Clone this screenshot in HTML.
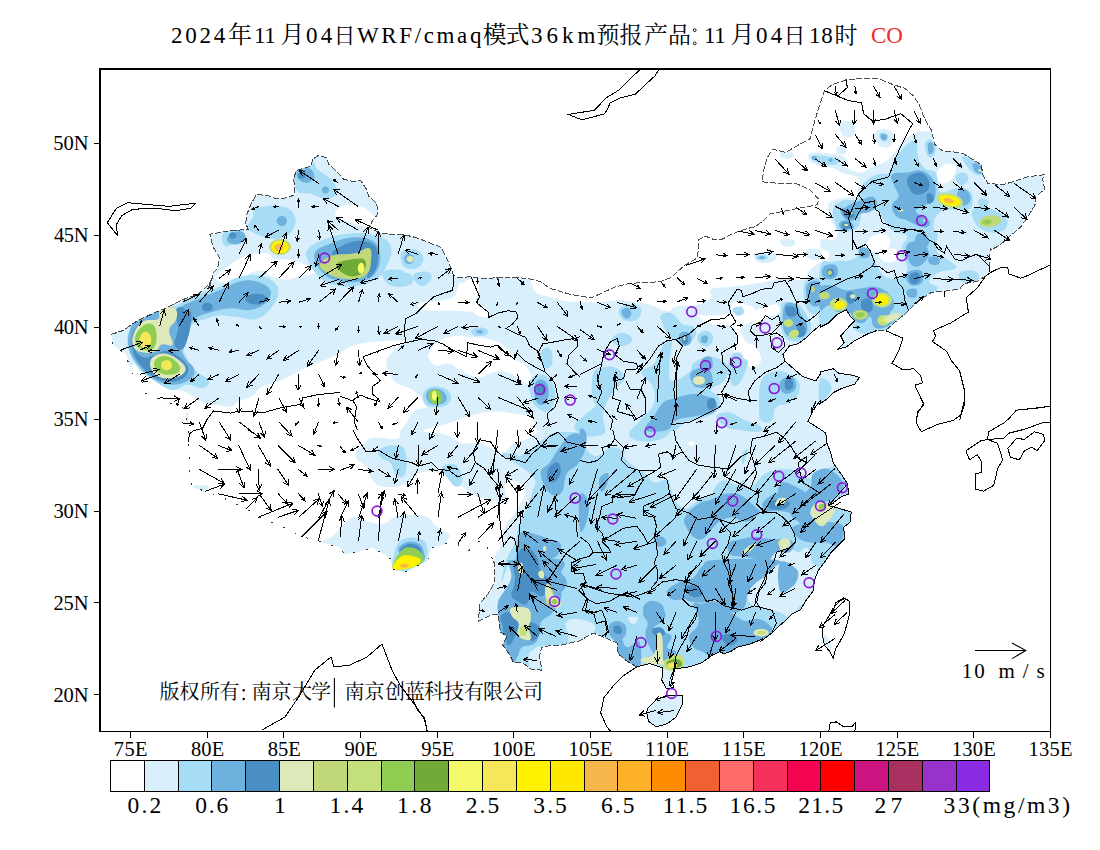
<!DOCTYPE html><html><head><meta charset="utf-8"><title>CO</title><style>html,body{margin:0;padding:0;background:#fff}svg{display:block}text{font-family:"Liberation Serif",serif;font-kerning:none;white-space:pre}text.cj{font-family:"Liberation Serif","Noto Serif CJK SC",serif}</style></head><body>
<svg width="1100" height="850" viewBox="0 0 1100 850">
<rect width="1100" height="850" fill="#fff"/>
<defs><clipPath id="c"><rect x="100" y="69" width="950.5" height="662"/></clipPath></defs>
<g clip-path="url(#c)">
<defs><clipPath id="cn"><path d="M312.4,159.6L317.8,155.7L326.6,157.5L328.7,164.0L337.5,172.7L344.0,179.3L352.7,181.5L360.4,180.4L365.8,188.0L369.1,196.7L376.7,203.3L377.8,214.2L372.4,220.7L369.1,227.3L376.7,231.6L385.5,233.8L405.1,234.9L418.2,238.2L431.3,243.6L440.0,246.9L442.6,250.0L446.9,258.7L451.3,268.5L453.5,275.1L458.9,277.9L470.9,276.6L479.6,278.4L497.1,277.9L514.6,277.5L527.7,278.4L540.7,281.6L549.5,288.2L560.4,291.5L571.3,294.7L580.0,295.8L590.9,298.0L614.9,287.1L630.2,283.2L645.5,282.7L660.7,281.6L671.6,277.3L677.1,271.8L684.7,265.3L697.8,257.6L698.5,240.0L705.0,236.0L714.0,239.6L721.5,239.6L731.3,234.2L746.6,228.7L755.3,226.6L762.9,221.1L770.0,214.0L790.0,210.0L805.0,207.0L812.0,205.8L817.5,204.7L818.6,199.3L809.8,189.5L795.0,183.0L775.0,183.0L761.8,181.8L764.0,169.4L767.0,158.0L772.7,149.1L785.8,152.4L798.9,144.7L809.8,139.3L815.0,120.0L820.0,104.0L824.4,90.7L833.1,84.2L846.2,79.8L863.6,78.3L878.9,78.7L892.0,84.2L905.1,88.5L913.8,96.2L919.3,104.9L924.7,119.1L931.3,130.0L934.6,144.2L942.2,150.7L953.1,151.8L964.0,154.0L972.7,159.5L981.5,164.9L982.6,174.7L988.0,183.5L1003.3,184.6L1014.2,181.3L1027.3,176.9L1044.7,174.7L1042.6,179.1L1044.7,188.9L1036.0,196.6L1034.9,205.3L1029.5,214.0L1020.7,227.1L1014.2,232.6L1000.0,245.0L991.0,250.0L990.2,248.7L989.1,266.2L990.2,272.7L985.8,276.0L977.1,281.5L970.6,282.5L964.0,283.6L959.6,289.1L944.4,291.3L931.3,292.4L924.7,296.7L916.0,303.3L907.3,312.0L894.2,322.9L885.5,330.6L876.7,330.6L868.0,333.8L854.9,340.4L846.2,346.9L838.5,349.1L844.0,342.6L840.7,336.0L848.4,327.3L854.9,320.7L850.5,316.4L846.2,309.8L837.5,314.2L828.7,322.9L820.0,327.3L820.0,325.3L813.5,330.7L806.9,337.3L798.2,343.8L789.5,346.0L782.9,354.7L785.1,361.3L802.6,376.6L815.7,380.9L820.0,374.4L820.0,372.0L833.1,368.7L838.5,373.1L852.7,375.3L859.3,377.5L854.9,384.0L841.8,388.4L833.1,392.7L826.5,399.3L820.0,403.6L820.7,400.0L813.1,410.2L808.0,421.6L818.2,428.0L825.8,433.1L827.1,443.3L830.9,453.5L833.5,463.6L841.1,473.8L847.5,484.0L848.7,494.2L841.1,496.7L834.7,501.8L828.4,505.6L838.5,508.2L851.3,512.0L850.0,522.2L843.6,527.3L844.9,538.7L838.5,545.1L830.9,552.7L825.8,560.4L818.2,570.5L814.4,580.7L813.1,590.9L805.5,601.1L800.4,610.0L792.7,613.5L786.2,620.0L779.6,625.5L773.1,632.0L764.4,638.6L760.0,641.8L763.3,638.6L750.2,644.0L737.1,647.3L730.6,651.6L724.0,653.8L719.6,651.6L710.9,656.0L702.2,662.6L689.1,666.9L673.8,669.1L673.8,670.2L670.6,677.8L673.8,687.6L666.2,688.7L661.8,680.0L662.9,668.0L649.8,663.6L636.7,666.9L625.8,660.4L618.2,653.8L617.1,642.9L601.8,636.4L593.1,633.1L580.0,640.7L570.2,642.9L561.5,645.1L552.7,645.1L541.8,647.3L539.6,656.0L541.8,670.2L530.9,669.1L522.2,662.6L513.5,662.6L509.1,653.8L502.6,645.1L506.9,636.4L500.4,632.0L498.2,614.5L491.6,614.5L478.6,621.1L479.6,603.6L487.3,594.9L493.8,584.0L494.9,573.1L493.8,560.0L492.7,558.7L486.2,552.2L488.4,545.6L479.6,541.3L474.2,543.5L468.7,551.1L457.8,544.6L446.9,543.5L431.6,547.8L427.3,560.9L405.5,571.8L392.4,569.6L390.2,558.7L372.7,547.8L357.5,552.2L344.4,554.4L340.0,547.8L318.2,541.3L302.9,536.9L281.1,526.0L259.3,517.3L246.2,508.6L217.8,495.5L191.6,486.7L189.5,469.3L188.4,430.0L185.1,408.7L145.8,393.5L141.5,380.4L130.5,371.6L126.2,354.2L113.1,345.5L110.9,334.5L124.0,330.2L132.7,323.6L140.4,319.3L154.5,312.7L165.5,308.4L182.9,299.6L198.2,294.2L209.1,284.4L211.3,280.0L207.6,289.5L210.9,284.0L213.1,273.1L217.5,268.7L219.6,257.8L213.1,246.9L209.8,234.3L230.5,230.6L248.0,229.5L245.8,222.9L246.9,214.2L251.3,203.3L256.7,194.5L267.6,195.6L276.4,198.9L287.3,197.8L294.9,194.5L293.8,179.3L296.0,170.5L311.3,166.2ZM647.6,708.4L656.4,699.6L667.3,695.3L682.6,695.3L682.6,704.0L676.0,717.1L667.3,723.6L656.4,726.9L648.7,721.5L646.6,712.7ZM845.1,598.2L849.5,601.5L849.9,612.4L847.3,623.3L844.0,634.2L838.6,644.0L835.3,649.5L833.1,658.2L829.8,651.6L824.4,645.1L822.2,634.2L823.3,625.5L829.8,614.5L835.3,605.8L840.7,600.4Z"/></clipPath></defs><g clip-path="url(#cn)">
<path d="M312.4,159.6L317.8,155.7L326.6,157.5L328.7,164.0L337.5,172.7L344.0,179.3L352.7,181.5L360.4,180.4L365.8,188.0L369.1,196.7L376.7,203.3L377.8,214.2L372.4,220.7L369.1,227.3L376.7,231.6L385.5,233.8L405.1,234.9L418.2,238.2L431.3,243.6L440.0,246.9L442.6,250.0L446.9,258.7L451.3,268.5L453.5,275.1L458.9,277.9L470.9,276.6L479.6,278.4L497.1,277.9L514.6,277.5L527.7,278.4L540.7,281.6L549.5,288.2L560.4,291.5L571.3,294.7L580.0,295.8L590.9,298.0L614.9,287.1L630.2,283.2L645.5,282.7L660.7,281.6L671.6,277.3L677.1,271.8L684.7,265.3L697.8,257.6L698.5,240.0L705.0,236.0L714.0,239.6L721.5,239.6L731.3,234.2L746.6,228.7L755.3,226.6L762.9,221.1L770.0,214.0L790.0,210.0L805.0,207.0L812.0,205.8L817.5,204.7L818.6,199.3L809.8,189.5L795.0,183.0L775.0,183.0L761.8,181.8L764.0,169.4L767.0,158.0L772.7,149.1L785.8,152.4L798.9,144.7L809.8,139.3L815.0,120.0L820.0,104.0L824.4,90.7L833.1,84.2L846.2,79.8L863.6,78.3L878.9,78.7L892.0,84.2L905.1,88.5L913.8,96.2L919.3,104.9L924.7,119.1L931.3,130.0L934.6,144.2L942.2,150.7L953.1,151.8L964.0,154.0L972.7,159.5L981.5,164.9L982.6,174.7L988.0,183.5L1003.3,184.6L1014.2,181.3L1027.3,176.9L1044.7,174.7L1042.6,179.1L1044.7,188.9L1036.0,196.6L1034.9,205.3L1029.5,214.0L1020.7,227.1L1014.2,232.6L1000.0,245.0L991.0,250.0L990.2,248.7L989.1,266.2L990.2,272.7L985.8,276.0L977.1,281.5L970.6,282.5L964.0,283.6L959.6,289.1L944.4,291.3L931.3,292.4L924.7,296.7L916.0,303.3L907.3,312.0L894.2,322.9L885.5,330.6L876.7,330.6L868.0,333.8L854.9,340.4L846.2,346.9L838.5,349.1L844.0,342.6L840.7,336.0L848.4,327.3L854.9,320.7L850.5,316.4L846.2,309.8L837.5,314.2L828.7,322.9L820.0,327.3L820.0,325.3L813.5,330.7L806.9,337.3L798.2,343.8L789.5,346.0L782.9,354.7L785.1,361.3L802.6,376.6L815.7,380.9L820.0,374.4L820.0,372.0L833.1,368.7L838.5,373.1L852.7,375.3L859.3,377.5L854.9,384.0L841.8,388.4L833.1,392.7L826.5,399.3L820.0,403.6L820.7,400.0L813.1,410.2L808.0,421.6L818.2,428.0L825.8,433.1L827.1,443.3L830.9,453.5L833.5,463.6L841.1,473.8L847.5,484.0L848.7,494.2L841.1,496.7L834.7,501.8L828.4,505.6L838.5,508.2L851.3,512.0L850.0,522.2L843.6,527.3L844.9,538.7L838.5,545.1L830.9,552.7L825.8,560.4L818.2,570.5L814.4,580.7L813.1,590.9L805.5,601.1L800.4,610.0L792.7,613.5L786.2,620.0L779.6,625.5L773.1,632.0L764.4,638.6L760.0,641.8L763.3,638.6L750.2,644.0L737.1,647.3L730.6,651.6L724.0,653.8L719.6,651.6L710.9,656.0L702.2,662.6L689.1,666.9L673.8,669.1L673.8,670.2L670.6,677.8L673.8,687.6L666.2,688.7L661.8,680.0L662.9,668.0L649.8,663.6L636.7,666.9L625.8,660.4L618.2,653.8L617.1,642.9L601.8,636.4L593.1,633.1L580.0,640.7L570.2,642.9L561.5,645.1L552.7,645.1L541.8,647.3L539.6,656.0L541.8,670.2L530.9,669.1L522.2,662.6L513.5,662.6L509.1,653.8L502.6,645.1L506.9,636.4L500.4,632.0L498.2,614.5L491.6,614.5L478.6,621.1L479.6,603.6L487.3,594.9L493.8,584.0L494.9,573.1L493.8,560.0L492.7,558.7L486.2,552.2L488.4,545.6L479.6,541.3L474.2,543.5L468.7,551.1L457.8,544.6L446.9,543.5L431.6,547.8L427.3,560.9L405.5,571.8L392.4,569.6L390.2,558.7L372.7,547.8L357.5,552.2L344.4,554.4L340.0,547.8L318.2,541.3L302.9,536.9L281.1,526.0L259.3,517.3L246.2,508.6L217.8,495.5L191.6,486.7L189.5,469.3L188.4,430.0L185.1,408.7L145.8,393.5L141.5,380.4L130.5,371.6L126.2,354.2L113.1,345.5L110.9,334.5L124.0,330.2L132.7,323.6L140.4,319.3L154.5,312.7L165.5,308.4L182.9,299.6L198.2,294.2L209.1,284.4L211.3,280.0L207.6,289.5L210.9,284.0L213.1,273.1L217.5,268.7L219.6,257.8L213.1,246.9L209.8,234.3L230.5,230.6L248.0,229.5L245.8,222.9L246.9,214.2L251.3,203.3L256.7,194.5L267.6,195.6L276.4,198.9L287.3,197.8L294.9,194.5L293.8,179.3L296.0,170.5L311.3,166.2Z" fill="#d9effb"/>
<path d="M647.6,708.4L656.4,699.6L667.3,695.3L682.6,695.3L682.6,704.0L676.0,717.1L667.3,723.6L656.4,726.9L648.7,721.5L646.6,712.7Z" fill="#d9effb"/>
<path d="M823.3,634.2L827.6,636.4L832.0,647.3L829.8,651.6L824.4,645.1Z" fill="#d9effb"/>
<path d="M136.0,362.9C138.6,362.9 139.5,367.7 143.6,371.6C147.8,375.6 151.1,379.3 156.7,382.6C162.4,385.8 166.8,386.3 172.0,388.0C177.2,389.8 179.0,389.8 182.9,391.3C186.8,392.8 187.7,393.5 191.6,395.6C195.6,397.8 196.9,400.2 202.6,402.2C208.2,404.2 214.3,404.6 220.0,405.5C225.7,406.3 227.0,407.4 230.9,406.6C234.8,405.7 235.3,403.3 239.6,401.1C244.0,398.9 248.4,398.5 252.7,395.6C257.1,392.8 257.1,389.5 261.5,386.9C265.8,384.3 268.9,384.7 274.6,382.6C280.2,380.4 283.3,379.1 289.8,376.0C296.4,373.0 301.2,370.1 307.3,367.3C313.4,364.4 315.1,364.0 320.4,361.8C325.6,359.6 329.5,358.1 333.5,356.4C337.4,354.6 335.8,355.3 340.0,353.1C344.2,350.9 347.3,347.6 354.5,345.3C361.8,343.0 366.2,342.7 376.4,341.6C386.5,340.6 399.6,340.2 405.5,340.2C411.3,340.2 407.2,340.0 405.5,341.6C403.7,343.2 400.4,344.7 396.7,348.2C393.0,351.7 388.4,354.3 386.9,359.1C385.4,363.9 387.1,367.4 389.1,372.2C391.1,377.0 392.1,379.6 396.7,383.1C401.3,386.6 406.3,386.2 412.0,389.6C417.7,393.1 422.0,397.1 425.1,400.6C428.2,404.0 429.5,404.9 427.3,407.1C425.1,409.3 418.6,408.0 414.2,411.5C409.8,415.0 408.1,420.8 405.5,424.6C402.8,428.3 402.8,427.2 401.1,430.0C399.3,432.8 402.0,437.2 396.7,438.7C391.5,440.3 381.5,436.8 374.9,437.6C368.4,438.5 367.9,439.4 364.0,443.1C360.1,446.8 354.8,451.4 355.3,456.2C355.7,461.0 362.7,462.3 366.2,467.1C369.7,471.9 369.2,476.3 372.7,480.2C376.2,484.1 377.1,485.9 383.6,486.7C390.2,487.6 398.5,487.2 405.5,484.5C412.4,481.9 412.4,476.3 418.6,473.6C424.7,471.0 429.9,471.0 436.0,471.5C442.1,471.9 443.9,472.8 449.1,475.8C454.3,478.9 457.0,482.8 462.2,486.7C467.4,490.7 469.2,492.8 475.3,495.5C481.4,498.1 486.6,498.1 492.7,499.8C498.8,501.6 501.5,503.8 505.8,504.2C510.2,504.6 510.6,504.2 514.6,502.0C518.5,499.8 525.5,491.1 525.5,493.3C525.5,495.5 518.5,506.4 514.6,512.9C510.6,519.5 508.4,519.9 505.8,526.0C503.2,532.1 503.2,538.2 501.5,543.5C499.7,548.7 498.8,549.1 497.1,552.2C495.4,555.2 494.9,558.7 492.7,558.7C490.6,558.7 487.1,554.8 486.2,552.2C485.3,549.6 489.7,547.8 488.4,545.6C487.1,543.5 482.5,541.7 479.6,541.3C476.8,540.8 476.4,541.5 474.2,543.5C472.0,545.4 472.0,550.9 468.7,551.1C465.5,551.3 462.2,546.1 457.8,544.6C453.5,543.0 448.7,545.4 446.9,543.5C445.2,541.5 451.3,538.2 449.1,534.7C446.9,531.2 440.4,529.5 436.0,526.0C431.6,522.5 432.5,519.5 427.3,517.3C422.0,515.1 416.4,515.1 409.8,515.1C403.3,515.1 399.8,515.5 394.5,517.3C389.3,519.0 388.9,523.0 383.6,523.8C378.4,524.7 374.5,523.0 368.4,521.6C362.3,520.3 358.3,516.4 353.1,517.3C347.9,518.2 346.5,522.1 342.2,526.0C337.8,529.9 336.7,533.6 331.3,536.9C325.8,540.2 317.5,541.4 314.9,542.4C312.3,543.3 320.6,542.6 318.2,541.7C315.8,540.8 310.3,540.9 302.9,538.0C295.5,535.1 289.8,531.0 281.1,527.1C272.4,523.2 266.3,521.9 259.3,518.4C252.3,514.9 254.5,514.0 246.2,509.6C237.9,505.3 228.7,500.9 217.8,496.6C206.9,492.2 197.5,493.3 191.6,487.8C185.8,482.4 189.2,480.8 188.4,469.3C187.5,457.7 188.2,442.1 187.3,430.0C186.4,417.9 192.5,415.8 184.0,408.7C175.5,401.6 153.5,400.2 144.7,394.6C136.0,388.9 143.2,385.0 140.4,380.4C137.5,375.8 131.4,375.1 130.5,371.6C129.7,368.2 133.4,362.9 136.0,362.9Z" fill="#ffffff"/>
<path d="M429.5,352.6C431.2,349.1 433.4,344.9 438.2,341.6C443.0,338.4 446.0,337.1 453.5,336.2C460.9,335.3 467.9,336.6 475.3,337.3C482.7,337.9 485.3,338.2 490.6,339.5C495.8,340.8 497.5,341.2 501.5,343.8C505.4,346.4 507.6,349.5 510.2,352.6C512.8,355.6 511.9,356.9 514.6,359.1C517.2,361.3 520.2,360.8 523.3,363.5C526.3,366.1 528.3,368.7 529.8,372.2C531.4,375.7 531.8,378.7 530.9,380.9C530.1,383.1 528.7,384.2 525.5,383.1C522.2,382.0 519.4,377.9 514.6,375.5C509.8,373.1 506.3,371.5 501.5,371.1C496.7,370.7 494.9,372.0 490.6,373.3C486.2,374.6 484.0,377.4 479.6,377.6C475.3,377.9 473.1,376.1 468.7,374.4C464.4,372.6 461.8,371.1 457.8,368.9C453.9,366.7 453.5,364.1 449.1,363.5C444.7,362.8 439.9,366.5 436.0,365.6C432.1,364.8 430.8,361.7 429.5,359.1C428.2,356.5 427.7,356.0 429.5,352.6Z" fill="#ffffff"/>
<path d="M444.7,424.6C454.3,421.5 461.3,418.4 470.9,415.8C480.5,413.2 484.0,411.9 492.7,411.5C501.5,411.0 506.7,412.3 514.6,413.6C522.4,415.0 527.7,414.7 532.0,418.0C536.4,421.3 534.6,427.6 536.4,430.0C538.1,432.4 542.5,428.3 540.7,430.0C539.0,431.7 532.9,436.1 527.7,438.7C522.4,441.3 519.8,440.0 514.6,443.1C509.3,446.1 505.8,452.7 501.5,454.0C497.1,455.3 497.1,451.8 492.7,449.6C488.4,447.5 485.8,444.4 479.6,443.1C473.5,441.8 469.2,444.8 462.2,443.1C455.2,441.3 452.6,436.8 444.7,434.4C436.9,432.0 422.9,433.1 422.9,431.1C422.9,429.1 435.1,427.6 444.7,424.6Z" fill="#ffffff"/>
<path d="M427.3,307.8C427.3,306.1 430.8,304.5 436.0,302.4C441.2,300.2 449.1,300.0 453.5,296.9C457.8,293.9 456.1,289.9 457.8,287.1C459.6,284.3 459.6,281.9 462.2,282.7C464.8,283.6 467.4,287.1 470.9,291.5C474.4,295.8 476.2,299.7 479.6,304.5C483.1,309.3 488.4,313.1 488.4,315.5C488.4,317.9 483.1,317.4 479.6,316.6C476.2,315.7 475.3,313.1 470.9,311.1C466.6,309.1 462.2,306.9 457.8,306.7C453.5,306.5 453.5,309.1 449.1,310.0C444.7,310.9 440.4,311.5 436.0,311.1C431.6,310.7 427.3,309.6 427.3,307.8Z" fill="#ffffff"/>
<path d="M505.8,482.4C508.4,479.7 515.0,480.2 518.9,482.4C522.8,484.5 525.5,488.9 525.5,493.3C525.5,497.6 522.0,501.6 518.9,504.2C515.9,506.8 512.8,508.1 510.2,506.4C507.6,504.6 506.7,500.3 505.8,495.5C505.0,490.7 503.2,485.0 505.8,482.4Z" fill="#ffffff"/>
<path d="M215.3,276.4C216.6,273.5 221.8,270.9 226.2,267.6C230.5,264.4 232.3,262.6 237.1,260.0C241.9,257.4 244.1,255.9 250.2,254.6C256.3,253.2 262.8,252.6 267.6,253.5C272.4,254.3 269.4,257.6 274.2,258.9C279.0,260.2 285.5,258.9 291.6,260.0C297.8,261.1 300.2,263.1 304.7,264.4C309.3,265.7 311.7,265.2 314.6,266.6C317.4,267.9 319.6,269.4 318.9,270.9C318.3,272.4 315.4,273.1 311.3,274.2C307.1,275.3 303.0,275.3 298.2,276.4C293.4,277.5 292.5,279.6 287.3,279.6C282.0,279.6 276.8,278.1 272.0,276.4C267.2,274.6 267.2,271.8 263.3,270.9C259.3,270.0 256.3,270.7 252.4,272.0C248.4,273.3 248.0,275.5 243.6,277.5C239.3,279.4 235.3,281.0 230.5,281.8C225.7,282.7 222.7,282.9 219.6,281.8C216.6,280.7 214.0,279.2 215.3,276.4Z" fill="#ffffff"/>
<path d="M420.0,303.8C424.4,302.0 434.5,300.9 445.5,300.9C456.4,300.9 466.5,302.4 474.5,303.8C482.5,305.3 485.5,306.6 485.5,308.2C485.5,309.8 482.5,311.5 474.5,311.8C466.5,312.2 455.6,310.4 445.5,310.0C435.3,309.6 428.7,311.2 423.6,310.0C418.5,308.8 415.6,305.6 420.0,303.8Z" fill="#ffffff"/>
<path d="M463.6,282.7C467.3,278.7 476.0,277.3 478.2,280.9C480.4,284.5 478.2,296.9 474.5,300.9C470.9,304.9 462.2,304.5 460.0,300.9C457.8,297.3 460.0,286.7 463.6,282.7Z" fill="#ffffff"/>
<path d="M335.3,212.0C336.2,209.4 339.6,206.8 344.0,205.5C348.4,204.2 351.9,204.2 357.1,205.5C362.3,206.8 366.7,209.0 370.2,212.0C373.7,215.1 375.0,217.7 374.6,220.7C374.1,223.8 372.4,226.8 368.0,227.3C363.6,227.7 358.4,224.7 352.7,222.9C347.1,221.2 343.1,220.7 339.6,218.6C336.2,216.4 334.4,214.6 335.3,212.0Z" fill="#ffffff"/>
<path d="M532.0,271.8C526.4,316.2 531.1,278.6 532.0,282.7C532.9,286.9 532.9,289.7 536.4,292.5C539.9,295.4 543.4,295.2 549.5,296.9C555.6,298.7 560.8,300.3 566.9,301.3C573.0,302.2 573.9,301.5 580.0,301.7C586.1,301.9 589.6,302.7 597.5,302.4C605.3,302.1 611.4,300.2 619.3,300.2C627.1,300.2 630.6,301.5 636.7,302.4C642.8,303.2 643.7,302.8 649.8,304.5C655.9,306.3 662.0,310.7 667.3,311.1C672.5,311.5 669.9,308.0 676.0,306.7C682.1,305.4 690.8,306.3 697.8,304.5C704.8,302.8 708.3,301.1 710.9,298.0C713.5,294.9 707.4,291.5 710.9,289.3C714.4,287.1 721.4,288.0 728.4,287.1C735.4,286.2 739.3,285.8 745.8,284.9C752.4,284.0 755.9,283.6 761.1,282.7C766.3,281.9 767.2,281.4 772.0,280.5C776.8,279.7 778.9,278.5 785.1,278.4C791.4,278.3 798.3,281.6 803.3,280.0C808.2,278.4 806.3,273.9 809.8,270.2C813.3,266.5 816.8,265.0 820.7,261.5C824.7,258.0 829.5,255.4 829.5,252.7C829.5,250.1 822.1,250.6 820.7,248.4C819.4,246.2 820.3,243.6 822.9,241.8C825.5,240.1 830.8,241.8 833.8,239.6C836.9,237.5 838.6,234.4 838.2,230.9C837.8,227.4 833.4,225.7 831.7,222.2C829.9,218.7 829.9,217.4 829.5,213.5C829.0,209.5 826.9,205.6 829.5,202.6C832.1,199.5 836.5,199.5 842.6,198.2C848.7,196.9 857.1,197.2 860.0,196.0C862.9,194.8 857.2,195.6 857.1,192.2C856.9,188.8 862.3,183.0 859.3,179.1C856.2,175.2 847.1,175.0 841.8,172.6C836.6,170.2 833.1,168.4 833.1,167.1C833.1,165.8 836.6,164.9 841.8,166.0C847.1,167.1 853.6,172.1 859.3,172.6C864.9,173.0 864.9,170.4 870.2,168.2C875.4,166.0 880.7,164.7 885.5,161.6C890.3,158.6 890.7,156.8 894.2,152.9C897.7,149.0 899.0,145.9 902.9,142.0C906.8,138.1 909.5,135.5 913.8,133.3C918.2,131.1 921.2,131.7 924.7,131.1C928.2,130.4 927.8,133.5 931.3,130.0C934.8,126.5 943.5,123.0 942.2,113.6C940.9,104.3 936.1,93.6 924.7,83.1C913.4,72.6 958.4,65.7 885.5,61.3C812.5,56.9 630.7,18.9 560.0,61.0C489.3,103.1 537.6,227.5 532.0,271.8Z" fill="#ffffff"/>
<path d="M697.8,315.5C697.8,313.7 704.8,315.9 710.9,315.5C717.0,315.0 724.0,315.9 728.4,313.3C732.7,310.7 729.2,304.1 732.7,302.4C736.2,300.6 741.5,303.2 745.8,304.5C750.2,305.9 753.2,305.9 754.6,308.9C755.9,312.0 755.0,315.9 752.4,319.8C749.8,323.8 742.8,324.2 741.5,328.6C740.2,332.9 743.2,338.2 745.8,341.6C748.4,345.1 751.5,342.5 754.6,346.0C757.6,349.5 761.1,354.7 761.1,359.1C761.1,363.5 757.6,367.0 754.6,367.8C751.5,368.7 748.4,366.5 745.8,363.5C743.2,360.4 744.1,355.2 741.5,352.6C738.8,349.9 733.6,353.4 732.7,350.4C731.9,347.3 737.5,342.1 737.1,337.3C736.7,332.5 735.8,329.0 730.6,326.4C725.3,323.8 717.5,326.4 710.9,324.2C704.4,322.0 697.8,317.2 697.8,315.5Z" fill="#ffffff"/>
<path d="M758.9,308.9C763.3,307.2 772.5,303.7 776.4,304.5C780.3,305.4 780.7,310.7 778.6,313.3C776.4,315.9 769.4,315.9 765.5,317.6C761.5,319.4 761.5,320.7 758.9,322.0C756.3,323.3 753.2,325.9 752.4,324.2C751.5,322.4 753.2,316.3 754.6,313.3C755.9,310.2 754.6,310.7 758.9,308.9Z" fill="#ffffff"/>
<path d="M937.8,170.4C939.6,167.3 943.1,164.7 946.6,163.8C950.0,163.0 954.0,163.4 955.3,166.0C956.6,168.6 955.3,173.4 953.1,176.9C950.9,180.4 947.4,183.0 944.4,183.5C941.3,183.9 939.1,181.7 937.8,179.1C936.5,176.5 936.1,173.4 937.8,170.4Z" fill="#ffffff"/>
<path d="M870.2,238.0C873.2,234.7 879.3,233.2 883.3,233.6C887.2,234.1 889.4,236.9 889.8,240.2C890.3,243.5 889.8,248.0 885.5,250.0C881.1,252.0 871.1,252.4 868.0,250.0C864.9,247.6 867.1,241.3 870.2,238.0Z" fill="#ffffff"/>
<path d="M878.9,253.1C880.7,250.5 890.7,247.4 894.2,248.7C897.7,250.0 898.1,257.0 896.4,259.6C894.6,262.3 889.0,263.1 885.5,261.8C882.0,260.5 877.2,255.7 878.9,253.1Z" fill="#ffffff"/>
<path d="M820.0,253.1C821.7,251.8 827.4,253.5 828.7,255.3C830.0,257.0 828.3,260.5 826.5,261.8C824.8,263.1 821.3,263.6 820.0,261.8C818.7,260.1 818.3,254.4 820.0,253.1Z" fill="#ffffff"/>
<path d="M780.4,152.4C782.3,151.3 790.0,151.3 792.4,152.4C794.8,153.5 794.3,156.7 792.4,157.8C790.4,158.9 785.0,158.9 782.6,157.8C780.2,156.7 778.4,153.5 780.4,152.4Z" fill="#d9effb"/>
<path d="M808.7,154.5C810.1,152.8 810.9,152.4 816.4,152.4C821.8,152.4 829.9,153.2 836.0,154.5C842.1,155.9 845.2,156.7 846.9,158.9C848.7,161.1 848.2,163.7 844.7,165.5C841.3,167.2 835.1,167.9 829.5,167.6C823.8,167.4 820.3,165.7 816.4,164.4C812.5,163.1 811.4,163.1 809.8,161.1C808.3,159.1 807.4,156.3 808.7,154.5Z" fill="#d9effb"/>
<path d="M840.4,124.0C841.7,121.2 848.7,120.1 851.3,121.8C853.9,123.6 854.8,129.9 853.5,132.7C852.2,135.6 847.4,137.7 844.7,136.0C842.1,134.3 839.1,126.8 840.4,124.0Z" fill="#d9effb"/>
<path d="M838.2,148.0C839.5,146.9 844.5,146.9 845.8,148.0C847.1,149.1 846.1,152.4 844.7,153.5C843.4,154.5 840.6,154.5 839.3,153.5C838.0,152.4 836.9,149.1 838.2,148.0Z" fill="#d9effb"/>
<path d="M780.4,239.6C782.1,238.3 789.5,238.6 792.4,239.6C795.2,240.7 796.3,243.8 794.6,245.1C792.8,246.4 786.5,247.3 783.6,246.2C780.8,245.1 778.6,241.0 780.4,239.6Z" fill="#d9effb"/>
<path d="M754.2,253.8C756.8,251.9 768.6,251.4 772.7,252.7C776.9,254.0 777.5,258.4 774.9,260.4C772.3,262.3 763.8,263.9 759.6,262.6C755.5,261.2 751.6,255.8 754.2,253.8Z" fill="#d9effb"/>
<path d="M820.7,239.6C822.3,238.6 827.7,238.6 829.5,239.6C831.2,240.7 831.0,244.0 829.5,245.1C827.9,246.2 823.6,246.2 821.8,245.1C820.1,244.0 819.2,240.7 820.7,239.6Z" fill="#d9effb"/>
<path d="M839.6,124.5C840.5,121.5 845.3,120.8 848.4,121.3C851.4,121.7 854.0,123.9 854.9,126.7C855.8,129.6 854.9,133.5 852.7,135.5C850.5,137.4 846.6,138.7 844.0,136.6C841.4,134.4 838.8,127.6 839.6,124.5Z" fill="#d9effb"/>
<path d="M874.5,133.3C875.9,130.0 881.5,128.5 885.5,128.9C889.4,129.3 893.3,132.0 894.2,135.5C895.1,139.0 892.9,144.4 889.8,146.4C886.8,148.3 882.0,147.9 878.9,145.3C875.9,142.7 873.2,136.6 874.5,133.3Z" fill="#d9effb"/>
<path d="M837.5,146.4C839.2,145.3 844.9,145.9 846.2,147.5C847.5,149.0 845.7,152.9 844.0,154.0C842.3,155.1 838.8,154.4 837.5,152.9C836.1,151.4 835.7,147.5 837.5,146.4Z" fill="#d9effb"/>
<path d="M754.6,254.4C757.2,252.8 768.5,253.1 772.0,254.4C775.5,255.7 774.6,259.4 772.0,260.9C769.4,262.4 762.4,263.3 758.9,262.0C755.4,260.7 751.9,255.9 754.6,254.4Z" fill="#d9effb"/>
<path d="M806.9,250.0C809.1,248.3 817.4,248.3 820.0,250.0C822.6,251.7 822.2,257.0 820.0,258.7C817.8,260.5 811.7,260.5 809.1,258.7C806.5,257.0 804.7,251.7 806.9,250.0Z" fill="#d9effb"/>
<path d="M193.8,485.6C196.4,484.8 204.3,484.8 206.9,485.6C209.5,486.5 209.5,489.1 206.9,490.0C204.3,490.9 196.4,490.9 193.8,490.0C191.2,489.1 191.2,486.5 193.8,485.6Z" fill="#d9effb"/>
<path d="M520.0,456.0C523.7,454.7 527.0,451.6 533.1,447.3C539.2,442.9 544.4,437.2 550.5,434.2C556.7,431.1 557.5,432.0 563.6,432.0C569.7,432.0 576.7,431.1 581.1,434.2C585.5,437.2 582.4,442.9 585.5,447.3C588.5,451.6 591.1,456.0 596.4,456.0C601.6,456.0 606.0,448.2 611.6,447.3C617.3,446.4 622.3,449.9 624.7,451.6C627.1,453.4 621.7,453.1 623.6,456.2C625.6,459.3 630.2,463.6 634.5,467.1C638.9,470.6 641.5,470.6 645.5,473.6C649.4,476.7 649.8,481.1 654.2,482.4C658.6,483.7 663.8,478.4 667.3,480.2C670.8,481.9 669.9,486.7 671.6,491.1C673.4,495.5 673.4,498.5 676.0,502.0C678.6,505.5 681.2,508.1 684.7,508.6C688.2,509.0 690.0,506.4 693.5,504.2C697.0,502.0 698.7,499.4 702.2,497.6C705.7,495.9 708.3,497.6 710.9,495.5C713.5,493.3 712.7,489.8 715.3,486.7C717.9,483.7 719.6,480.6 724.0,480.2C728.4,479.7 732.7,485.9 737.1,484.5C741.5,483.2 745.0,478.4 745.8,473.6C746.7,468.8 741.5,465.3 741.5,460.5C741.5,455.7 741.9,452.3 745.8,449.6C749.8,447.0 757.2,450.1 761.1,447.5C765.0,444.8 763.3,440.0 765.5,436.5C767.7,433.1 767.2,430.4 772.0,430.0C776.8,429.6 784.2,431.3 789.5,434.4C794.7,437.4 794.7,443.5 798.2,445.3C801.7,447.0 804.3,444.8 806.9,443.1C809.5,441.3 808.7,438.3 811.3,436.5C813.9,434.8 823.2,433.0 820.0,434.4C816.8,435.7 798.2,438.9 795.3,443.3C792.4,447.6 800.9,451.4 805.5,456.0C810.0,460.6 812.6,464.7 818.2,466.2C823.8,467.7 828.9,462.1 833.5,463.6C838.0,465.2 838.3,469.7 841.1,473.8C843.9,477.9 845.9,479.9 847.5,484.0C849.0,488.1 850.0,491.6 848.7,494.2C847.5,496.7 843.9,495.2 841.1,496.7C838.3,498.3 837.3,500.0 834.7,501.8C832.2,503.6 827.6,504.4 828.4,505.6C829.1,506.9 834.0,506.9 838.5,508.2C843.1,509.5 849.0,509.2 851.3,512.0C853.6,514.8 851.5,519.1 850.0,522.2C848.5,525.2 844.7,524.0 843.6,527.3C842.6,530.6 845.9,535.2 844.9,538.7C843.9,542.3 841.3,542.3 838.5,545.1C835.7,547.9 833.5,549.7 830.9,552.7C828.4,555.8 828.4,556.8 825.8,560.4C823.3,563.9 820.5,566.5 818.2,570.5C815.9,574.6 815.4,576.7 814.4,580.7C813.3,584.8 814.9,586.8 813.1,590.9C811.3,595.0 808.0,597.3 805.5,601.1C802.9,604.9 802.9,607.5 800.4,610.0C797.8,612.5 795.6,611.5 792.7,613.5C789.9,615.5 788.8,617.6 786.2,620.0C783.6,622.4 782.3,623.1 779.6,625.5C777.0,627.9 776.1,629.4 773.1,632.0C770.0,634.6 767.0,636.6 764.4,638.6C761.7,640.5 760.2,641.8 760.0,641.8C759.8,641.8 765.2,638.1 763.3,638.6C761.3,639.0 755.4,642.3 750.2,644.0C745.0,645.8 741.0,645.8 737.1,647.3C733.2,648.8 733.2,650.3 730.6,651.6C727.9,653.0 726.2,653.8 724.0,653.8C721.8,653.8 722.3,651.2 719.6,651.6C717.0,652.1 714.4,653.8 710.9,656.0C707.4,658.2 706.6,660.4 702.2,662.6C697.8,664.7 694.8,665.6 689.1,666.9C683.4,668.2 679.1,668.9 673.8,669.1C668.6,669.3 667.7,669.1 662.9,668.0C658.1,666.9 655.1,663.9 649.8,663.6C644.6,663.4 641.5,667.6 636.7,666.9C631.9,666.3 629.5,663.0 625.8,660.4C622.1,657.8 619.9,657.3 618.2,653.8C616.4,650.3 620.4,646.4 617.1,642.9C613.8,639.4 606.6,638.3 601.8,636.4C597.0,634.4 597.5,632.2 593.1,633.1C588.7,634.0 584.6,638.8 580.0,640.7C575.4,642.7 573.9,642.0 570.2,642.9C566.5,643.8 565.0,644.7 561.5,645.1C558.0,645.5 556.7,644.7 552.7,645.1C548.8,645.5 544.4,645.1 541.8,647.3C539.2,649.5 539.6,651.4 539.6,656.0C539.6,660.6 543.6,667.6 541.8,670.2C540.1,672.8 534.8,670.6 530.9,669.1C527.0,667.6 525.7,663.9 522.2,662.6C518.7,661.2 516.1,664.3 513.5,662.6C510.8,660.8 511.3,657.3 509.1,653.8C506.9,650.3 503.0,648.6 502.6,645.1C502.1,641.6 507.4,639.0 506.9,636.4C506.5,633.8 502.1,636.4 500.4,632.0C498.6,627.6 498.6,620.7 498.2,614.5C497.8,608.4 496.9,606.3 498.2,601.5C499.5,596.7 502.1,595.3 504.7,590.5C507.4,585.7 510.4,582.7 511.3,577.5C512.2,572.2 511.1,563.3 509.1,564.4C507.1,565.4 502.1,583.4 501.5,582.7C500.8,582.0 503.2,568.8 505.8,560.9C508.4,553.1 511.9,550.4 514.6,543.5C517.2,536.5 516.7,532.6 518.9,526.0C521.1,519.5 522.8,517.3 525.5,510.7C528.1,504.2 530.3,499.8 532.0,493.3C533.8,486.7 537.7,484.1 534.2,478.0C530.7,471.9 521.1,467.5 514.6,462.7C508.0,457.9 501.5,455.8 501.5,454.0C501.5,452.2 510.9,453.2 514.6,453.6C518.3,454.0 516.3,457.3 520.0,456.0Z" fill="#a6dcf5"/>
<path d="M594.2,373.1C597.7,369.2 605.5,365.7 611.6,366.5C617.8,367.4 623.9,373.1 624.7,377.5C625.6,381.8 619.5,383.6 616.0,388.4C612.5,393.2 609.9,395.8 607.3,401.5C604.7,407.1 603.4,410.6 602.9,416.7C602.5,422.8 606.8,428.1 605.1,432.0C603.4,435.9 599.0,435.9 594.2,436.4C589.4,436.8 585.0,436.4 581.1,434.2C577.2,432.0 573.7,429.4 574.5,425.5C575.4,421.5 581.1,418.9 585.5,414.5C589.8,410.2 594.6,409.3 596.4,403.6C598.1,398.0 594.6,392.3 594.2,386.2C593.8,380.1 590.7,377.0 594.2,373.1Z" fill="#a6dcf5"/>
<path d="M637.8,440.7C632.6,439.4 629.1,437.7 629.1,434.2C629.1,430.7 633.5,427.6 637.8,423.3C642.2,418.9 644.8,411.9 650.9,412.4C657.0,412.8 664.9,421.1 668.4,425.5C671.9,429.8 671.0,431.1 668.4,434.2C665.8,437.2 661.4,439.4 655.3,440.7C649.2,442.0 643.1,442.0 637.8,440.7Z" fill="#a6dcf5"/>
<path d="M716.4,416.7C716.8,413.7 723.4,411.5 729.5,412.4C735.6,413.2 740.8,418.5 746.9,421.1C753.0,423.7 757.4,423.3 760.0,425.5C762.6,427.6 764.4,431.1 760.0,432.0C755.7,432.9 744.7,430.7 738.2,429.8C731.7,429.0 731.7,430.3 727.3,427.6C722.9,425.0 715.9,419.8 716.4,416.7Z" fill="#a6dcf5"/>
<path d="M729.5,360.0C733.0,356.1 743.9,357.4 746.9,360.0C750.0,362.6 746.5,368.3 744.7,373.1C743.0,377.9 741.3,382.7 738.2,384.0C735.1,385.3 731.2,384.4 729.5,379.6C727.7,374.8 726.0,363.9 729.5,360.0Z" fill="#a6dcf5"/>
<path d="M619.3,308.9C620.6,305.9 625.8,304.5 630.2,304.5C634.5,304.5 639.8,305.9 641.1,308.9C642.4,312.0 640.2,317.6 636.7,319.8C633.2,322.0 627.1,322.0 623.6,319.8C620.1,317.6 618.0,312.0 619.3,308.9Z" fill="#a6dcf5"/>
<path d="M660.7,315.5C662.5,313.3 667.3,311.5 671.6,313.3C676.0,315.0 678.2,321.6 682.6,324.2C686.9,326.8 690.8,324.2 693.5,326.4C696.1,328.6 697.0,331.6 695.6,335.1C694.3,338.6 690.8,342.5 686.9,343.8C683.0,345.1 679.9,343.8 676.0,341.6C672.1,339.5 669.9,336.4 667.3,332.9C664.7,329.4 664.2,327.7 662.9,324.2C661.6,320.7 659.0,317.6 660.7,315.5Z" fill="#a6dcf5"/>
<path d="M612.7,337.3C614.5,335.1 619.7,332.5 623.6,332.9C627.6,333.4 632.4,336.8 632.4,339.5C632.4,342.1 627.1,345.1 623.6,346.0C620.1,346.9 617.1,345.6 614.9,343.8C612.7,342.1 611.0,339.5 612.7,337.3Z" fill="#a6dcf5"/>
<path d="M641.1,372.2C641.5,367.8 649.8,368.7 654.2,363.5C658.6,358.2 659.4,350.4 662.9,346.0C666.4,341.6 670.3,338.2 671.6,341.6C673.0,345.1 669.5,355.6 669.5,363.5C669.5,371.3 667.7,379.2 671.6,380.9C675.6,382.7 684.7,375.7 689.1,372.2C693.5,368.7 690.0,366.5 693.5,363.5C697.0,360.4 701.3,357.8 706.6,356.9C711.8,356.0 715.3,356.9 719.6,359.1C724.0,361.3 727.5,363.5 728.4,367.8C729.2,372.2 727.5,376.6 724.0,380.9C720.5,385.3 711.8,386.2 710.9,389.6C710.0,393.1 718.8,394.0 719.6,398.4C720.5,402.7 718.8,407.5 715.3,411.5C711.8,415.4 708.3,415.8 702.2,418.0C696.1,420.2 690.8,419.8 684.7,422.4C678.6,425.0 681.2,429.4 671.6,431.1C662.0,432.8 642.0,434.2 636.7,431.1C631.5,428.0 642.0,421.5 645.5,415.8C649.0,410.2 652.9,408.8 654.2,402.7C655.5,396.6 654.6,391.4 652.0,385.3C649.4,379.2 640.7,376.6 641.1,372.2Z" fill="#a6dcf5"/>
<path d="M697.8,335.1C699.1,332.5 703.5,330.3 706.6,330.7C709.6,331.2 712.7,334.2 713.1,337.3C713.5,340.3 711.4,344.7 708.7,346.0C706.1,347.3 702.2,346.0 700.0,343.8C697.8,341.6 696.5,337.7 697.8,335.1Z" fill="#a6dcf5"/>
<path d="M732.7,308.9C733.6,307.2 739.3,305.9 741.5,306.7C743.6,307.6 744.5,311.5 743.6,313.3C742.8,315.0 739.3,316.3 737.1,315.5C734.9,314.6 731.9,310.7 732.7,308.9Z" fill="#a6dcf5"/>
<path d="M782.9,302.4C786.4,301.1 793.4,301.9 798.2,304.5C803.0,307.2 804.3,311.1 806.9,315.5C809.5,319.8 811.3,322.0 811.3,326.4C811.3,330.7 810.0,334.2 806.9,337.3C803.9,340.3 800.4,341.6 796.0,341.6C791.7,341.6 788.2,340.8 785.1,337.3C782.1,333.8 781.6,329.4 780.7,324.2C779.9,319.0 780.3,315.5 780.7,311.1C781.2,306.7 779.4,303.7 782.9,302.4Z" fill="#a6dcf5"/>
<path d="M804.7,282.7C807.4,277.1 817.0,274.9 820.0,280.5C823.1,286.2 822.6,305.4 820.0,311.1C817.4,316.8 810.0,314.6 806.9,308.9C803.9,303.2 802.1,288.4 804.7,282.7Z" fill="#a6dcf5"/>
<path d="M761.1,380.9C763.7,374.8 767.2,373.9 772.0,372.2C776.8,370.4 779.9,370.4 785.1,372.2C790.3,373.9 795.6,376.6 798.2,380.9C800.8,385.3 799.9,389.6 798.2,394.0C796.5,398.4 793.8,400.1 789.5,402.7C785.1,405.4 779.9,403.6 776.4,407.1C772.9,410.6 775.1,417.6 772.0,420.2C769.0,422.8 763.7,423.7 761.1,420.2C758.5,416.7 758.9,410.6 758.9,402.7C758.9,394.9 758.5,387.0 761.1,380.9Z" fill="#a6dcf5"/>
<path d="M730.6,356.9C732.7,351.7 738.8,351.7 741.5,354.7C744.1,357.8 744.5,366.1 743.6,372.2C742.8,378.3 739.7,383.5 737.1,385.3C734.5,387.0 731.9,386.6 730.6,380.9C729.2,375.2 728.4,362.2 730.6,356.9Z" fill="#a6dcf5"/>
<path d="M593.1,374.4C595.3,367.8 600.9,366.5 604.0,367.8C607.1,369.1 608.8,373.9 608.4,380.9C607.9,387.9 604.9,398.8 601.8,402.7C598.8,406.7 594.8,406.2 593.1,400.6C591.3,394.9 590.9,380.9 593.1,374.4Z" fill="#a6dcf5"/>
<path d="M760.0,256.5C761.0,255.8 764.4,255.6 765.5,256.1C766.6,256.6 766.4,258.5 765.5,259.2C764.5,259.9 761.8,260.1 760.7,259.6C759.6,259.1 759.1,257.2 760.0,256.5Z" fill="#a6dcf5"/>
<path d="M383.6,271.8C386.0,269.6 392.4,269.2 396.7,269.6C401.1,270.1 404.2,270.9 405.5,274.0C406.8,277.1 405.9,282.5 403.3,284.9C400.7,287.3 396.1,286.9 392.4,286.0C388.7,285.1 386.5,283.4 384.7,280.5C383.0,277.7 381.2,274.0 383.6,271.8Z" fill="#a6dcf5"/>
<path d="M402.2,254.4C403.9,252.0 408.3,250.7 412.0,251.1C415.7,251.5 419.4,253.7 420.7,256.5C422.0,259.4 420.7,263.1 418.6,265.3C416.4,267.5 412.9,267.9 409.8,267.5C406.8,267.0 404.8,265.7 403.3,263.1C401.7,260.5 400.4,256.8 402.2,254.4Z" fill="#a6dcf5"/>
<path d="M414.2,274.0C416.6,272.0 423.8,270.9 427.3,271.8C430.8,272.7 432.5,275.5 431.6,278.4C430.8,281.2 426.2,285.3 422.9,286.0C419.6,286.7 417.0,284.0 415.3,281.6C413.5,279.2 411.8,276.0 414.2,274.0Z" fill="#a6dcf5"/>
<path d="M488.4,331.8C488.4,332.6 488.2,333.0 487.5,333.7C486.9,334.4 486.3,334.8 485.1,335.2C483.9,335.7 483.1,335.9 481.6,336.1C480.1,336.2 479.2,336.2 477.7,336.1C476.2,335.9 475.4,335.7 474.2,335.2C473.0,334.8 472.4,334.4 471.8,333.7C471.1,333.0 470.9,332.6 470.9,331.8C470.9,331.1 471.1,330.6 471.8,329.9C472.4,329.2 473.0,328.9 474.2,328.4C475.4,327.9 476.2,327.7 477.7,327.6C479.2,327.4 480.1,327.4 481.6,327.6C483.1,327.7 483.9,327.9 485.1,328.4C486.3,328.9 486.9,329.2 487.5,329.9C488.2,330.6 488.4,331.1 488.4,331.8Z" fill="#a6dcf5"/>
<path d="M540.7,352.6C542.1,349.1 547.1,346.9 549.5,348.2C551.9,349.5 552.7,355.2 552.7,359.1C552.7,363.0 551.4,366.5 549.5,367.8C547.5,369.1 544.7,368.7 542.9,365.6C541.2,362.6 539.4,356.0 540.7,352.6Z" fill="#a6dcf5"/>
<path d="M529.8,380.9C531.8,376.6 536.8,374.8 540.7,374.4C544.7,373.9 546.6,375.7 549.5,378.7C552.3,381.8 554.1,384.8 554.9,389.6C555.8,394.4 555.4,398.4 553.8,402.7C552.3,407.1 550.8,410.6 547.3,411.5C543.8,412.3 539.7,410.2 536.4,407.1C533.1,404.0 532.2,401.4 530.9,396.2C529.6,391.0 527.9,385.3 529.8,380.9Z" fill="#a6dcf5"/>
<path d="M424.0,391.8C426.0,388.6 429.2,386.8 433.8,386.4C438.4,385.9 443.4,387.2 446.9,389.6C450.4,392.0 451.7,395.1 451.3,398.4C450.8,401.6 448.7,404.3 444.7,406.0C440.8,407.8 435.8,407.8 431.6,407.1C427.5,406.4 425.5,405.8 424.0,402.7C422.5,399.7 422.0,395.1 424.0,391.8Z" fill="#a6dcf5"/>
<path d="M379.3,449.6C382.3,447.0 391.5,444.8 396.7,445.3C402.0,445.7 403.7,446.1 405.5,451.8C407.2,457.5 407.2,468.8 405.5,473.6C403.7,478.4 399.8,478.0 396.7,475.8C393.7,473.6 393.2,466.2 390.2,462.7C387.1,459.2 383.6,461.0 381.5,458.4C379.3,455.7 376.2,452.3 379.3,449.6Z" fill="#a6dcf5"/>
<path d="M442.6,467.1C443.9,464.0 451.7,462.7 455.6,464.9C459.6,467.1 461.8,473.6 462.2,478.0C462.6,482.4 460.4,486.3 457.8,486.7C455.2,487.2 452.2,484.1 449.1,480.2C446.0,476.3 441.2,470.1 442.6,467.1Z" fill="#a6dcf5"/>
<path d="M394.5,552.2C396.3,546.1 398.0,541.7 403.3,539.1C408.5,536.5 415.9,537.4 420.7,539.1C425.5,540.8 426.4,543.5 427.3,547.8C428.2,552.2 427.7,556.6 425.1,560.9C422.5,565.3 420.3,567.9 414.2,569.6C408.1,571.4 398.5,573.1 394.5,569.6C390.6,566.2 392.8,558.3 394.5,552.2Z" fill="#a6dcf5"/>
<path d="M296.4,168.2C300.0,164.9 308.4,162.4 312.7,162.7C317.1,163.1 314.2,166.4 318.2,170.0C322.2,173.6 329.1,176.2 332.7,180.9C336.4,185.6 337.8,190.0 336.4,193.6C334.9,197.3 330.5,199.1 325.5,199.1C320.4,199.1 316.4,195.1 310.9,193.6C305.5,192.2 301.5,194.7 298.2,191.8C294.9,188.9 294.9,183.8 294.5,179.1C294.2,174.4 292.7,171.5 296.4,168.2Z" fill="#a6dcf5"/>
<path d="M256.4,208.2C262.2,206.0 274.2,204.9 281.8,206.4C289.5,207.8 292.4,210.7 294.5,215.5C296.7,220.2 296.0,225.3 292.7,230.0C289.5,234.7 284.7,238.0 278.2,239.1C271.6,240.2 266.5,237.3 260.0,235.5C253.5,233.6 249.8,229.3 245.5,230.0C241.1,230.7 241.8,235.8 238.2,239.1C234.5,242.4 230.5,246.4 227.3,246.4C224.0,246.4 221.8,242.4 221.8,239.1C221.8,235.8 222.5,232.5 227.3,230.0C232.0,227.5 240.4,228.9 245.5,226.4C250.5,223.8 250.5,220.9 252.7,217.3C254.9,213.6 250.5,210.4 256.4,208.2Z" fill="#a6dcf5"/>
<path d="M307.3,250.0C310.5,245.3 316.7,242.4 325.5,239.1C334.2,235.8 340.7,234.4 350.9,233.6C361.1,232.9 368.4,232.9 376.4,235.5C384.4,238.0 388.7,240.5 390.9,246.4C393.1,252.2 390.2,258.0 387.3,264.5C384.4,271.1 382.9,274.7 376.4,279.1C369.8,283.5 363.3,285.3 354.5,286.4C345.8,287.5 340.0,286.7 332.7,284.5C325.5,282.4 322.9,279.8 318.2,275.5C313.5,271.1 311.3,267.8 309.1,262.7C306.9,257.6 304.0,254.7 307.3,250.0Z" fill="#a6dcf5"/>
<path d="M401.8,251.8C404.4,248.5 412.0,248.5 416.4,250.0C420.7,251.5 423.6,255.5 423.6,259.1C423.6,262.7 420.4,266.7 416.4,268.2C412.4,269.6 406.5,269.6 403.6,266.4C400.7,263.1 399.3,255.1 401.8,251.8Z" fill="#a6dcf5"/>
<path d="M178.2,304.5C184.7,301.6 186.2,299.1 194.5,295.5C202.9,291.8 211.3,290.0 220.0,286.4C228.7,282.7 230.2,279.5 238.2,277.3C246.2,275.1 252.7,274.4 260.0,275.5C267.3,276.5 270.9,279.1 274.5,282.7C278.2,286.4 278.9,288.5 278.2,293.6C277.5,298.7 275.3,303.1 270.9,308.2C266.5,313.3 262.9,317.3 256.4,319.1C249.8,320.9 245.5,318.0 238.2,317.3C230.9,316.5 226.5,315.1 220.0,315.5C213.5,315.8 211.3,316.9 205.5,319.1C199.6,321.3 195.3,321.3 190.9,326.4C186.5,331.5 184.4,338.0 183.6,344.5C182.9,351.1 185.1,354.0 187.3,359.1C189.5,364.2 190.2,365.6 194.5,370.0C198.9,374.4 207.6,377.3 209.1,380.9C210.5,384.5 206.2,387.5 201.8,388.2C197.5,388.9 193.1,384.2 187.3,384.5C181.5,384.9 179.3,390.7 172.7,390.0C166.2,389.3 161.1,384.9 154.5,380.9C148.0,376.9 144.7,375.1 140.0,370.0C135.3,364.9 133.5,361.3 130.9,355.5C128.4,349.6 127.3,346.4 127.3,340.9C127.3,335.5 127.6,332.5 130.9,328.2C134.2,323.8 137.5,322.7 143.6,319.1C149.8,315.5 154.9,312.9 161.8,310.0C168.7,307.1 171.6,307.5 178.2,304.5Z" fill="#a6dcf5"/>
<path d="M394.5,275.5C396.7,272.9 405.5,272.2 409.1,273.6C412.7,275.1 414.9,280.2 412.7,282.7C410.5,285.3 401.8,287.8 398.2,286.4C394.5,284.9 392.4,278.0 394.5,275.5Z" fill="#a6dcf5"/>
<path d="M483.6,331.8C483.6,332.4 483.5,332.8 483.1,333.4C482.7,334.0 482.3,334.3 481.6,334.7C480.8,335.1 480.3,335.2 479.4,335.4C478.5,335.5 477.9,335.5 477.0,335.4C476.0,335.2 475.5,335.1 474.8,334.7C474.0,334.3 473.7,334.0 473.3,333.4C472.9,332.8 472.7,332.4 472.7,331.8C472.7,331.2 472.9,330.8 473.3,330.2C473.7,329.7 474.0,329.4 474.8,329.0C475.5,328.6 476.0,328.4 477.0,328.3C477.9,328.1 478.5,328.1 479.4,328.3C480.3,328.4 480.8,328.6 481.6,329.0C482.3,329.4 482.7,329.7 483.1,330.2C483.5,330.8 483.6,331.2 483.6,331.8Z" fill="#a6dcf5"/>
<path d="M863.6,183.5C867.6,178.7 871.5,176.9 876.7,174.7C882.0,172.6 885.9,176.0 889.8,172.6C893.8,169.1 892.9,163.0 896.4,157.3C899.9,151.6 903.4,147.2 907.3,144.2C911.2,141.1 913.8,139.4 916.0,142.0C918.2,144.6 916.4,152.0 918.2,157.3C919.9,162.5 921.2,165.1 924.7,168.2C928.2,171.2 933.0,169.1 935.6,172.6C938.3,176.0 936.5,181.7 937.8,185.6C939.1,189.6 937.8,191.8 942.2,192.2C946.6,192.6 954.0,187.8 959.6,187.8C965.3,187.8 967.9,189.6 970.6,192.2C973.2,194.8 973.2,197.4 972.7,200.9C972.3,204.4 972.7,207.9 968.4,209.6C964.0,211.4 957.0,208.8 950.9,209.6C944.8,210.5 941.3,210.5 937.8,214.0C934.3,217.5 933.5,222.7 933.5,227.1C933.5,231.5 938.7,231.2 937.8,235.8C937.0,240.4 936.1,247.2 929.1,250.0C922.1,252.8 907.3,252.8 902.9,250.0C898.6,247.2 909.0,239.5 907.3,235.8C905.5,232.1 898.6,234.1 894.2,231.5C889.8,228.8 889.0,227.1 885.5,222.7C882.0,218.4 881.1,211.8 876.7,209.6C872.4,207.5 868.4,209.2 863.6,211.8C858.8,214.4 857.1,218.8 852.7,222.7C848.4,226.7 845.3,231.5 841.8,231.5C838.3,231.5 837.0,227.1 835.3,222.7C833.5,218.4 831.8,214.0 833.1,209.6C834.4,205.3 837.0,203.1 841.8,200.9C846.6,198.7 852.7,202.2 857.1,198.7C861.5,195.2 859.7,188.3 863.6,183.5Z" fill="#a6dcf5"/>
<path d="M924.7,144.2C925.2,140.7 929.1,138.5 931.3,139.8C933.5,141.1 936.1,147.2 935.6,150.7C935.2,154.2 931.3,158.6 929.1,157.3C926.9,156.0 924.3,147.7 924.7,144.2Z" fill="#a6dcf5"/>
<path d="M955.3,176.9C955.7,174.3 961.4,172.1 964.0,172.6C966.6,173.0 968.8,176.5 968.4,179.1C967.9,181.7 964.4,186.1 961.8,185.6C959.2,185.2 954.8,179.5 955.3,176.9Z" fill="#a6dcf5"/>
<path d="M961.8,157.3C961.8,154.7 968.6,157.3 972.7,159.5C976.9,161.6 980.6,165.1 982.6,168.2C984.5,171.2 984.5,173.9 982.6,174.7C980.6,175.6 976.9,176.0 972.7,172.6C968.6,169.1 961.8,159.9 961.8,157.3Z" fill="#a6dcf5"/>
<path d="M972.7,209.6C974.9,206.6 980.2,206.6 985.8,207.5C991.5,208.3 996.7,211.0 1001.1,214.0C1005.5,217.1 1007.7,219.2 1007.7,222.7C1007.7,226.2 1005.5,229.7 1001.1,231.5C996.7,233.2 991.1,233.2 985.8,231.5C980.6,229.7 977.5,227.1 974.9,222.7C972.3,218.4 970.6,212.7 972.7,209.6Z" fill="#a6dcf5"/>
<path d="M979.3,198.7C981.0,197.6 986.7,199.2 988.0,200.9C989.3,202.7 987.6,206.4 985.8,207.5C984.1,208.6 980.6,208.1 979.3,206.4C978.0,204.6 977.5,199.8 979.3,198.7Z" fill="#a6dcf5"/>
<path d="M824.4,157.3C826.3,156.4 833.1,157.1 835.3,158.4C837.5,159.7 837.2,163.0 835.3,163.8C833.3,164.7 827.6,164.0 825.5,162.7C823.3,161.4 822.4,158.2 824.4,157.3Z" fill="#a6dcf5"/>
<path d="M880.0,133.3C881.3,132.2 886.3,132.8 887.6,134.4C889.0,135.9 887.9,139.8 886.6,140.9C885.2,142.0 882.4,141.4 881.1,139.8C879.8,138.3 878.7,134.4 880.0,133.3Z" fill="#a6dcf5"/>
<path d="M812.0,156.7C813.3,155.6 815.5,155.2 820.7,155.6C826.0,156.1 835.1,157.2 838.2,158.9C841.3,160.7 838.6,163.3 836.0,164.4C833.4,165.5 829.5,165.0 825.1,164.4C820.7,163.7 816.8,162.6 814.2,161.1C811.6,159.6 810.7,157.8 812.0,156.7Z" fill="#a6dcf5"/>
<path d="M834.9,204.7C837.5,202.6 846.3,202.6 851.3,202.6C856.3,202.6 858.3,200.8 860.0,204.7C861.8,208.7 861.8,217.0 860.0,222.2C858.3,227.4 855.7,229.2 851.3,230.9C846.9,232.7 841.3,232.7 838.2,230.9C835.1,229.2 836.0,225.7 836.0,222.2C836.0,218.7 838.4,217.0 838.2,213.5C838.0,210.0 832.3,206.9 834.9,204.7Z" fill="#a6dcf5"/>
<path d="M822.9,268.0C824.7,264.7 828.2,262.8 831.7,263.6C835.1,264.5 839.5,269.1 840.4,272.4C841.3,275.6 839.5,278.5 836.0,280.0C832.5,281.5 825.5,282.4 822.9,280.0C820.3,277.6 821.2,271.3 822.9,268.0Z" fill="#a6dcf5"/>
<path d="M767.9,257.5C767.9,258.0 767.8,258.3 767.3,258.8C766.9,259.2 766.5,259.4 765.6,259.8C764.8,260.1 764.2,260.2 763.2,260.3C762.2,260.4 761.5,260.4 760.5,260.3C759.4,260.2 758.8,260.1 758.0,259.8C757.2,259.4 756.8,259.2 756.3,258.8C755.9,258.3 755.7,258.0 755.7,257.5C755.7,257.0 755.9,256.8 756.3,256.3C756.8,255.9 757.2,255.6 758.0,255.3C758.8,255.0 759.4,254.9 760.5,254.8C761.5,254.7 762.2,254.7 763.2,254.8C764.2,254.9 764.8,255.0 765.6,255.3C766.5,255.6 766.9,255.9 767.3,256.3C767.8,256.8 767.9,257.0 767.9,257.5Z" fill="#a6dcf5"/>
<path d="M820.0,268.4C822.6,255.7 826.5,263.6 833.1,261.8C839.6,260.1 846.6,262.3 852.7,259.6C858.8,257.0 859.3,248.3 863.6,248.7C868.0,249.2 870.2,256.1 874.5,261.8C878.9,267.5 880.2,274.0 885.5,277.1C890.7,280.1 896.4,278.8 900.7,277.1C905.1,275.3 906.8,273.2 907.3,268.4C907.7,263.6 902.9,258.8 902.9,253.1C902.9,247.4 901.2,242.6 907.3,240.0C913.4,237.4 927.4,237.4 933.5,240.0C939.6,242.6 934.3,248.7 937.8,253.1C941.3,257.5 947.4,258.8 950.9,261.8C954.4,264.9 957.9,266.2 955.3,268.4C952.7,270.5 943.1,270.1 937.8,272.7C932.6,275.3 929.1,278.4 929.1,281.5C929.1,284.5 937.8,285.4 937.8,288.0C937.8,290.6 933.5,291.5 929.1,294.5C924.7,297.6 920.4,299.8 916.0,303.3C911.6,306.8 911.6,308.1 907.3,312.0C902.9,315.9 898.6,319.2 894.2,322.9C889.8,326.6 889.0,329.0 885.5,330.6C882.0,332.1 881.1,329.9 876.7,330.6C872.4,331.2 868.4,334.5 863.6,333.8C858.8,333.2 854.5,329.9 852.7,327.3C851.0,324.7 856.2,324.2 854.9,320.7C853.6,317.2 849.7,311.1 846.2,309.8C842.7,308.5 840.9,311.6 837.5,314.2C834.0,316.8 832.2,320.7 828.7,322.9C825.2,325.1 821.7,336.0 820.0,325.1C818.3,314.2 817.4,281.0 820.0,268.4Z" fill="#a6dcf5"/>
<path d="M959.6,272.7C961.8,270.5 968.8,269.7 972.7,270.5C976.7,271.4 979.3,274.7 979.3,277.1C979.3,279.5 976.2,281.7 972.7,282.5C969.2,283.4 964.4,283.4 961.8,281.5C959.2,279.5 957.5,274.9 959.6,272.7Z" fill="#a6dcf5"/>
<path d="M820.0,379.6C821.7,375.7 826.5,379.6 828.7,381.8C830.9,384.0 832.7,386.6 830.9,390.6C829.2,394.5 822.2,403.6 820.0,401.5C817.8,399.3 818.3,383.6 820.0,379.6Z" fill="#a6dcf5"/>
<path d="M767.7,560.9C769.0,557.0 772.0,554.8 776.4,552.2C780.7,549.6 785.1,547.8 789.5,547.8C793.8,547.8 794.7,552.2 798.2,552.2C801.7,552.2 804.3,546.1 806.9,547.8C809.5,549.6 811.3,555.7 811.3,560.9C811.3,566.2 809.5,569.6 806.9,574.0C804.3,578.4 801.7,579.2 798.2,582.7C794.7,586.2 793.8,588.8 789.5,591.5C785.1,594.1 781.6,594.1 776.4,595.8C771.1,597.6 767.7,600.2 763.3,600.2C758.9,600.2 757.2,598.4 754.6,595.8C751.9,593.2 748.4,590.2 750.2,587.1C751.9,584.0 759.4,583.6 763.3,580.6C767.2,577.5 769.0,575.8 769.8,571.8C770.7,567.9 766.3,564.8 767.7,560.9Z" fill="#d9effb"/>
<path d="M772.0,568.7C776.4,565.7 779.9,563.9 785.1,562.2C790.3,560.4 792.3,559.6 798.2,560.0C804.1,560.4 810.6,562.2 814.6,564.4C818.5,566.5 818.5,566.1 817.8,570.9C817.2,575.7 815.2,580.9 811.3,588.4C807.4,595.8 802.6,602.3 798.2,608.0C793.8,613.7 793.0,615.9 789.5,616.7C786.0,617.6 784.2,613.7 780.7,612.4C777.3,611.1 775.5,611.1 772.0,610.2C768.5,609.3 767.7,609.3 763.3,608.0C758.9,606.7 753.2,606.7 750.2,603.6C747.1,600.6 747.1,596.7 748.0,592.7C748.9,588.8 751.5,587.1 754.6,584.0C757.6,580.9 759.8,580.5 763.3,577.5C766.8,574.4 767.7,571.8 772.0,568.7Z" fill="#d9effb"/>
<path d="M565.8,623.3C567.1,620.2 569.3,618.9 574.6,618.9C579.8,618.9 588.1,620.7 592.0,623.3C595.9,625.9 595.9,628.5 594.2,632.0C592.5,635.5 588.1,638.6 583.3,640.7C578.5,642.9 573.2,644.2 570.2,642.9C567.1,641.6 568.9,638.1 568.0,634.2C567.1,630.3 564.5,626.3 565.8,623.3Z" fill="#d9effb"/>
<path d="M530.9,651.6C533.5,649.5 540.1,643.8 541.8,647.3C543.6,650.8 541.8,664.7 539.6,669.1C537.5,673.5 533.1,671.3 530.9,669.1C528.7,666.9 528.7,661.7 528.7,658.2C528.7,654.7 528.3,653.8 530.9,651.6Z" fill="#d9effb"/>
<path d="M780.0,552.7C783.1,550.7 790.2,550.7 795.3,552.7C800.4,554.8 801.6,557.3 805.5,562.9C809.3,568.5 814.4,573.1 814.4,580.7C814.4,588.4 809.3,596.5 805.5,601.1C801.6,605.7 797.3,610.3 795.3,603.6C793.2,597.0 798.3,576.1 795.3,568.0C792.2,559.9 783.1,566.0 780.0,562.9C776.9,559.9 776.9,554.8 780.0,552.7Z" fill="#d9effb"/>
<path d="M628.0,617.8C628.9,616.5 636.7,616.5 637.8,617.8C638.9,619.1 635.4,624.4 633.5,624.4C631.5,624.4 627.1,619.1 628.0,617.8Z" fill="#d9effb"/>
<path d="M689.1,442.0C690.0,441.3 692.6,441.3 693.5,442.0C694.3,442.7 694.3,444.6 693.5,445.3C692.6,445.9 690.0,445.9 689.1,445.3C688.2,444.6 688.2,442.7 689.1,442.0Z" fill="#ffffff"/>
<path d="M751.6,434.7C758.6,429.9 770.8,430.8 782.2,428.2C793.5,425.6 799.6,420.8 808.4,421.6C817.1,422.5 821.0,426.4 825.8,432.6C830.6,438.7 830.6,445.6 832.4,452.2C834.1,458.7 836.7,461.8 834.6,465.3C832.4,468.8 825.8,467.0 821.5,469.6C817.1,472.3 817.1,477.5 812.7,478.4C808.4,479.2 804.0,475.8 799.6,474.0C795.3,472.3 795.3,470.5 790.9,469.6C786.6,468.8 783.1,468.8 777.8,469.6C772.6,470.5 769.1,471.4 764.7,474.0C760.4,476.6 759.5,480.1 756.0,482.7C752.5,485.4 749.9,489.7 747.3,487.1C744.7,484.5 742.9,476.6 742.9,469.6C742.9,462.7 745.5,459.2 747.3,452.2C749.0,445.2 744.7,439.5 751.6,434.7Z" fill="#d9effb"/>
<path d="M298.2,170.0C300.4,167.8 305.8,166.7 309.1,168.2C312.4,169.6 314.9,174.4 314.5,177.3C314.2,180.2 310.5,182.4 307.3,182.7C304.0,183.1 300.0,181.6 298.2,179.1C296.4,176.5 296.0,172.2 298.2,170.0Z" fill="#6fb1de"/>
<path d="M329.1,190.0C329.1,190.6 329.0,191.0 328.7,191.6C328.5,192.1 328.2,192.4 327.7,192.8C327.2,193.2 326.9,193.4 326.3,193.5C325.6,193.7 325.3,193.7 324.6,193.5C324.0,193.4 323.7,193.2 323.2,192.8C322.7,192.4 322.5,192.1 322.2,191.6C321.9,191.0 321.8,190.6 321.8,190.0C321.8,189.4 321.9,189.0 322.2,188.4C322.5,187.9 322.7,187.6 323.2,187.2C323.7,186.8 324.0,186.6 324.6,186.5C325.3,186.3 325.6,186.3 326.3,186.5C326.9,186.6 327.2,186.8 327.7,187.2C328.2,187.6 328.5,187.9 328.7,188.4C329.0,189.0 329.1,189.4 329.1,190.0Z" fill="#6fb1de"/>
<path d="M286.9,220.9C286.9,221.8 286.8,222.3 286.4,223.1C286.0,223.9 285.7,224.3 285.0,224.9C284.3,225.4 283.8,225.7 283.0,225.9C282.1,226.1 281.5,226.1 280.7,225.9C279.8,225.7 279.3,225.4 278.6,224.9C278.0,224.3 277.6,223.9 277.2,223.1C276.8,222.3 276.7,221.8 276.7,220.9C276.7,220.0 276.8,219.5 277.2,218.7C277.6,217.9 278.0,217.5 278.6,216.9C279.3,216.4 279.8,216.1 280.7,215.9C281.5,215.7 282.1,215.7 283.0,215.9C283.8,216.1 284.3,216.4 285.0,216.9C285.7,217.5 286.0,217.9 286.4,218.7C286.8,219.5 286.9,220.0 286.9,220.9Z" fill="#6fb1de"/>
<path d="M230.9,233.6C233.8,231.8 238.9,230.7 241.8,231.8C244.7,232.9 246.5,236.5 245.5,239.1C244.4,241.6 240.0,244.2 236.4,244.5C232.7,244.9 228.4,243.1 227.3,240.9C226.2,238.7 228.0,235.5 230.9,233.6Z" fill="#6fb1de"/>
<path d="M314.5,253.6C316.4,247.5 324.7,246.0 332.7,242.7C340.7,239.5 346.5,237.6 354.5,237.3C362.5,236.9 367.6,237.6 372.7,240.9C377.8,244.2 379.3,247.5 380.0,253.6C380.7,259.8 380.0,266.4 376.4,271.8C372.7,277.3 369.1,279.1 361.8,280.9C354.5,282.7 347.6,282.4 340.0,280.9C332.4,279.5 328.7,279.1 323.6,273.6C318.5,268.2 312.7,259.8 314.5,253.6Z" fill="#6fb1de"/>
<path d="M181.8,306.4C186.5,303.1 190.5,302.4 198.2,299.1C205.8,295.8 211.3,293.6 220.0,290.0C228.7,286.4 233.8,282.4 241.8,280.9C249.8,279.5 254.2,280.5 260.0,282.7C265.8,284.9 270.2,287.5 270.9,291.8C271.6,296.2 268.0,300.9 263.6,304.5C259.3,308.2 255.6,309.3 249.1,310.0C242.5,310.7 238.2,307.8 230.9,308.2C223.6,308.5 220.0,309.6 212.7,311.8C205.5,314.0 200.0,314.7 194.5,319.1C189.1,323.5 188.7,328.5 185.5,333.6C182.2,338.7 180.7,344.5 178.2,344.5C175.6,344.5 173.5,339.5 172.7,333.6C172.0,327.8 172.7,320.9 174.5,315.5C176.4,310.0 177.1,309.6 181.8,306.4Z" fill="#6fb1de"/>
<path d="M129.1,333.6C130.5,327.8 131.3,323.5 136.4,319.1C141.5,314.7 147.3,313.3 154.5,311.8C161.8,310.4 168.4,307.5 172.7,311.8C177.1,316.2 174.2,324.9 176.4,333.6C178.5,342.4 180.0,348.2 183.6,355.5C187.3,362.7 193.8,364.9 194.5,370.0C195.3,375.1 192.4,378.0 187.3,380.9C182.2,383.8 176.4,385.3 169.1,384.5C161.8,383.8 157.5,381.6 150.9,377.3C144.4,372.9 140.7,368.5 136.4,362.7C132.0,356.9 130.5,354.0 129.1,348.2C127.6,342.4 127.6,339.5 129.1,333.6Z" fill="#6fb1de"/>
<path d="M414.2,259.1C414.2,260.0 414.1,260.5 413.7,261.3C413.3,262.1 413.0,262.5 412.3,263.1C411.6,263.6 411.1,263.9 410.2,264.1C409.4,264.3 408.8,264.3 408.0,264.1C407.1,263.9 406.6,263.6 405.9,263.1C405.2,262.5 404.9,262.1 404.5,261.3C404.1,260.5 404.0,260.0 404.0,259.1C404.0,258.2 404.1,257.7 404.5,256.9C404.9,256.1 405.2,255.7 405.9,255.1C406.6,254.6 407.1,254.3 408.0,254.1C408.8,253.9 409.4,253.9 410.2,254.1C411.1,254.3 411.6,254.6 412.3,255.1C413.0,255.7 413.3,256.1 413.7,256.9C414.1,257.7 414.2,258.2 414.2,259.1Z" fill="#6fb1de"/>
<path d="M535.3,383.1C536.8,379.4 540.3,379.0 542.9,379.8C545.5,380.7 547.5,383.3 548.4,387.5C549.3,391.6 548.8,397.1 547.3,400.6C545.8,404.0 543.1,405.4 540.7,404.9C538.3,404.5 536.4,402.7 535.3,398.4C534.2,394.0 533.8,386.8 535.3,383.1Z" fill="#6fb1de"/>
<path d="M427.3,391.8C429.0,389.4 432.5,388.3 436.0,388.6C439.5,388.8 442.8,390.3 444.7,392.9C446.7,395.5 447.6,399.2 445.8,401.6C444.1,404.0 439.7,405.1 436.0,404.9C432.3,404.7 429.0,403.2 427.3,400.6C425.5,397.9 425.5,394.2 427.3,391.8Z" fill="#6fb1de"/>
<path d="M483.1,331.8C483.1,332.1 483.1,332.3 482.8,332.6C482.5,332.9 482.3,333.0 481.8,333.2C481.3,333.4 481.0,333.5 480.4,333.5C479.8,333.6 479.5,333.6 478.9,333.5C478.3,333.5 477.9,333.4 477.5,333.2C477.0,333.0 476.8,332.9 476.5,332.6C476.2,332.3 476.2,332.1 476.2,331.8C476.2,331.5 476.2,331.3 476.5,331.1C476.8,330.8 477.0,330.6 477.5,330.5C477.9,330.3 478.3,330.2 478.9,330.1C479.5,330.1 479.8,330.1 480.4,330.1C481.0,330.2 481.3,330.3 481.8,330.5C482.3,330.6 482.5,330.8 482.8,331.1C483.1,331.3 483.1,331.5 483.1,331.8Z" fill="#6fb1de"/>
<path d="M540.7,471.5C541.6,466.7 545.1,468.4 549.5,462.7C553.8,457.1 558.2,448.8 562.6,443.1C566.9,437.4 567.8,435.7 571.3,434.4C574.8,433.1 578.3,431.3 580.0,436.5C581.8,441.8 582.6,453.1 580.0,460.5C577.4,468.0 570.4,467.5 566.9,473.6C563.4,479.7 565.2,486.7 562.6,491.1C559.9,495.5 557.3,496.3 553.8,495.5C550.3,494.6 547.7,491.5 545.1,486.7C542.5,481.9 539.9,476.3 540.7,471.5Z" fill="#6fb1de"/>
<path d="M521.1,532.6C525.0,529.1 530.7,533.4 536.4,534.7C542.1,536.0 544.7,537.4 549.5,539.1C554.3,540.8 558.6,540.4 560.4,543.5C562.1,546.5 560.4,550.9 558.2,554.4C556.0,557.9 549.5,557.9 549.5,560.9C549.5,564.0 554.7,565.3 558.2,569.6C561.7,574.0 566.9,577.5 566.9,582.7C566.9,588.0 561.7,591.5 558.2,595.8C554.7,600.2 553.0,601.7 549.5,604.6C546.0,607.4 549.5,608.9 540.7,610.0C532.0,611.1 511.9,613.7 505.8,610.0C499.7,606.3 508.4,599.5 510.2,591.5C511.9,583.4 513.2,577.5 514.6,569.6C515.9,561.8 515.4,559.6 516.7,552.2C518.0,544.8 517.2,536.0 521.1,532.6Z" fill="#6fb1de"/>
<path d="M398.9,552.2C395.6,548.5 401.5,544.1 405.5,542.4C409.4,540.6 414.8,541.5 418.6,543.5C422.3,545.4 423.4,548.7 424.0,552.2C424.7,555.7 426.8,560.9 421.8,560.9C416.8,560.9 402.2,555.9 398.9,552.2Z" fill="#6fb1de"/>
<path d="M621.5,311.1C621.9,308.9 626.0,307.2 628.0,307.8C630.0,308.5 631.7,312.2 631.3,314.4C630.8,316.6 627.8,319.4 625.8,318.7C623.9,318.1 621.0,313.3 621.5,311.1Z" fill="#6fb1de"/>
<path d="M680.4,332.9C682.3,331.4 686.9,331.2 689.1,332.9C691.3,334.7 692.2,339.0 691.3,341.6C690.4,344.3 687.1,346.2 684.7,346.0C682.3,345.8 680.2,343.2 679.3,340.6C678.4,337.9 678.4,334.4 680.4,332.9Z" fill="#6fb1de"/>
<path d="M702.2,336.2C703.5,335.1 706.8,334.9 707.6,336.2C708.5,337.5 707.9,341.6 706.6,342.7C705.2,343.8 702.0,343.0 701.1,341.6C700.2,340.3 700.9,337.3 702.2,336.2Z" fill="#6fb1de"/>
<path d="M691.3,372.2C693.5,369.6 698.3,367.8 702.2,367.8C706.1,367.8 709.2,368.7 710.9,372.2C712.7,375.7 713.5,382.2 710.9,385.3C708.3,388.3 701.8,388.3 697.8,387.5C693.9,386.6 692.6,384.0 691.3,380.9C690.0,377.9 689.1,374.8 691.3,372.2Z" fill="#6fb1de"/>
<path d="M702.2,359.1C703.7,356.7 709.0,355.2 710.9,356.9C712.9,358.7 713.5,365.4 712.0,367.8C710.5,370.2 705.2,370.7 703.3,368.9C701.3,367.2 700.7,361.5 702.2,359.1Z" fill="#6fb1de"/>
<path d="M673.8,398.4C679.9,396.6 686.9,394.4 693.5,394.0C700.0,393.6 702.2,394.9 706.6,396.2C710.9,397.5 713.5,397.5 715.3,400.6C717.0,403.6 718.8,408.4 715.3,411.5C711.8,414.5 705.7,414.1 697.8,415.8C690.0,417.6 682.1,417.4 676.0,420.2C669.9,423.0 673.4,428.0 667.3,430.0C661.2,432.0 648.1,432.8 645.5,430.0C642.8,427.2 650.7,421.3 654.2,415.8C657.7,410.4 659.0,406.2 662.9,402.7C666.8,399.2 667.7,400.1 673.8,398.4Z" fill="#6fb1de"/>
<path d="M785.1,304.5C787.7,301.5 793.0,302.8 796.0,304.5C799.1,306.3 798.2,309.3 800.4,313.3C802.6,317.2 806.1,319.8 806.9,324.2C807.8,328.6 807.4,332.5 804.7,335.1C802.1,337.7 797.8,337.7 793.8,337.3C789.9,336.8 787.3,336.4 785.1,332.9C782.9,329.4 782.9,325.5 782.9,319.8C782.9,314.2 782.5,307.6 785.1,304.5Z" fill="#6fb1de"/>
<path d="M806.9,284.9C809.1,281.0 817.4,278.8 820.0,282.7C822.6,286.7 822.2,300.6 820.0,304.5C817.8,308.5 811.7,306.3 809.1,302.4C806.5,298.4 804.7,288.8 806.9,284.9Z" fill="#6fb1de"/>
<path d="M780.7,380.9C782.9,378.3 788.6,375.2 791.7,376.6C794.7,377.9 796.9,384.0 796.0,387.5C795.1,391.0 790.3,393.6 787.3,394.0C784.2,394.4 782.1,392.3 780.7,389.6C779.4,387.0 778.6,383.5 780.7,380.9Z" fill="#6fb1de"/>
<path d="M580.0,430.0C581.3,425.6 585.7,430.0 586.5,434.4C587.4,438.7 585.7,447.5 584.4,451.8C583.1,456.2 580.9,460.5 580.0,456.2C579.1,451.8 578.7,434.4 580.0,430.0Z" fill="#6fb1de"/>
<path d="M580.0,495.5C581.7,489.8 587.4,496.8 588.7,502.0C590.0,507.2 588.3,516.0 586.5,521.6C584.8,527.3 581.3,535.6 580.0,530.4C578.7,525.1 578.3,501.1 580.0,495.5Z" fill="#6fb1de"/>
<path d="M599.6,478.0C601.2,474.5 607.1,471.9 608.4,473.6C609.7,475.4 607.7,483.2 606.2,486.7C604.7,490.2 602.0,492.8 600.7,491.1C599.4,489.3 598.1,481.5 599.6,478.0Z" fill="#6fb1de"/>
<path d="M684.7,517.3C686.9,512.5 692.6,507.7 697.8,504.2C703.1,500.7 706.6,501.6 710.9,499.8C715.3,498.1 715.7,496.8 719.6,495.5C723.6,494.2 726.2,493.3 730.6,493.3C734.9,493.3 736.7,492.8 741.5,495.5C746.3,498.1 751.1,502.9 754.6,506.4C758.0,509.9 760.7,509.9 758.9,512.9C757.2,516.0 751.1,520.8 745.8,521.6C740.6,522.5 738.0,517.3 732.7,517.3C727.5,517.3 724.0,519.0 719.6,521.6C715.3,524.3 714.4,526.9 710.9,530.4C707.4,533.9 705.7,537.8 702.2,539.1C698.7,540.4 696.5,539.1 693.5,536.9C690.4,534.7 688.7,532.1 686.9,528.2C685.2,524.3 682.6,522.1 684.7,517.3Z" fill="#6fb1de"/>
<path d="M763.3,502.0C765.5,498.5 771.1,495.5 776.4,493.3C781.6,491.1 783.4,491.1 789.5,491.1C795.6,491.1 800.8,493.3 806.9,493.3C813.0,493.3 817.4,484.5 820.0,491.1C822.6,497.6 822.6,518.6 820.0,526.0C817.4,533.4 811.3,529.1 806.9,528.2C802.6,527.3 801.7,524.7 798.2,521.6C794.7,518.6 793.8,515.1 789.5,512.9C785.1,510.7 781.2,511.2 776.4,510.7C771.6,510.3 768.1,512.5 765.5,510.7C762.8,509.0 761.1,505.5 763.3,502.0Z" fill="#6fb1de"/>
<path d="M728.4,543.5C730.6,540.4 736.2,540.4 741.5,539.1C746.7,537.8 748.4,536.9 754.6,536.9C760.7,536.9 765.9,538.7 772.0,539.1C778.1,539.5 780.7,538.2 785.1,539.1C789.5,540.0 793.0,540.8 793.8,543.5C794.7,546.1 793.0,550.4 789.5,552.2C786.0,553.9 780.7,550.4 776.4,552.2C772.0,553.9 772.0,559.6 767.7,560.9C763.3,562.2 759.8,559.6 754.6,558.7C749.3,557.9 746.3,557.4 741.5,556.6C736.7,555.7 733.2,557.0 730.6,554.4C727.9,551.8 726.2,546.5 728.4,543.5Z" fill="#6fb1de"/>
<path d="M684.7,582.7C686.5,579.2 690.0,579.7 693.5,580.6C697.0,581.4 697.8,586.7 702.2,587.1C706.6,587.5 711.8,581.9 715.3,582.7C718.8,583.6 720.5,588.0 719.6,591.5C718.8,595.0 715.3,598.0 710.9,600.2C706.6,602.4 703.1,602.8 697.8,602.4C692.6,601.9 687.4,601.9 684.7,598.0C682.1,594.1 683.0,586.2 684.7,582.7Z" fill="#6fb1de"/>
<path d="M654.2,539.1C655.1,537.1 660.5,536.0 662.9,536.9C665.3,537.8 667.1,541.5 666.2,543.5C665.3,545.4 661.0,547.6 658.6,546.7C656.2,545.9 653.3,541.1 654.2,539.1Z" fill="#6fb1de"/>
<path d="M702.2,569.6C703.5,567.0 707.4,565.3 710.9,565.3C714.4,565.3 718.8,566.6 719.6,569.6C720.5,572.7 718.3,578.8 715.3,580.6C712.2,582.3 707.0,580.6 704.4,578.4C701.8,576.2 700.9,572.3 702.2,569.6Z" fill="#6fb1de"/>
<path d="M645.5,604.6C648.1,603.0 655.1,601.3 658.6,602.4C662.0,603.5 665.5,608.5 662.9,610.0C660.3,611.5 649.0,611.1 645.5,610.0C642.0,608.9 642.8,606.1 645.5,604.6Z" fill="#6fb1de"/>
<path d="M667.3,590.5C669.0,587.1 675.1,584.4 680.4,581.8C685.6,579.2 689.1,580.5 693.5,577.5C697.8,574.4 697.8,570.0 702.2,566.5C706.6,563.1 700.4,561.3 715.3,560.0C730.1,558.7 765.0,558.3 776.4,560.0C787.7,561.7 774.6,565.2 772.0,568.7C769.4,572.2 766.8,574.4 763.3,577.5C759.8,580.5 757.6,580.9 754.6,584.0C751.5,587.1 749.8,588.8 748.0,592.7C746.3,596.7 747.1,600.1 745.8,603.6C744.5,607.1 744.1,608.4 741.5,610.2C738.8,611.9 736.2,612.8 732.7,612.4C729.2,611.9 727.5,610.6 724.0,608.0C720.5,605.4 719.6,600.6 715.3,599.3C710.9,598.0 706.6,601.9 702.2,601.5C697.8,601.0 697.4,597.5 693.5,597.1C689.5,596.7 686.9,598.8 682.6,599.3C678.2,599.7 674.7,601.0 671.6,599.3C668.6,597.5 665.5,594.0 667.3,590.5Z" fill="#6fb1de"/>
<path d="M645.5,603.6C648.1,601.0 652.4,599.7 656.4,601.5C660.3,603.2 663.8,608.4 665.1,612.4C666.4,616.3 665.1,618.0 662.9,621.1C660.7,624.2 654.2,625.5 654.2,627.6C654.2,629.8 659.4,630.3 662.9,632.0C666.4,633.8 670.8,633.3 671.6,636.4C672.5,639.4 666.4,644.2 667.3,647.3C668.2,650.3 675.1,649.0 676.0,651.6C676.9,654.3 675.1,659.1 671.6,660.4C668.2,661.7 662.9,660.8 658.6,658.2C654.2,655.6 652.4,652.1 649.8,647.3C647.2,642.5 645.9,639.0 645.5,634.2C645.0,629.4 648.1,627.2 647.6,623.3C647.2,619.3 643.7,618.5 643.3,614.5C642.8,610.6 642.8,606.3 645.5,603.6Z" fill="#6fb1de"/>
<path d="M610.5,623.3C613.2,621.1 620.6,621.1 623.6,623.3C626.7,625.5 626.7,630.3 625.8,634.2C624.9,638.1 619.7,639.4 619.3,642.9C618.8,646.4 621.0,649.0 623.6,651.6C626.3,654.3 631.5,653.8 632.4,656.0C633.2,658.2 630.8,663.0 628.0,662.6C625.2,662.1 620.4,657.8 618.2,653.8C616.0,649.9 618.6,646.8 617.1,642.9C615.6,639.0 611.9,638.1 610.5,634.2C609.2,630.3 607.9,625.5 610.5,623.3Z" fill="#6fb1de"/>
<path d="M693.5,603.6C694.3,601.5 697.8,604.1 702.2,603.6C706.6,603.2 710.0,600.1 715.3,601.5C720.5,602.8 724.0,607.1 728.4,610.2C732.7,613.2 733.6,614.5 737.1,616.7C740.6,618.9 741.5,620.7 745.8,621.1C750.2,621.5 754.1,618.0 758.9,618.9C763.7,619.8 767.2,622.8 769.8,625.5C772.5,628.1 773.3,629.4 772.0,632.0C770.7,634.6 767.7,636.2 763.3,638.6C758.9,641.0 755.4,642.3 750.2,644.0C745.0,645.8 741.0,645.8 737.1,647.3C733.2,648.8 734.0,650.8 730.6,651.6C727.1,652.5 723.6,650.8 719.6,651.6C715.7,652.5 714.4,656.0 710.9,656.0C707.4,656.0 705.7,653.4 702.2,651.6C698.7,649.9 696.1,650.3 693.5,647.3C690.8,644.2 688.2,640.7 689.1,636.4C690.0,632.0 696.1,629.8 697.8,625.5C699.6,621.1 698.7,618.9 697.8,614.5C697.0,610.2 692.6,605.8 693.5,603.6Z" fill="#6fb1de"/>
<path d="M509.1,564.4C509.5,560.9 503.0,560.9 513.5,560.0C523.9,559.1 552.7,556.5 561.5,560.0C570.2,563.5 558.8,573.1 557.1,577.5C555.4,581.8 551.9,578.3 552.7,581.8C553.6,585.3 561.5,588.8 561.5,594.9C561.5,601.0 556.7,607.1 552.7,612.4C548.8,617.6 544.4,617.2 541.8,621.1C539.2,625.0 541.0,627.6 539.6,632.0C538.3,636.4 538.8,639.9 535.3,642.9C531.8,646.0 525.7,644.7 522.2,647.3C518.7,649.9 519.6,653.0 517.8,656.0C516.1,659.1 515.2,663.0 513.5,662.6C511.7,662.1 511.3,657.3 509.1,653.8C506.9,650.3 503.0,648.6 502.6,645.1C502.1,641.6 507.4,639.0 506.9,636.4C506.5,633.8 502.1,636.4 500.4,632.0C498.6,627.6 498.6,620.7 498.2,614.5C497.8,608.4 496.9,606.3 498.2,601.5C499.5,596.7 502.1,595.3 504.7,590.5C507.4,585.7 510.4,582.7 511.3,577.5C512.2,572.2 508.7,567.9 509.1,564.4Z" fill="#6fb1de"/>
<path d="M609.5,625.5C611.2,622.8 615.1,620.7 618.2,621.1C621.3,621.5 623.9,624.2 624.7,627.6C625.6,631.1 622.1,634.6 622.6,638.6C623.0,642.5 624.3,646.4 626.9,647.3C629.5,648.2 633.0,643.8 635.7,642.9C638.3,642.0 639.1,638.6 640.0,642.9C640.9,647.3 642.6,660.8 640.0,664.7C637.4,668.7 631.3,664.7 626.9,662.6C622.6,660.4 620.4,657.8 618.2,653.8C616.0,649.9 617.8,646.8 616.0,642.9C614.3,639.0 610.8,637.7 609.5,634.2C608.2,630.7 607.7,628.1 609.5,625.5Z" fill="#6fb1de"/>
<path d="M892.0,174.7C894.6,172.1 901.6,173.4 907.3,172.6C913.0,171.7 915.6,169.5 920.4,170.4C925.2,171.2 928.2,173.4 931.3,176.9C934.3,180.4 935.2,183.0 935.6,187.8C936.1,192.6 935.6,197.4 933.5,200.9C931.3,204.4 928.2,203.1 924.7,205.3C921.2,207.5 915.1,208.8 916.0,211.8C916.9,214.9 926.9,217.5 929.1,220.6C931.3,223.6 929.5,226.2 926.9,227.1C924.3,228.0 919.9,226.2 916.0,224.9C912.1,223.6 911.2,222.3 907.3,220.6C903.4,218.8 899.4,219.2 896.4,216.2C893.3,213.1 891.6,209.2 892.0,205.3C892.4,201.4 898.1,200.5 898.6,196.6C899.0,192.6 895.5,190.0 894.2,185.6C892.9,181.3 889.4,177.4 892.0,174.7Z" fill="#6fb1de"/>
<path d="M859.3,200.9C864.1,199.2 868.9,195.7 872.4,196.6C875.9,197.4 877.2,202.2 876.7,205.3C876.3,208.3 873.7,210.1 870.2,211.8C866.7,213.6 863.2,212.7 859.3,214.0C855.3,215.3 853.6,218.8 850.5,218.4C847.5,217.9 844.4,214.4 844.0,211.8C843.6,209.2 845.3,207.5 848.4,205.3C851.4,203.1 854.5,202.7 859.3,200.9Z" fill="#6fb1de"/>
<path d="M839.6,222.7C840.9,221.0 846.2,219.7 848.4,220.6C850.5,221.4 851.9,225.4 850.5,227.1C849.2,228.8 844.0,230.2 841.8,229.3C839.6,228.4 838.3,224.5 839.6,222.7Z" fill="#6fb1de"/>
<path d="M957.5,192.2C958.8,189.6 963.6,188.7 966.2,190.0C968.8,191.3 970.6,195.7 970.6,198.7C970.6,201.8 968.4,204.4 966.2,205.3C964.0,206.2 961.4,205.7 959.6,203.1C957.9,200.5 956.2,194.8 957.5,192.2Z" fill="#6fb1de"/>
<path d="M916.0,235.8C917.8,232.6 922.1,232.3 924.7,233.6C927.4,235.0 929.5,239.1 929.1,242.4C928.7,245.6 925.2,248.5 922.6,250.0C919.9,251.5 917.3,252.8 916.0,250.0C914.7,247.2 914.3,239.1 916.0,235.8Z" fill="#6fb1de"/>
<path d="M928.0,144.2C928.7,142.0 931.3,141.8 932.4,143.1C933.5,144.4 934.1,148.6 933.5,150.7C932.8,152.9 930.2,155.3 929.1,154.0C928.0,152.7 927.4,146.4 928.0,144.2Z" fill="#6fb1de"/>
<path d="M972.7,163.8C973.8,162.5 979.5,164.3 981.5,166.0C983.4,167.8 983.6,171.2 982.6,172.6C981.5,173.9 978.0,174.3 976.0,172.6C974.0,170.8 971.6,165.1 972.7,163.8Z" fill="#6fb1de"/>
<path d="M881.1,134.4C882.1,133.5 885.6,133.9 886.6,135.0C887.5,136.1 886.9,139.0 885.9,139.8C884.9,140.7 882.7,140.5 881.7,139.4C880.8,138.3 880.1,135.2 881.1,134.4Z" fill="#6fb1de"/>
<path d="M816.8,157.8C816.8,158.2 816.8,158.4 816.6,158.8C816.4,159.1 816.2,159.3 815.8,159.5C815.5,159.8 815.2,159.9 814.8,159.9C814.3,160.0 814.1,160.0 813.6,159.9C813.2,159.9 812.9,159.8 812.6,159.5C812.2,159.3 812.0,159.1 811.8,158.8C811.6,158.4 811.6,158.2 811.6,157.8C811.6,157.4 811.6,157.2 811.8,156.9C812.0,156.5 812.2,156.4 812.6,156.1C812.9,155.9 813.2,155.8 813.6,155.7C814.1,155.6 814.3,155.6 814.8,155.7C815.2,155.8 815.5,155.9 815.8,156.1C816.2,156.4 816.4,156.5 816.6,156.9C816.8,157.2 816.8,157.4 816.8,157.8Z" fill="#6fb1de"/>
<path d="M832.7,160.0C832.7,160.3 832.7,160.5 832.5,160.8C832.4,161.0 832.2,161.2 831.9,161.4C831.6,161.6 831.4,161.6 831.0,161.7C830.7,161.8 830.4,161.8 830.1,161.7C829.7,161.6 829.5,161.6 829.2,161.4C828.9,161.2 828.8,161.0 828.6,160.8C828.4,160.5 828.4,160.3 828.4,160.0C828.4,159.7 828.4,159.5 828.6,159.2C828.8,159.0 828.9,158.8 829.2,158.6C829.5,158.5 829.7,158.4 830.1,158.3C830.4,158.2 830.7,158.2 831.0,158.3C831.4,158.4 831.6,158.5 831.9,158.6C832.2,158.8 832.4,159.0 832.5,159.2C832.7,159.5 832.7,159.7 832.7,160.0Z" fill="#6fb1de"/>
<path d="M764.9,257.5C764.9,257.8 764.8,258.0 764.6,258.2C764.4,258.4 764.1,258.6 763.7,258.7C763.3,258.9 763.0,259.0 762.5,259.0C762.0,259.1 761.7,259.1 761.1,259.0C760.6,259.0 760.3,258.9 759.9,258.7C759.5,258.6 759.3,258.4 759.1,258.2C758.8,258.0 758.8,257.8 758.8,257.5C758.8,257.3 758.8,257.1 759.1,256.9C759.3,256.6 759.5,256.5 759.9,256.3C760.3,256.2 760.6,256.1 761.1,256.0C761.7,256.0 762.0,256.0 762.5,256.0C763.0,256.1 763.3,256.2 763.7,256.3C764.1,256.5 764.4,256.6 764.6,256.9C764.8,257.1 764.9,257.3 764.9,257.5Z" fill="#6fb1de"/>
<path d="M840.4,209.1C841.7,206.9 850.0,207.4 853.5,209.1C857.0,210.8 859.1,215.6 857.8,217.8C856.5,220.0 850.4,221.8 846.9,220.0C843.4,218.3 839.1,211.3 840.4,209.1Z" fill="#6fb1de"/>
<path d="M840.4,222.2C841.7,220.4 846.5,220.0 849.1,221.1C851.7,222.2 854.8,225.9 853.5,227.6C852.2,229.4 845.2,230.9 842.6,229.8C839.9,228.7 839.1,223.9 840.4,222.2Z" fill="#6fb1de"/>
<path d="M825.1,269.1C825.8,266.9 830.6,265.8 832.7,266.9C834.9,268.0 836.7,272.4 836.0,274.6C835.4,276.7 831.7,278.9 829.5,277.8C827.3,276.7 824.5,271.3 825.1,269.1Z" fill="#6fb1de"/>
<path d="M824.4,266.2C827.0,264.2 832.7,263.3 835.3,265.1C837.9,266.8 838.8,272.1 837.5,274.9C836.1,277.7 831.8,279.3 828.7,279.3C825.7,279.3 823.1,277.5 822.2,274.9C821.3,272.3 821.7,268.1 824.4,266.2Z" fill="#6fb1de"/>
<path d="M859.3,248.7C860.8,247.0 866.0,247.2 868.0,248.7C870.0,250.3 870.6,254.6 869.1,256.4C867.6,258.1 862.3,259.0 860.4,257.5C858.4,255.9 857.7,250.5 859.3,248.7Z" fill="#6fb1de"/>
<path d="M907.3,244.4C909.9,241.3 916.0,240.4 920.4,242.2C924.7,243.9 928.7,248.7 929.1,253.1C929.5,257.5 925.6,261.4 922.6,264.0C919.5,266.6 916.9,267.5 913.8,266.2C910.8,264.9 908.6,261.8 907.3,257.5C906.0,253.1 904.7,247.4 907.3,244.4Z" fill="#6fb1de"/>
<path d="M929.1,257.5C930.6,256.1 935.9,256.1 937.8,257.5C939.8,258.8 940.4,262.7 938.9,264.0C937.4,265.3 932.2,265.3 930.2,264.0C928.2,262.7 927.6,258.8 929.1,257.5Z" fill="#6fb1de"/>
<path d="M907.3,272.7C909.9,270.5 917.3,268.8 920.4,270.5C923.4,272.3 923.9,278.4 922.6,281.5C921.2,284.5 916.9,285.8 913.8,285.8C910.8,285.8 908.6,284.1 907.3,281.5C906.0,278.8 904.7,274.9 907.3,272.7Z" fill="#6fb1de"/>
<path d="M907.3,290.2C908.8,288.7 914.3,287.8 916.0,289.1C917.8,290.4 917.5,295.2 916.0,296.7C914.5,298.3 910.1,298.0 908.4,296.7C906.6,295.4 905.8,291.7 907.3,290.2Z" fill="#6fb1de"/>
<path d="M820.0,288.0C822.6,283.2 827.9,285.4 833.1,285.8C838.3,286.3 840.1,289.7 846.2,290.2C852.3,290.6 857.5,288.7 863.6,288.0C869.7,287.3 871.5,285.6 876.7,286.9C882.0,288.2 886.3,290.8 889.8,294.5C893.3,298.3 894.2,301.5 894.2,305.5C894.2,309.4 889.4,311.6 889.8,314.2C890.3,316.8 897.2,315.9 896.4,318.6C895.5,321.2 889.8,325.5 885.5,327.3C881.1,329.0 877.6,329.5 874.5,327.3C871.5,325.1 872.4,317.2 870.2,316.4C868.0,315.5 866.7,322.0 863.6,322.9C860.6,323.8 858.0,322.9 854.9,320.7C851.9,318.6 851.9,313.8 848.4,312.0C844.9,310.3 841.4,313.3 837.5,312.0C833.5,310.7 832.2,305.9 828.7,305.5C825.2,305.0 821.7,313.3 820.0,309.8C818.3,306.3 817.4,292.8 820.0,288.0Z" fill="#6fb1de"/>
<path d="M813.1,473.8C816.1,470.3 820.7,468.2 825.8,468.7C830.9,469.2 835.0,472.8 838.5,476.4C842.1,479.9 844.1,482.5 843.6,486.5C843.1,490.6 839.6,493.7 836.0,496.7C832.4,499.8 830.4,499.8 825.8,501.8C821.2,503.9 817.2,503.9 813.1,506.9C809.0,510.0 809.0,514.5 805.5,517.1C801.9,519.6 798.3,521.2 795.3,519.6C792.2,518.1 789.2,514.0 790.2,509.5C791.2,504.9 796.3,501.3 800.4,496.7C804.4,492.1 808.0,491.1 810.5,486.5C813.1,482.0 810.0,477.4 813.1,473.8Z" fill="#6fb1de"/>
<path d="M780.0,484.0C783.1,479.4 789.7,484.0 795.3,486.5C800.9,489.1 808.0,492.7 808.0,496.7C808.0,500.8 800.9,504.4 795.3,506.9C789.7,509.5 783.1,514.0 780.0,509.5C776.9,504.9 776.9,488.6 780.0,484.0Z" fill="#6fb1de"/>
<path d="M792.7,527.3C795.3,524.2 802.9,523.2 810.5,522.2C818.2,521.2 824.3,521.2 830.9,522.2C837.5,523.2 842.1,522.7 843.6,527.3C845.2,531.9 842.1,542.0 838.5,545.1C835.0,548.1 831.4,543.1 825.8,542.5C820.2,542.0 816.1,543.6 810.5,542.5C804.9,541.5 801.4,540.5 797.8,537.5C794.3,534.4 790.2,530.3 792.7,527.3Z" fill="#6fb1de"/>
<path d="M780.0,562.9C783.1,558.3 791.7,564.9 795.3,568.0C798.8,571.1 798.8,574.1 797.8,578.2C796.8,582.3 793.7,585.8 790.2,588.4C786.6,590.9 782.0,596.0 780.0,590.9C778.0,585.8 776.9,567.5 780.0,562.9Z" fill="#6fb1de"/>
<path d="M212.7,307.1C212.7,307.8 212.6,308.3 212.2,309.0C211.8,309.7 211.4,310.0 210.7,310.5C209.9,311.0 209.4,311.2 208.5,311.3C207.6,311.5 207.0,311.5 206.1,311.3C205.1,311.2 204.6,311.0 203.9,310.5C203.1,310.0 202.8,309.7 202.4,309.0C201.9,308.3 201.8,307.8 201.8,307.1C201.8,306.3 201.9,305.9 202.4,305.2C202.8,304.5 203.1,304.2 203.9,303.7C204.6,303.2 205.1,303.0 206.1,302.8C207.0,302.7 207.6,302.7 208.5,302.8C209.4,303.0 209.9,303.2 210.7,303.7C211.4,304.2 211.8,304.5 212.2,305.2C212.6,305.9 212.7,306.3 212.7,307.1Z" fill="#4a8fc3"/>
<path d="M267.3,299.1C267.3,300.0 267.0,300.6 266.2,301.5C265.4,302.3 264.6,302.8 263.2,303.4C261.7,303.9 260.6,304.2 258.8,304.4C256.9,304.6 255.8,304.6 253.9,304.4C252.1,304.2 251.0,303.9 249.6,303.4C248.1,302.8 247.4,302.3 246.5,301.5C245.7,300.6 245.5,300.0 245.5,299.1C245.5,298.1 245.7,297.6 246.5,296.7C247.4,295.9 248.1,295.4 249.6,294.8C251.0,294.2 252.1,294.0 253.9,293.8C255.8,293.6 256.9,293.6 258.8,293.8C260.6,294.0 261.7,294.2 263.2,294.8C264.6,295.4 265.4,295.9 266.2,296.7C267.0,297.6 267.3,298.1 267.3,299.1Z" fill="#4a8fc3"/>
<path d="M236.4,235.5C236.4,236.0 236.3,236.4 236.0,236.9C235.7,237.4 235.5,237.7 235.0,238.0C234.5,238.4 234.2,238.5 233.5,238.6C232.9,238.8 232.5,238.8 231.9,238.6C231.3,238.5 231.0,238.4 230.5,238.0C230.0,237.7 229.7,237.4 229.5,236.9C229.2,236.4 229.1,236.0 229.1,235.5C229.1,234.9 229.2,234.5 229.5,234.0C229.7,233.5 230.0,233.2 230.5,232.9C231.0,232.5 231.3,232.4 231.9,232.3C232.5,232.1 232.9,232.1 233.5,232.3C234.2,232.4 234.5,232.5 235.0,232.9C235.5,233.2 235.7,233.5 236.0,234.0C236.3,234.5 236.4,234.9 236.4,235.5Z" fill="#4a8fc3"/>
<path d="M305.5,175.5C305.5,176.0 305.4,176.4 305.1,176.9C304.8,177.4 304.6,177.7 304.1,178.0C303.6,178.4 303.2,178.5 302.6,178.6C302.0,178.8 301.6,178.8 301.0,178.6C300.4,178.5 300.0,178.4 299.6,178.0C299.1,177.7 298.8,177.4 298.5,176.9C298.3,176.4 298.2,176.0 298.2,175.5C298.2,174.9 298.3,174.5 298.5,174.0C298.8,173.5 299.1,173.2 299.6,172.9C300.0,172.5 300.4,172.4 301.0,172.3C301.6,172.1 302.0,172.1 302.6,172.3C303.2,172.4 303.6,172.5 304.1,172.9C304.6,173.2 304.8,173.5 305.1,174.0C305.4,174.5 305.5,174.9 305.5,175.5Z" fill="#4a8fc3"/>
<path d="M183.6,319.1C186.5,314.0 189.8,308.9 190.9,311.8C192.0,314.7 190.9,327.1 189.1,333.6C187.3,340.2 184.4,343.8 181.8,344.5C179.3,345.3 176.0,342.4 176.4,337.3C176.7,332.2 180.7,324.2 183.6,319.1Z" fill="#4a8fc3"/>
<path d="M332.7,251.8C334.9,249.4 341.5,245.6 347.3,243.5C353.1,241.3 356.4,240.5 361.8,240.9C367.3,241.3 371.3,242.4 374.5,245.6C377.8,248.9 378.2,252.0 378.2,257.3C378.2,262.5 376.7,267.8 374.5,271.8C372.4,275.8 368.0,279.5 367.3,277.3C366.5,275.1 370.5,266.7 370.9,260.9C371.3,255.1 372.4,249.8 369.1,248.2C365.8,246.6 361.1,251.5 354.5,252.9C348.0,254.4 340.7,255.7 336.4,255.5C332.0,255.2 330.5,254.2 332.7,251.8Z" fill="#4a8fc3"/>
<path d="M132.0,335.5C133.1,330.4 135.5,327.5 138.2,324.5C140.9,321.6 145.8,319.1 145.5,320.9C145.1,322.7 138.5,328.2 136.4,333.6C134.2,339.1 133.1,343.5 134.5,348.2C136.0,352.9 139.6,356.0 143.6,357.3C147.6,358.6 149.8,356.0 154.5,354.7C159.3,353.5 161.8,350.2 167.3,351.1C172.7,352.0 177.6,355.3 181.8,359.1C186.0,362.9 188.4,366.0 188.4,370.0C188.4,374.0 185.7,376.8 181.8,379.1C178.0,381.4 174.5,382.0 169.1,381.6C163.6,381.3 160.4,380.7 154.5,377.3C148.7,373.9 144.4,370.0 140.0,364.5C135.6,359.1 134.3,355.8 132.7,350.0C131.1,344.2 130.9,340.5 132.0,335.5Z" fill="#4a8fc3"/>
<path d="M174.5,311.8C175.6,307.8 180.7,305.3 183.6,308.2C186.5,311.1 189.1,318.4 189.1,326.4C189.1,334.4 186.5,344.5 183.6,348.2C180.7,351.8 175.6,348.5 174.5,344.5C173.5,340.5 178.2,334.7 178.2,328.2C178.2,321.6 173.5,315.8 174.5,311.8Z" fill="#4a8fc3"/>
<path d="M537.5,384.2C539.0,382.9 542.3,382.7 544.0,384.2C545.8,385.7 546.9,389.6 546.2,391.8C545.5,394.0 542.7,395.3 540.7,395.1C538.8,394.9 537.0,392.9 536.4,390.7C535.7,388.6 535.9,385.5 537.5,384.2Z" fill="#4a8fc3"/>
<path d="M549.5,467.1C551.7,464.0 556.0,461.4 558.2,462.7C560.4,464.0 561.3,469.7 560.4,473.6C559.5,477.6 556.5,481.5 553.8,482.4C551.2,483.2 548.2,481.1 547.3,478.0C546.4,474.9 547.3,470.1 549.5,467.1Z" fill="#4a8fc3"/>
<path d="M518.9,552.2C521.1,547.8 524.2,547.0 527.7,547.8C531.1,548.7 533.8,552.2 536.4,556.6C539.0,560.9 538.1,564.4 540.7,569.6C543.4,574.9 549.0,577.5 549.5,582.7C549.9,588.0 546.4,594.1 542.9,595.8C539.4,597.6 535.9,591.5 532.0,591.5C528.1,591.5 526.8,595.8 523.3,595.8C519.8,595.8 515.9,596.7 514.6,591.5C513.2,586.2 515.9,577.5 516.7,569.6C517.6,561.8 516.7,556.6 518.9,552.2Z" fill="#4a8fc3"/>
<path d="M401.1,552.2C398.5,548.9 403.3,545.9 406.6,544.6C409.8,543.2 414.4,543.9 417.5,545.6C420.5,547.4 421.4,550.2 421.8,553.3C422.3,556.3 423.8,561.1 419.6,560.9C415.5,560.7 403.7,555.5 401.1,552.2Z" fill="#4a8fc3"/>
<path d="M786.2,306.7C787.7,305.2 793.0,306.1 794.9,307.8C796.9,309.6 797.5,313.9 796.0,315.5C794.5,317.0 789.3,317.2 787.3,315.5C785.3,313.7 784.7,308.3 786.2,306.7Z" fill="#4a8fc3"/>
<path d="M798.2,324.2C799.5,322.2 803.4,324.2 804.7,326.4C806.1,328.6 806.1,333.1 804.7,335.1C803.4,337.1 799.5,338.4 798.2,336.2C796.9,334.0 796.9,326.2 798.2,324.2Z" fill="#4a8fc3"/>
<path d="M707.6,400.6C708.7,398.4 712.7,397.1 714.2,398.4C715.7,399.7 716.4,404.9 715.3,407.1C714.2,409.3 710.3,410.6 708.7,409.3C707.2,408.0 706.6,402.7 707.6,400.6Z" fill="#4a8fc3"/>
<path d="M785.1,380.9C786.2,379.0 790.1,378.5 791.7,379.8C793.2,381.1 793.8,385.5 792.7,387.5C791.7,389.4 787.7,391.0 786.2,389.6C784.7,388.3 784.0,382.9 785.1,380.9Z" fill="#4a8fc3"/>
<path d="M682.6,336.2C683.6,334.9 687.1,334.7 688.0,336.2C688.9,337.7 688.0,342.5 686.9,343.8C685.8,345.1 683.4,344.3 682.6,342.7C681.7,341.2 681.5,337.5 682.6,336.2Z" fill="#4a8fc3"/>
<path d="M689.1,590.4C690.2,588.8 696.3,588.4 698.9,589.3C701.5,590.2 703.3,593.2 702.2,594.7C701.1,596.3 696.1,597.8 693.5,596.9C690.8,596.0 688.0,591.9 689.1,590.4Z" fill="#4a8fc3"/>
<path d="M767.7,504.2C768.5,502.2 772.0,500.3 776.4,499.8C780.7,499.4 787.7,500.3 789.5,502.0C791.2,503.8 788.6,507.0 785.1,508.6C781.6,510.1 775.5,510.5 772.0,509.6C768.5,508.8 766.8,506.2 767.7,504.2Z" fill="#4a8fc3"/>
<path d="M686.9,586.2C689.1,584.9 694.8,584.9 697.8,586.2C700.9,587.5 703.1,590.8 702.2,592.7C701.3,594.7 696.5,596.0 693.5,596.0C690.4,596.0 688.2,594.7 686.9,592.7C685.6,590.8 684.7,587.5 686.9,586.2Z" fill="#4a8fc3"/>
<path d="M613.8,626.6C614.9,625.2 618.8,625.2 620.4,626.6C621.9,627.9 622.5,631.8 621.5,633.1C620.4,634.4 616.4,634.4 614.9,633.1C613.4,631.8 612.7,627.9 613.8,626.6Z" fill="#4a8fc3"/>
<path d="M652.0,629.8C652.9,628.1 658.1,626.8 660.7,627.6C663.4,628.5 666.0,632.4 665.1,634.2C664.2,635.9 659.0,637.2 656.4,636.4C653.8,635.5 651.1,631.6 652.0,629.8Z" fill="#4a8fc3"/>
<path d="M721.8,636.4C722.7,634.2 729.7,633.3 732.7,634.2C735.8,635.1 738.0,638.6 737.1,640.7C736.2,642.9 731.4,646.0 728.4,645.1C725.3,644.2 721.0,638.6 721.8,636.4Z" fill="#4a8fc3"/>
<path d="M513.5,564.4C514.8,560.0 518.7,560.0 522.2,560.0C525.7,560.0 528.3,560.9 530.9,564.4C533.5,567.9 535.3,572.2 535.3,577.5C535.3,582.7 532.7,585.3 530.9,590.5C529.2,595.8 529.2,601.5 526.6,603.6C523.9,605.8 520.9,603.2 517.8,601.5C514.8,599.7 511.7,598.8 511.3,594.9C510.8,591.0 515.2,587.9 515.6,581.8C516.1,575.7 512.2,568.7 513.5,564.4Z" fill="#4a8fc3"/>
<path d="M500.4,616.7C501.7,614.1 505.6,611.1 509.1,612.4C512.6,613.7 516.5,618.9 517.8,623.3C519.1,627.6 517.4,629.8 515.6,634.2C513.9,638.6 511.3,644.7 509.1,645.1C506.9,645.5 506.0,640.3 504.7,636.4C503.4,632.4 503.4,629.4 502.6,625.5C501.7,621.5 499.1,619.3 500.4,616.7Z" fill="#4a8fc3"/>
<path d="M528.7,623.3C530.0,620.2 535.3,623.3 537.5,625.5C539.6,627.6 541.0,631.1 539.6,634.2C538.3,637.2 533.1,642.9 530.9,640.7C528.7,638.6 527.4,626.3 528.7,623.3Z" fill="#4a8fc3"/>
<path d="M907.3,179.1C908.6,175.2 914.3,173.0 918.2,172.6C922.1,172.1 924.7,173.9 926.9,176.9C929.1,180.0 930.4,184.3 929.1,187.8C927.8,191.3 923.9,193.5 920.4,194.4C916.9,195.2 914.3,195.2 911.6,192.2C909.0,189.1 906.0,183.0 907.3,179.1Z" fill="#4a8fc3"/>
<path d="M926.9,194.4C927.8,192.6 931.1,193.1 932.4,194.4C933.7,195.7 934.3,199.2 933.5,200.9C932.6,202.7 929.3,204.4 928.0,203.1C926.7,201.8 926.0,196.1 926.9,194.4Z" fill="#4a8fc3"/>
<path d="M909.5,274.9C910.8,272.7 916.2,271.4 918.2,272.7C920.2,274.0 920.6,279.3 919.3,281.5C918.0,283.6 913.6,284.9 911.6,283.6C909.7,282.3 908.2,277.1 909.5,274.9Z" fill="#4a8fc3"/>
<path d="M861.5,301.1C862.8,298.5 868.0,297.2 870.2,298.9C872.4,300.7 873.7,307.2 872.4,309.8C871.1,312.4 865.8,313.8 863.6,312.0C861.5,310.3 860.1,303.7 861.5,301.1Z" fill="#4a8fc3"/>
<path d="M846.2,293.5C847.1,291.3 851.0,290.8 852.7,292.4C854.5,293.9 855.8,298.9 854.9,301.1C854.0,303.3 850.1,304.8 848.4,303.3C846.6,301.7 845.3,295.6 846.2,293.5Z" fill="#4a8fc3"/>
<path d="M842.6,210.8C843.4,209.4 848.9,209.7 851.3,210.8C853.7,212.0 855.4,215.3 854.6,216.7C853.7,218.2 849.3,219.4 846.9,218.3C844.5,217.1 841.7,212.3 842.6,210.8Z" fill="#4a8fc3"/>
<path d="M842.1,223.3C843.1,222.1 846.8,221.9 848.7,222.6C850.5,223.4 852.3,225.8 851.3,227.0C850.3,228.2 845.5,229.5 843.7,228.7C841.8,228.0 841.1,224.5 842.1,223.3Z" fill="#4a8fc3"/>
<path d="M826.9,270.2C827.4,268.7 830.6,267.9 832.1,268.7C833.6,269.5 834.8,272.6 834.3,274.1C833.7,275.6 831.0,277.1 829.5,276.3C828.0,275.5 826.3,271.7 826.9,270.2Z" fill="#4a8fc3"/>
<path d="M290.9,247.1C290.9,248.5 290.7,249.3 289.8,250.6C289.0,251.8 288.3,252.5 286.8,253.3C285.3,254.2 284.3,254.6 282.4,254.9C280.6,255.2 279.4,255.2 277.6,254.9C275.7,254.6 274.7,254.2 273.2,253.3C271.7,252.5 271.0,251.8 270.2,250.6C269.3,249.3 269.1,248.5 269.1,247.1C269.1,245.7 269.3,244.9 270.2,243.6C271.0,242.4 271.7,241.7 273.2,240.8C274.7,240.0 275.7,239.6 277.6,239.3C279.4,239.0 280.6,239.0 282.4,239.3C284.3,239.6 285.3,240.0 286.8,240.8C288.3,241.7 289.0,242.4 289.8,243.6C290.7,244.9 290.9,245.7 290.9,247.1Z" fill="#c0d87a"/>
<path d="M320.0,264.5C321.5,261.3 325.8,257.6 332.7,255.5C339.6,253.3 347.3,255.1 354.5,253.6C361.8,252.2 365.8,246.7 369.1,248.2C372.4,249.6 371.3,255.8 370.9,260.9C370.5,266.0 370.5,270.0 367.3,273.6C364.0,277.3 360.7,278.4 354.5,279.1C348.4,279.8 342.2,278.7 336.4,277.3C330.5,275.8 328.7,274.4 325.5,271.8C322.2,269.3 318.5,267.8 320.0,264.5Z" fill="#c0d87a"/>
<path d="M413.8,259.1C413.8,259.7 413.7,260.0 413.5,260.5C413.2,261.0 412.9,261.3 412.4,261.6C412.0,262.0 411.6,262.2 411.0,262.3C410.4,262.4 410.0,262.4 409.4,262.3C408.8,262.2 408.4,262.0 407.9,261.6C407.4,261.3 407.2,261.0 406.9,260.5C406.6,260.0 406.5,259.7 406.5,259.1C406.5,258.5 406.6,258.2 406.9,257.7C407.2,257.2 407.4,256.9 407.9,256.5C408.4,256.2 408.8,256.0 409.4,255.9C410.0,255.8 410.4,255.8 411.0,255.9C411.6,256.0 412.0,256.2 412.4,256.5C412.9,256.9 413.2,257.2 413.5,257.7C413.7,258.2 413.8,258.5 413.8,259.1Z" fill="#dde9b8"/>
<path d="M134.5,331.8C136.7,327.1 138.9,323.5 143.6,320.9C148.4,318.4 154.9,321.6 158.2,319.1C161.5,316.5 156.7,310.4 160.0,308.2C163.3,306.0 171.3,306.0 174.5,308.2C177.8,310.4 177.5,314.7 176.4,319.1C175.3,323.5 169.8,324.9 169.1,330.0C168.4,335.1 174.2,341.6 172.7,344.5C171.3,347.5 165.5,343.1 161.8,344.5C158.2,346.0 158.9,350.4 154.5,351.8C150.2,353.3 144.4,353.3 140.0,351.8C135.6,350.4 133.8,348.5 132.7,344.5C131.6,340.5 132.4,336.5 134.5,331.8Z" fill="#dde9b8"/>
<path d="M152.7,357.3C155.6,354.4 160.0,352.9 165.5,353.6C170.9,354.4 176.0,357.6 180.0,360.9C184.0,364.2 186.2,366.7 185.5,370.0C184.7,373.3 181.5,375.8 176.4,377.3C171.3,378.7 165.1,379.1 160.0,377.3C154.9,375.5 152.4,372.2 150.9,368.2C149.5,364.2 149.8,360.2 152.7,357.3Z" fill="#dde9b8"/>
<path d="M429.5,391.8C430.9,390.1 433.6,389.2 436.0,389.6C438.4,390.1 440.4,391.6 441.5,394.0C442.6,396.4 443.0,399.7 441.5,401.6C439.9,403.6 436.3,404.5 433.8,403.8C431.3,403.2 429.9,400.8 429.0,398.4C428.2,396.0 428.1,393.6 429.5,391.8Z" fill="#8fce52"/>
<path d="M394.5,560.9C396.3,556.8 399.8,551.5 403.3,548.9C406.8,546.3 408.5,547.2 412.0,547.8C415.5,548.5 418.6,549.6 420.7,552.2C422.9,554.8 424.2,558.1 422.9,560.9C421.6,563.8 419.9,564.6 414.2,566.4C408.5,568.1 398.5,570.7 394.5,569.6C390.6,568.6 392.8,565.1 394.5,560.9Z" fill="#8fce52"/>
<path d="M546.4,548.5C546.4,548.9 546.4,549.2 546.2,549.6C546.1,550.0 546.0,550.2 545.8,550.5C545.5,550.8 545.4,550.9 545.1,551.0C544.8,551.1 544.6,551.1 544.3,551.0C544.0,550.9 543.8,550.8 543.6,550.5C543.3,550.2 543.2,550.0 543.1,549.6C543.0,549.2 542.9,548.9 542.9,548.5C542.9,548.0 543.0,547.8 543.1,547.3C543.2,546.9 543.3,546.7 543.6,546.4C543.8,546.2 544.0,546.0 544.3,545.9C544.6,545.8 544.8,545.8 545.1,545.9C545.4,546.0 545.5,546.2 545.8,546.4C546.0,546.7 546.1,546.9 546.2,547.3C546.4,547.8 546.4,548.0 546.4,548.5Z" fill="#dde9b8"/>
<path d="M522.4,568.6C522.4,569.4 522.4,569.9 522.2,570.6C522.0,571.4 521.9,571.8 521.6,572.3C521.3,572.8 521.1,573.1 520.7,573.2C520.3,573.4 520.1,573.4 519.7,573.2C519.4,573.1 519.2,572.8 518.9,572.3C518.6,571.8 518.4,571.4 518.3,570.6C518.1,569.9 518.0,569.4 518.0,568.6C518.0,567.7 518.1,567.2 518.3,566.5C518.4,565.7 518.6,565.3 518.9,564.8C519.2,564.3 519.4,564.1 519.7,563.9C520.1,563.7 520.3,563.7 520.7,563.9C521.1,564.1 521.3,564.3 521.6,564.8C521.9,565.3 522.0,565.7 522.2,566.5C522.4,567.2 522.4,567.7 522.4,568.6Z" fill="#dde9b8"/>
<path d="M542.9,574.0C542.9,574.5 542.9,574.7 542.7,575.1C542.5,575.6 542.4,575.8 542.1,576.1C541.8,576.3 541.6,576.5 541.2,576.6C540.9,576.7 540.6,576.7 540.3,576.6C539.9,576.5 539.7,576.3 539.4,576.1C539.1,575.8 538.9,575.6 538.8,575.1C538.6,574.7 538.6,574.5 538.6,574.0C538.6,573.6 538.6,573.3 538.8,572.9C538.9,572.5 539.1,572.2 539.4,572.0C539.7,571.7 539.9,571.6 540.3,571.5C540.6,571.4 540.9,571.4 541.2,571.5C541.6,571.6 541.8,571.7 542.1,572.0C542.4,572.2 542.5,572.5 542.7,572.9C542.9,573.3 542.9,573.6 542.9,574.0Z" fill="#dde9b8"/>
<path d="M546.2,586.0C547.3,584.3 548.8,584.7 550.6,587.1C552.3,589.5 554.1,594.5 554.9,598.0C555.8,601.5 556.5,603.2 554.9,604.6C553.4,605.9 549.3,606.3 547.3,604.6C545.3,602.8 545.3,599.5 545.1,595.8C544.9,592.1 545.1,587.8 546.2,586.0Z" fill="#c0d87a"/>
<path d="M705.0,380.5C705.0,381.2 704.9,381.7 704.4,382.4C704.0,383.1 703.6,383.4 702.7,383.9C701.9,384.4 701.3,384.6 700.3,384.7C699.2,384.9 698.6,384.9 697.6,384.7C696.5,384.6 695.9,384.4 695.1,383.9C694.3,383.4 693.9,383.1 693.4,382.4C693.0,381.7 692.8,381.2 692.8,380.5C692.8,379.7 693.0,379.3 693.4,378.6C693.9,377.9 694.3,377.5 695.1,377.1C695.9,376.6 696.5,376.4 697.6,376.2C698.6,376.1 699.2,376.1 700.3,376.2C701.3,376.4 701.9,376.6 702.7,377.1C703.6,377.5 704.0,377.9 704.4,378.6C704.9,379.3 705.0,379.7 705.0,380.5Z" fill="#dde9b8"/>
<path d="M793.2,323.1C793.2,323.8 793.1,324.2 792.7,324.8C792.3,325.4 792.0,325.7 791.4,326.2C790.7,326.6 790.3,326.8 789.4,326.9C788.6,327.1 788.1,327.1 787.3,326.9C786.5,326.8 786.0,326.6 785.4,326.2C784.7,325.7 784.4,325.4 784.1,324.8C783.7,324.2 783.6,323.8 783.6,323.1C783.6,322.4 783.7,322.0 784.1,321.4C784.4,320.8 784.7,320.5 785.4,320.0C786.0,319.6 786.5,319.4 787.3,319.3C788.1,319.1 788.6,319.1 789.4,319.3C790.3,319.4 790.7,319.6 791.4,320.0C792.0,320.5 792.3,320.8 792.7,321.4C793.1,322.0 793.2,322.4 793.2,323.1Z" fill="#c3e07c"/>
<path d="M798.6,331.4C798.9,332.0 799.0,332.4 799.0,333.1C798.9,333.9 798.7,334.3 798.3,335.1C797.8,335.8 797.5,336.2 796.7,336.8C796.0,337.4 795.5,337.6 794.6,337.9C793.7,338.3 793.2,338.3 792.3,338.3C791.5,338.3 791.0,338.2 790.3,337.9C789.7,337.5 789.4,337.2 789.0,336.6C788.7,336.0 788.6,335.6 788.7,334.9C788.8,334.1 788.9,333.7 789.4,332.9C789.8,332.2 790.2,331.8 790.9,331.2C791.7,330.7 792.2,330.4 793.1,330.1C793.9,329.8 794.5,329.7 795.3,329.7C796.2,329.7 796.7,329.8 797.3,330.2C798.0,330.5 798.3,330.8 798.6,331.4Z" fill="#c3e07c"/>
<path d="M814.8,289.3C814.8,289.8 814.7,290.1 814.6,290.6C814.5,291.1 814.4,291.3 814.1,291.7C813.9,292.0 813.7,292.1 813.4,292.3C813.1,292.4 812.9,292.4 812.6,292.3C812.4,292.1 812.2,292.0 811.9,291.7C811.7,291.3 811.6,291.1 811.5,290.6C811.3,290.1 811.3,289.8 811.3,289.3C811.3,288.7 811.3,288.4 811.5,288.0C811.6,287.5 811.7,287.2 811.9,286.9C812.2,286.6 812.4,286.4 812.6,286.3C812.9,286.2 813.1,286.2 813.4,286.3C813.7,286.4 813.9,286.6 814.1,286.9C814.4,287.2 814.5,287.5 814.6,288.0C814.7,288.4 814.8,288.7 814.8,289.3Z" fill="#c0d87a"/>
<path d="M685.4,338.4C685.4,338.7 685.4,339.0 685.3,339.3C685.2,339.7 685.1,339.8 685.0,340.1C684.8,340.3 684.7,340.4 684.5,340.5C684.4,340.6 684.2,340.6 684.1,340.5C683.9,340.4 683.8,340.3 683.6,340.1C683.5,339.8 683.4,339.7 683.3,339.3C683.2,339.0 683.2,338.7 683.2,338.4C683.2,338.0 683.2,337.8 683.3,337.4C683.4,337.1 683.5,336.9 683.6,336.7C683.8,336.4 683.9,336.3 684.1,336.2C684.2,336.2 684.4,336.2 684.5,336.2C684.7,336.3 684.8,336.4 685.0,336.7C685.1,336.9 685.2,337.1 685.3,337.4C685.4,337.8 685.4,338.0 685.4,338.4Z" fill="#dde9b8"/>
<path d="M775.3,505.3C774.4,504.2 776.4,500.0 778.6,498.7C780.7,497.4 785.3,497.6 786.2,498.7C787.1,499.8 785.1,502.9 782.9,504.2C780.7,505.5 776.2,506.4 775.3,505.3Z" fill="#dde9b8"/>
<path d="M742.6,552.2C743.0,550.9 745.4,548.5 748.0,546.7C750.6,545.0 754.8,543.0 755.6,543.5C756.5,543.9 754.3,547.0 752.4,548.9C750.4,550.9 747.8,552.6 745.8,553.3C743.9,553.9 742.1,553.5 742.6,552.2Z" fill="#dde9b8"/>
<path d="M778.6,541.3C779.7,539.8 782.7,538.9 785.1,539.1C787.5,539.3 790.3,540.8 790.6,542.4C790.8,543.9 788.4,545.9 786.2,546.7C784.0,547.6 781.2,547.8 779.7,546.7C778.1,545.6 777.5,542.8 778.6,541.3Z" fill="#c0d87a"/>
<path d="M810.5,510.7C811.6,507.4 814.6,502.8 818.2,501.8C821.7,500.8 825.1,503.9 828.4,505.6C831.7,507.4 835.0,507.4 834.7,510.7C834.5,514.0 829.9,519.1 827.1,522.2C824.3,525.2 823.5,526.8 820.7,526.0C817.9,525.2 815.1,521.4 813.1,518.4C811.1,515.3 809.5,514.0 810.5,510.7Z" fill="#dde9b8"/>
<path d="M780.0,540.0C781.5,538.0 785.6,537.7 787.6,538.7C789.7,539.7 791.2,542.8 790.2,545.1C789.2,547.4 784.6,549.4 782.5,550.2C780.5,550.9 780.5,550.9 780.0,548.9C779.5,546.9 778.5,542.0 780.0,540.0Z" fill="#dde9b8"/>
<path d="M656.4,635.3C657.5,632.9 660.5,630.7 661.8,635.3C663.1,639.9 662.9,652.3 662.9,658.2C662.9,664.1 665.8,663.9 661.8,664.7C657.9,665.6 647.2,663.9 643.3,662.6C639.3,661.2 640.4,659.5 642.2,658.2C643.9,656.9 649.2,658.2 652.0,656.0C654.8,653.8 655.5,651.4 656.4,647.3C657.2,643.1 655.3,637.7 656.4,635.3Z" fill="#dde9b8"/>
<path d="M664.0,662.6C664.9,659.7 668.4,657.5 671.6,656.0C674.9,654.5 677.8,653.6 680.4,654.9C683.0,656.2 684.7,659.7 684.7,662.6C684.7,665.4 683.9,667.6 680.4,669.1C676.9,670.6 670.6,671.5 667.3,670.2C664.0,668.9 663.1,665.4 664.0,662.6Z" fill="#c3e07c"/>
<path d="M768.7,632.7C768.7,633.3 768.6,633.7 768.0,634.3C767.4,634.8 766.9,635.2 765.9,635.6C764.8,636.0 764.1,636.1 762.8,636.3C761.5,636.4 760.7,636.4 759.4,636.3C758.1,636.1 757.4,636.0 756.3,635.6C755.3,635.2 754.8,634.8 754.2,634.3C753.6,633.7 753.5,633.3 753.5,632.7C753.5,632.0 753.6,631.6 754.2,631.1C754.8,630.5 755.3,630.2 756.3,629.8C757.4,629.4 758.1,629.2 759.4,629.0C760.7,628.9 761.5,628.9 762.8,629.0C764.1,629.2 764.8,629.4 765.9,629.8C766.9,630.2 767.4,630.5 768.0,631.1C768.6,631.6 768.7,632.0 768.7,632.7Z" fill="#dde9b8"/>
<path d="M518.9,565.5C519.4,563.5 521.3,562.0 522.2,563.3C523.1,564.6 523.8,570.0 523.3,572.0C522.8,574.0 520.4,574.4 519.6,573.1C518.7,571.8 518.4,567.4 518.9,565.5Z" fill="#dde9b8"/>
<path d="M538.6,572.0C539.2,570.7 541.8,569.8 542.9,570.9C544.0,572.0 544.7,576.1 544.0,577.5C543.4,578.8 540.7,578.5 539.6,577.5C538.6,576.4 537.9,573.3 538.6,572.0Z" fill="#dde9b8"/>
<path d="M546.2,585.1C547.1,583.6 548.2,583.1 549.5,585.1C550.8,587.1 550.6,591.9 552.7,594.9C554.9,598.0 559.1,598.0 560.4,600.4C561.7,602.8 560.8,605.6 559.3,606.9C557.8,608.2 555.1,608.4 552.7,606.9C550.3,605.4 548.8,602.1 547.3,599.3C545.8,596.4 545.3,595.6 545.1,592.7C544.9,589.9 545.3,586.6 546.2,585.1Z" fill="#dde9b8"/>
<path d="M510.2,609.1C511.3,607.1 514.1,606.9 517.8,606.9C521.5,606.9 526.1,606.7 528.7,609.1C531.4,611.5 530.9,615.2 530.9,618.9C530.9,622.6 528.7,623.7 528.7,627.6C528.7,631.6 531.8,636.2 530.9,638.6C530.0,641.0 527.0,640.5 524.4,639.6C521.8,638.8 518.9,637.5 517.8,634.2C516.7,630.9 520.0,626.8 518.9,623.3C517.8,619.8 514.1,619.6 512.4,616.7C510.6,613.9 509.1,611.1 510.2,609.1Z" fill="#dde9b8"/>
<path d="M962.9,203.8C962.6,205.0 962.1,205.6 960.9,206.4C959.6,207.2 958.6,207.6 956.6,207.9C954.7,208.1 953.3,208.1 951.1,207.8C948.8,207.5 947.4,207.2 945.2,206.3C943.1,205.5 941.9,204.9 940.3,203.7C938.7,202.5 938.0,201.7 937.3,200.4C936.6,199.1 936.4,198.3 936.7,197.1C937.0,196.0 937.5,195.3 938.8,194.5C940.0,193.7 941.0,193.4 943.0,193.1C945.0,192.8 946.3,192.8 948.6,193.1C950.9,193.4 952.3,193.8 954.4,194.6C956.6,195.5 957.8,196.1 959.4,197.3C960.9,198.5 961.7,199.3 962.4,200.6C963.1,201.9 963.2,202.7 962.9,203.8Z" fill="#c3e07c"/>
<path d="M1001.0,219.6C1001.1,220.6 1001.0,221.2 1000.3,222.3C999.6,223.3 999.0,223.9 997.6,224.7C996.2,225.6 995.2,226.0 993.5,226.5C991.7,227.0 990.5,227.2 988.7,227.3C986.8,227.3 985.7,227.2 984.2,226.8C982.6,226.4 981.8,226.0 980.9,225.2C979.9,224.4 979.6,223.9 979.4,222.8C979.3,221.8 979.4,221.2 980.1,220.2C980.8,219.1 981.4,218.5 982.8,217.7C984.1,216.8 985.1,216.4 986.9,215.9C988.7,215.4 989.9,215.2 991.7,215.2C993.6,215.1 994.7,215.2 996.2,215.6C997.8,216.0 998.6,216.4 999.5,217.2C1000.5,218.0 1000.8,218.6 1001.0,219.6Z" fill="#c0d87a"/>
<path d="M903.4,210.3C903.4,210.5 903.3,210.7 903.1,210.9C902.9,211.1 902.7,211.2 902.4,211.3C902.0,211.5 901.8,211.5 901.3,211.6C900.9,211.6 900.6,211.6 900.2,211.6C899.7,211.5 899.5,211.5 899.1,211.3C898.7,211.2 898.6,211.1 898.4,210.9C898.2,210.7 898.1,210.5 898.1,210.3C898.1,210.1 898.2,209.9 898.4,209.7C898.6,209.5 898.7,209.4 899.1,209.3C899.5,209.1 899.7,209.1 900.2,209.0C900.6,209.0 900.9,209.0 901.3,209.0C901.8,209.1 902.0,209.1 902.4,209.3C902.7,209.4 902.9,209.5 903.1,209.7C903.3,209.9 903.4,210.1 903.4,210.3Z" fill="#dde9b8"/>
<path d="M852.7,213.4C852.7,213.5 852.7,213.7 852.5,213.8C852.3,214.0 852.2,214.1 851.9,214.2C851.6,214.3 851.4,214.4 851.0,214.4C850.7,214.5 850.4,214.5 850.1,214.4C849.7,214.4 849.5,214.3 849.2,214.2C848.9,214.1 848.7,214.0 848.6,213.8C848.4,213.7 848.4,213.5 848.4,213.4C848.4,213.2 848.4,213.1 848.6,212.9C848.7,212.7 848.9,212.6 849.2,212.5C849.5,212.4 849.7,212.3 850.1,212.3C850.4,212.3 850.7,212.3 851.0,212.3C851.4,212.3 851.6,212.4 851.9,212.5C852.2,212.6 852.3,212.7 852.5,212.9C852.7,213.1 852.7,213.2 852.7,213.4Z" fill="#dde9b8"/>
<path d="M848.4,224.9C848.4,225.1 848.3,225.2 848.1,225.4C848.0,225.6 847.8,225.7 847.5,225.8C847.2,225.9 847.0,225.9 846.7,226.0C846.3,226.0 846.1,226.0 845.7,226.0C845.3,225.9 845.1,225.9 844.8,225.8C844.5,225.7 844.4,225.6 844.2,225.4C844.1,225.2 844.0,225.1 844.0,224.9C844.0,224.7 844.1,224.6 844.2,224.4C844.4,224.3 844.5,224.2 844.8,224.1C845.1,223.9 845.3,223.9 845.7,223.9C846.1,223.8 846.3,223.8 846.7,223.9C847.0,223.9 847.2,223.9 847.5,224.1C847.8,224.2 848.0,224.3 848.1,224.4C848.3,224.6 848.4,224.7 848.4,224.9Z" fill="#dde9b8"/>
<path d="M981.7,170.4C981.7,170.6 981.6,170.7 981.5,170.9C981.4,171.1 981.3,171.3 981.0,171.4C980.8,171.5 980.6,171.6 980.3,171.6C980.0,171.7 979.8,171.7 979.6,171.6C979.3,171.6 979.1,171.5 978.9,171.4C978.6,171.3 978.5,171.1 978.4,170.9C978.2,170.7 978.2,170.6 978.2,170.4C978.2,170.1 978.2,170.0 978.4,169.8C978.5,169.6 978.6,169.5 978.9,169.3C979.1,169.2 979.3,169.1 979.6,169.1C979.8,169.0 980.0,169.0 980.3,169.1C980.6,169.1 980.8,169.2 981.0,169.3C981.3,169.5 981.4,169.6 981.5,169.8C981.6,170.0 981.7,170.1 981.7,170.4Z" fill="#dde9b8"/>
<path d="M925.6,220.6C925.6,220.7 925.6,220.9 925.5,221.0C925.4,221.2 925.3,221.3 925.1,221.4C924.9,221.5 924.8,221.6 924.6,221.6C924.4,221.7 924.2,221.7 924.0,221.6C923.8,221.6 923.7,221.5 923.5,221.4C923.3,221.3 923.2,221.2 923.1,221.0C923.0,220.9 923.0,220.7 923.0,220.6C923.0,220.4 923.0,220.3 923.1,220.1C923.2,219.9 923.3,219.8 923.5,219.7C923.7,219.6 923.8,219.5 924.0,219.5C924.2,219.5 924.4,219.5 924.6,219.5C924.8,219.5 924.9,219.6 925.1,219.7C925.3,219.8 925.4,219.9 925.5,220.1C925.6,220.3 925.6,220.4 925.6,220.6Z" fill="#dde9b8"/>
<path d="M851.5,213.5C851.5,213.6 851.5,213.7 851.4,213.8C851.3,214.0 851.2,214.1 851.0,214.1C850.8,214.2 850.7,214.3 850.5,214.3C850.3,214.3 850.1,214.3 849.9,214.3C849.7,214.3 849.6,214.2 849.4,214.1C849.2,214.1 849.1,214.0 849.0,213.8C848.9,213.7 848.9,213.6 848.9,213.5C848.9,213.3 848.9,213.2 849.0,213.1C849.1,212.9 849.2,212.9 849.4,212.8C849.6,212.7 849.7,212.6 849.9,212.6C850.1,212.6 850.3,212.6 850.5,212.6C850.7,212.6 850.8,212.7 851.0,212.8C851.2,212.9 851.3,212.9 851.4,213.1C851.5,213.2 851.5,213.3 851.5,213.5Z" fill="#dde9b8"/>
<path d="M847.8,224.8C847.8,225.0 847.8,225.1 847.7,225.2C847.6,225.3 847.5,225.4 847.3,225.5C847.1,225.6 847.0,225.6 846.8,225.7C846.6,225.7 846.4,225.7 846.2,225.7C846.0,225.6 845.9,225.6 845.7,225.5C845.5,225.4 845.4,225.3 845.3,225.2C845.2,225.1 845.2,225.0 845.2,224.8C845.2,224.7 845.2,224.6 845.3,224.4C845.4,224.3 845.5,224.2 845.7,224.1C845.9,224.0 846.0,224.0 846.2,224.0C846.4,223.9 846.6,223.9 846.8,224.0C847.0,224.0 847.1,224.0 847.3,224.1C847.5,224.2 847.6,224.3 847.7,224.4C847.8,224.6 847.8,224.7 847.8,224.8Z" fill="#dde9b8"/>
<path d="M831.4,272.8C831.4,273.0 831.4,273.1 831.3,273.3C831.2,273.5 831.1,273.5 830.9,273.7C830.8,273.8 830.6,273.8 830.4,273.9C830.2,273.9 830.1,273.9 829.8,273.9C829.6,273.8 829.5,273.8 829.3,273.7C829.1,273.5 829.0,273.5 828.9,273.3C828.8,273.1 828.8,273.0 828.8,272.8C828.8,272.6 828.8,272.5 828.9,272.3C829.0,272.2 829.1,272.1 829.3,272.0C829.5,271.8 829.6,271.8 829.8,271.7C830.1,271.7 830.2,271.7 830.4,271.7C830.6,271.8 830.8,271.8 830.9,272.0C831.1,272.1 831.2,272.2 831.3,272.3C831.4,272.5 831.4,272.6 831.4,272.8Z" fill="#dde9b8"/>
<path d="M892.0,300.0C892.0,301.3 891.8,302.1 891.0,303.2C890.3,304.4 889.6,305.0 888.3,305.8C887.0,306.6 886.0,307.0 884.4,307.2C882.7,307.5 881.7,307.5 880.0,307.2C878.3,307.0 877.4,306.6 876.1,305.8C874.7,305.0 874.1,304.4 873.3,303.2C872.6,302.1 872.4,301.3 872.4,300.0C872.4,298.7 872.6,297.9 873.3,296.8C874.1,295.6 874.7,295.0 876.1,294.2C877.4,293.4 878.3,293.1 880.0,292.8C881.7,292.5 882.7,292.5 884.4,292.8C886.0,293.1 887.0,293.4 888.3,294.2C889.6,295.0 890.3,295.6 891.0,296.8C891.8,297.9 892.0,298.7 892.0,300.0Z" fill="#c3e07c"/>
<path d="M847.3,304.4C847.3,305.5 847.1,306.2 846.4,307.2C845.8,308.2 845.2,308.8 844.0,309.5C842.8,310.2 842.0,310.5 840.5,310.8C839.0,311.0 838.1,311.0 836.6,310.8C835.1,310.5 834.3,310.2 833.1,309.5C831.9,308.8 831.3,308.2 830.7,307.2C830.0,306.2 829.8,305.5 829.8,304.4C829.8,303.2 830.0,302.6 830.7,301.5C831.3,300.5 831.9,300.0 833.1,299.3C834.3,298.5 835.1,298.2 836.6,298.0C838.1,297.7 839.0,297.7 840.5,298.0C842.0,298.2 842.8,298.5 844.0,299.3C845.2,300.0 845.8,300.5 846.4,301.5C847.1,302.6 847.3,303.2 847.3,304.4Z" fill="#c3e07c"/>
<path d="M868.0,314.8C868.0,315.7 867.8,316.2 867.2,316.9C866.7,317.7 866.2,318.1 865.1,318.6C864.1,319.1 863.4,319.3 862.1,319.5C860.8,319.7 860.0,319.7 858.7,319.5C857.4,319.3 856.6,319.1 855.6,318.6C854.6,318.1 854.1,317.7 853.5,316.9C852.9,316.2 852.7,315.7 852.7,314.8C852.7,314.0 852.9,313.5 853.5,312.8C854.1,312.0 854.6,311.6 855.6,311.1C856.6,310.6 857.4,310.3 858.7,310.2C860.0,310.0 860.8,310.0 862.1,310.2C863.4,310.3 864.1,310.6 865.1,311.1C866.2,311.6 866.7,312.0 867.2,312.8C867.8,313.5 868.0,314.0 868.0,314.8Z" fill="#c0d87a"/>
<path d="M889.4,320.3C889.4,321.2 889.2,321.8 888.8,322.6C888.3,323.4 887.9,323.8 887.1,324.4C886.3,325.0 885.7,325.2 884.6,325.4C883.6,325.6 883.0,325.6 881.9,325.4C880.9,325.2 880.3,325.0 879.5,324.4C878.6,323.8 878.2,323.4 877.8,322.6C877.3,321.8 877.2,321.2 877.2,320.3C877.2,319.4 877.3,318.8 877.8,318.0C878.2,317.2 878.6,316.8 879.5,316.2C880.3,315.6 880.9,315.4 881.9,315.2C883.0,315.0 883.6,315.0 884.6,315.2C885.7,315.4 886.3,315.6 887.1,316.2C887.9,316.8 888.3,317.2 888.8,318.0C889.2,318.8 889.4,319.4 889.4,320.3Z" fill="#c3e07c"/>
<path d="M885.5,316.4C887.6,314.4 895.7,313.1 898.6,313.1C901.4,313.1 901.8,314.4 899.6,316.4C897.5,318.3 890.5,322.9 887.6,322.9C884.8,322.9 883.3,318.3 885.5,316.4Z" fill="#dde9b8"/>
<path d="M829.8,295.6C829.8,296.3 829.7,296.7 829.3,297.2C828.9,297.8 828.5,298.1 827.8,298.5C827.0,298.9 826.5,299.1 825.6,299.3C824.7,299.4 824.1,299.4 823.2,299.3C822.2,299.1 821.7,298.9 821.0,298.5C820.2,298.1 819.9,297.8 819.4,297.2C819.0,296.7 818.9,296.3 818.9,295.6C818.9,295.0 819.0,294.6 819.4,294.0C819.9,293.5 820.2,293.1 821.0,292.7C821.7,292.3 822.2,292.2 823.2,292.0C824.1,291.9 824.7,291.9 825.6,292.0C826.5,292.2 827.0,292.3 827.8,292.7C828.5,293.1 828.9,293.5 829.3,294.0C829.7,294.6 829.8,295.0 829.8,295.6Z" fill="#c0d87a"/>
<path d="M855.3,296.3C855.3,296.7 855.3,296.9 855.1,297.2C854.9,297.6 854.7,297.8 854.4,298.0C854.0,298.2 853.8,298.3 853.3,298.4C852.9,298.5 852.6,298.5 852.1,298.4C851.7,298.3 851.5,298.2 851.1,298.0C850.7,297.8 850.6,297.6 850.4,297.2C850.2,296.9 850.1,296.7 850.1,296.3C850.1,295.9 850.2,295.7 850.4,295.3C850.6,295.0 850.7,294.8 851.1,294.6C851.5,294.4 851.7,294.3 852.1,294.2C852.6,294.1 852.9,294.1 853.3,294.2C853.8,294.3 854.0,294.4 854.4,294.6C854.7,294.8 854.9,295.0 855.1,295.3C855.3,295.7 855.3,295.9 855.3,296.3Z" fill="#dde9b8"/>
<path d="M832.0,272.7C832.0,273.1 831.9,273.3 831.8,273.7C831.6,274.0 831.5,274.2 831.2,274.4C830.9,274.7 830.7,274.8 830.3,274.9C829.9,274.9 829.7,274.9 829.3,274.9C829.0,274.8 828.8,274.7 828.5,274.4C828.2,274.2 828.0,274.0 827.9,273.7C827.7,273.3 827.6,273.1 827.6,272.7C827.6,272.4 827.7,272.1 827.9,271.8C828.0,271.4 828.2,271.3 828.5,271.0C828.8,270.8 829.0,270.7 829.3,270.6C829.7,270.5 829.9,270.5 830.3,270.6C830.7,270.7 830.9,270.8 831.2,271.0C831.5,271.3 831.6,271.4 831.8,271.8C831.9,272.1 832.0,272.4 832.0,272.7Z" fill="#c0d87a"/>
<path d="M288.7,247.1C288.7,248.2 288.5,248.8 287.9,249.8C287.2,250.7 286.6,251.3 285.4,251.9C284.3,252.6 283.4,252.9 281.9,253.1C280.5,253.4 279.5,253.4 278.1,253.1C276.6,252.9 275.7,252.6 274.6,251.9C273.4,251.3 272.8,250.7 272.1,249.8C271.5,248.8 271.3,248.2 271.3,247.1C271.3,246.0 271.5,245.4 272.1,244.4C272.8,243.4 273.4,242.9 274.6,242.3C275.7,241.6 276.6,241.3 278.1,241.1C279.5,240.8 280.5,240.8 281.9,241.1C283.4,241.3 284.3,241.6 285.4,242.3C286.6,242.9 287.2,243.4 287.9,244.4C288.5,245.4 288.7,246.0 288.7,247.1Z" fill="#fff200"/>
<path d="M336.4,264.5C337.8,261.3 348.7,259.8 354.5,259.1C360.4,258.4 364.0,258.0 365.5,260.9C366.9,263.8 365.5,270.7 361.8,273.6C358.2,276.5 352.4,277.3 347.3,275.5C342.2,273.6 334.9,267.8 336.4,264.5Z" fill="#6fab36"/>
<path d="M136.4,333.6C138.3,330.0 141.8,326.0 145.5,324.5C149.1,323.1 152.4,323.1 154.5,326.4C156.7,329.6 157.1,336.2 156.4,340.9C155.6,345.6 154.2,348.5 150.9,350.0C147.6,351.5 143.1,349.6 140.0,348.2C136.9,346.7 136.4,345.6 135.6,342.7C134.9,339.8 134.4,337.3 136.4,333.6Z" fill="#8fce52"/>
<path d="M156.4,359.1C158.9,356.9 163.1,355.5 167.3,356.2C171.4,356.9 174.5,360.0 177.1,362.7C179.6,365.5 180.9,367.7 180.0,370.0C179.1,372.3 176.5,373.6 172.7,374.4C168.9,375.1 164.7,375.1 161.1,373.6C157.5,372.2 155.5,370.0 154.5,367.1C153.6,364.2 153.8,361.3 156.4,359.1Z" fill="#8fce52"/>
<path d="M436.7,395.8C436.7,396.6 436.6,397.1 436.4,397.8C436.2,398.6 436.1,399.0 435.8,399.5C435.4,400.0 435.2,400.3 434.8,400.4C434.4,400.6 434.1,400.6 433.7,400.4C433.3,400.3 433.1,400.0 432.8,399.5C432.4,399.0 432.3,398.6 432.1,397.8C431.9,397.1 431.9,396.6 431.9,395.8C431.9,394.9 431.9,394.4 432.1,393.7C432.3,392.9 432.4,392.5 432.8,392.0C433.1,391.5 433.3,391.3 433.7,391.1C434.1,390.9 434.4,390.9 434.8,391.1C435.2,391.3 435.4,391.5 435.8,392.0C436.1,392.5 436.2,392.9 436.4,393.7C436.6,394.4 436.7,394.9 436.7,395.8Z" fill="#f5fa6a"/>
<path d="M394.5,563.1C396.3,560.3 399.3,556.8 403.3,555.5C407.2,554.2 410.7,555.5 414.2,556.6C417.7,557.6 421.2,558.7 420.7,560.9C420.3,563.1 417.2,565.7 412.0,567.5C406.8,569.2 398.0,570.5 394.5,569.6C391.1,568.8 392.8,565.9 394.5,563.1Z" fill="#fff200"/>
<path d="M825.6,506.9C825.6,507.5 825.5,507.8 825.2,508.3C824.9,508.9 824.7,509.1 824.2,509.5C823.7,509.9 823.4,510.0 822.8,510.1C822.2,510.3 821.8,510.3 821.2,510.1C820.6,510.0 820.3,509.9 819.8,509.5C819.3,509.1 819.1,508.9 818.8,508.3C818.5,507.8 818.4,507.5 818.4,506.9C818.4,506.3 818.5,506.0 818.8,505.5C819.1,505.0 819.3,504.7 819.8,504.3C820.3,504.0 820.6,503.8 821.2,503.7C821.8,503.6 822.2,503.6 822.8,503.7C823.4,503.8 823.7,504.0 824.2,504.3C824.7,504.7 824.9,505.0 825.2,505.5C825.5,506.0 825.6,506.3 825.6,506.9Z" fill="#8fce52"/>
<path d="M667.3,661.5C669.0,659.7 675.4,658.4 678.2,659.3C681.0,660.2 683.2,664.1 681.5,665.8C679.7,667.6 672.3,668.9 669.5,668.0C666.6,667.1 665.5,663.2 667.3,661.5Z" fill="#6fab36"/>
<path d="M765.5,632.7C765.5,633.0 765.4,633.2 765.0,633.5C764.7,633.8 764.4,634.0 763.8,634.2C763.2,634.4 762.8,634.5 762.1,634.6C761.3,634.7 760.9,634.7 760.1,634.6C759.4,634.5 759.0,634.4 758.4,634.2C757.8,634.0 757.5,633.8 757.2,633.5C756.8,633.2 756.7,633.0 756.7,632.7C756.7,632.3 756.8,632.1 757.2,631.8C757.5,631.5 757.8,631.3 758.4,631.1C759.0,630.9 759.4,630.8 760.1,630.7C760.9,630.7 761.3,630.7 762.1,630.7C762.8,630.8 763.2,630.9 763.8,631.1C764.4,631.3 764.7,631.5 765.0,631.8C765.4,632.1 765.5,632.3 765.5,632.7Z" fill="#c3e07c"/>
<path d="M527.2,630.9C527.2,631.8 527.1,632.4 526.8,633.2C526.5,634.0 526.3,634.4 525.7,635.0C525.2,635.6 524.8,635.8 524.2,636.0C523.5,636.2 523.1,636.2 522.4,636.0C521.7,635.8 521.4,635.6 520.8,635.0C520.3,634.4 520.0,634.0 519.7,633.2C519.4,632.4 519.4,631.8 519.4,630.9C519.4,630.0 519.4,629.5 519.7,628.6C520.0,627.8 520.3,627.4 520.8,626.8C521.4,626.3 521.7,626.0 522.4,625.8C523.1,625.6 523.5,625.6 524.2,625.8C524.8,626.0 525.2,626.3 525.7,626.8C526.3,627.4 526.5,627.8 526.8,628.6C527.1,629.5 527.2,630.0 527.2,630.9Z" fill="#c3e07c"/>
<path d="M557.3,601.9C557.3,602.4 557.3,602.7 557.0,603.1C556.8,603.6 556.6,603.8 556.3,604.1C555.9,604.4 555.6,604.5 555.1,604.7C554.6,604.8 554.3,604.8 553.9,604.7C553.4,604.5 553.1,604.4 552.7,604.1C552.3,603.8 552.1,603.6 551.9,603.1C551.7,602.7 551.6,602.4 551.6,601.9C551.6,601.4 551.7,601.1 551.9,600.7C552.1,600.2 552.3,600.0 552.7,599.7C553.1,599.4 553.4,599.2 553.9,599.1C554.3,599.0 554.6,599.0 555.1,599.1C555.6,599.2 555.9,599.4 556.3,599.7C556.6,600.0 556.8,600.2 557.0,600.7C557.3,601.1 557.3,601.4 557.3,601.9Z" fill="#8fce52"/>
<path d="M960.0,203.1C959.8,203.9 959.4,204.3 958.5,204.8C957.5,205.4 956.7,205.6 955.2,205.7C953.7,205.9 952.7,205.9 950.9,205.6C949.2,205.3 948.1,205.1 946.4,204.4C944.7,203.8 943.8,203.4 942.6,202.5C941.3,201.6 940.7,201.1 940.2,200.2C939.6,199.2 939.5,198.7 939.7,197.9C939.9,197.1 940.3,196.7 941.2,196.1C942.1,195.6 942.9,195.4 944.4,195.2C945.9,195.1 947.0,195.1 948.7,195.4C950.5,195.6 951.6,195.9 953.2,196.5C954.9,197.1 955.8,197.6 957.1,198.5C958.3,199.3 958.9,199.9 959.5,200.8C960.1,201.7 960.2,202.3 960.0,203.1Z" fill="#fff200"/>
<path d="M991.7,221.1C991.7,221.6 991.7,221.9 991.4,222.3C991.1,222.8 990.8,223.1 990.2,223.4C989.6,223.8 989.1,224.0 988.4,224.2C987.6,224.5 987.1,224.5 986.2,224.5C985.4,224.6 985.0,224.5 984.3,224.3C983.6,224.2 983.2,224.0 982.8,223.6C982.4,223.3 982.2,223.0 982.2,222.6C982.1,222.1 982.2,221.8 982.5,221.4C982.8,220.9 983.1,220.7 983.7,220.3C984.3,219.9 984.7,219.7 985.5,219.5C986.3,219.3 986.8,219.2 987.6,219.2C988.4,219.2 988.9,219.2 989.6,219.4C990.3,219.6 990.6,219.7 991.0,220.1C991.4,220.4 991.6,220.7 991.7,221.1Z" fill="#8fce52"/>
<path d="M888.5,300.0C888.5,300.9 888.4,301.5 887.8,302.3C887.3,303.1 886.9,303.5 886.0,304.1C885.0,304.7 884.4,304.9 883.3,305.1C882.1,305.3 881.4,305.3 880.2,305.1C879.1,304.9 878.5,304.7 877.5,304.1C876.6,303.5 876.2,303.1 875.7,302.3C875.1,301.5 875.0,300.9 875.0,300.0C875.0,299.1 875.1,298.6 875.7,297.7C876.2,296.9 876.6,296.5 877.5,295.9C878.5,295.3 879.1,295.1 880.2,294.9C881.4,294.7 882.1,294.7 883.3,294.9C884.4,295.1 885.0,295.3 886.0,295.9C886.9,296.5 887.3,296.9 887.8,297.7C888.4,298.6 888.5,299.1 888.5,300.0Z" fill="#fff200"/>
<path d="M844.9,305.0C844.9,305.7 844.8,306.1 844.4,306.6C844.0,307.2 843.6,307.5 842.9,307.9C842.2,308.3 841.7,308.5 840.8,308.6C839.9,308.8 839.4,308.8 838.5,308.6C837.6,308.5 837.1,308.3 836.4,307.9C835.7,307.5 835.3,307.2 834.9,306.6C834.5,306.1 834.4,305.7 834.4,305.0C834.4,304.4 834.5,304.0 834.9,303.4C835.3,302.8 835.7,302.5 836.4,302.1C837.1,301.7 837.6,301.5 838.5,301.4C839.4,301.3 839.9,301.3 840.8,301.4C841.7,301.5 842.2,301.7 842.9,302.1C843.6,302.5 844.0,302.8 844.4,303.4C844.8,304.0 844.9,304.4 844.9,305.0Z" fill="#fff200"/>
<path d="M864.7,314.8C864.7,315.3 864.6,315.6 864.3,316.0C864.0,316.4 863.7,316.6 863.1,316.9C862.5,317.2 862.1,317.3 861.3,317.4C860.6,317.5 860.1,317.5 859.4,317.4C858.7,317.3 858.2,317.2 857.6,316.9C857.1,316.6 856.8,316.4 856.4,316.0C856.1,315.6 856.0,315.3 856.0,314.8C856.0,314.4 856.1,314.1 856.4,313.7C856.8,313.3 857.1,313.1 857.6,312.8C858.2,312.5 858.7,312.4 859.4,312.3C860.1,312.2 860.6,312.2 861.3,312.3C862.1,312.4 862.5,312.5 863.1,312.8C863.7,313.1 864.0,313.3 864.3,313.7C864.6,314.1 864.7,314.4 864.7,314.8Z" fill="#8fce52"/>
<path d="M885.0,320.3C885.0,320.6 885.0,320.8 884.9,321.1C884.7,321.3 884.6,321.5 884.4,321.7C884.1,321.9 884.0,321.9 883.7,322.0C883.4,322.1 883.2,322.1 882.9,322.0C882.6,321.9 882.4,321.9 882.2,321.7C882.0,321.5 881.8,321.3 881.7,321.1C881.6,320.8 881.5,320.6 881.5,320.3C881.5,320.0 881.6,319.8 881.7,319.5C881.8,319.3 882.0,319.1 882.2,318.9C882.4,318.7 882.6,318.7 882.9,318.6C883.2,318.5 883.4,318.5 883.7,318.6C884.0,318.7 884.1,318.7 884.4,318.9C884.6,319.1 884.7,319.3 884.9,319.5C885.0,319.8 885.0,320.0 885.0,320.3Z" fill="#f5e65a"/>
<path d="M283.3,247.5C283.3,248.1 283.2,248.5 282.8,249.0C282.5,249.6 282.2,249.9 281.6,250.3C281.0,250.7 280.6,250.9 279.9,251.0C279.1,251.1 278.7,251.1 277.9,251.0C277.2,250.9 276.8,250.7 276.2,250.3C275.6,249.9 275.3,249.6 275.0,249.0C274.6,248.5 274.5,248.1 274.5,247.5C274.5,246.8 274.6,246.4 275.0,245.9C275.3,245.3 275.6,245.0 276.2,244.6C276.8,244.2 277.2,244.0 277.9,243.9C278.7,243.8 279.1,243.8 279.9,243.9C280.6,244.0 281.0,244.2 281.6,244.6C282.2,245.0 282.5,245.3 282.8,245.9C283.2,246.4 283.3,246.8 283.3,247.5Z" fill="#f7b64a"/>
<path d="M364.4,268.2C364.4,269.1 364.3,269.7 364.0,270.5C363.8,271.4 363.6,271.9 363.1,272.4C362.7,273.0 362.4,273.3 361.8,273.5C361.3,273.7 360.9,273.7 360.4,273.5C359.8,273.3 359.5,273.0 359.1,272.4C358.6,271.9 358.4,271.4 358.1,270.5C357.9,269.7 357.8,269.1 357.8,268.2C357.8,267.2 357.9,266.7 358.1,265.8C358.4,265.0 358.6,264.5 359.1,263.9C359.5,263.3 359.8,263.1 360.4,262.9C360.9,262.7 361.3,262.7 361.8,262.9C362.4,263.1 362.7,263.3 363.1,263.9C363.6,264.5 363.8,265.0 364.0,265.8C364.3,266.7 364.4,267.2 364.4,268.2Z" fill="#f5fa6a"/>
<path d="M151.3,340.2C151.3,341.6 151.1,342.5 150.7,343.8C150.3,345.1 149.9,345.8 149.1,346.7C148.3,347.6 147.7,348.0 146.7,348.3C145.8,348.7 145.1,348.7 144.2,348.3C143.2,348.0 142.6,347.6 141.8,346.7C141.0,345.8 140.7,345.1 140.2,343.8C139.8,342.5 139.6,341.6 139.6,340.2C139.6,338.7 139.8,337.9 140.2,336.6C140.7,335.2 141.0,334.5 141.8,333.6C142.6,332.7 143.2,332.4 144.2,332.0C145.1,331.7 145.8,331.7 146.7,332.0C147.7,332.4 148.3,332.7 149.1,333.6C149.9,334.5 150.3,335.2 150.7,336.6C151.1,337.9 151.3,338.7 151.3,340.2Z" fill="#f5e65a"/>
<path d="M172.0,365.3C172.0,366.2 171.9,366.7 171.5,367.5C171.0,368.3 170.7,368.7 169.9,369.3C169.2,369.8 168.7,370.0 167.8,370.2C166.8,370.4 166.3,370.4 165.3,370.2C164.4,370.0 163.9,369.8 163.1,369.3C162.4,368.7 162.0,368.3 161.6,367.5C161.2,366.7 161.1,366.2 161.1,365.3C161.1,364.4 161.2,363.9 161.6,363.1C162.0,362.3 162.4,361.8 163.1,361.3C163.9,360.7 164.4,360.5 165.3,360.3C166.3,360.1 166.8,360.1 167.8,360.3C168.7,360.5 169.2,360.7 169.9,361.3C170.7,361.8 171.0,362.3 171.5,363.1C171.9,363.9 172.0,364.4 172.0,365.3Z" fill="#f5e65a"/>
<path d="M408.7,565.7C408.7,566.1 408.6,566.3 408.3,566.6C408.0,566.9 407.7,567.0 407.1,567.3C406.5,567.5 406.1,567.6 405.3,567.6C404.6,567.7 404.1,567.7 403.4,567.6C402.7,567.6 402.2,567.5 401.6,567.3C401.1,567.0 400.8,566.9 400.4,566.6C400.1,566.3 400.0,566.1 400.0,565.7C400.0,565.4 400.1,565.2 400.4,564.9C400.8,564.6 401.1,564.4 401.6,564.2C402.2,564.0 402.7,563.9 403.4,563.8C404.1,563.7 404.6,563.7 405.3,563.8C406.1,563.9 406.5,564.0 407.1,564.2C407.7,564.4 408.0,564.6 408.3,564.9C408.6,565.2 408.7,565.4 408.7,565.7Z" fill="#f7b64a"/>
<path d="M668.4,663.6C669.9,662.7 674.5,661.8 676.0,662.6C677.5,663.3 677.5,666.4 676.0,667.4C674.5,668.3 669.9,668.1 668.4,667.4C666.8,666.6 666.8,664.6 668.4,663.6Z" fill="#f5e65a"/>
<path d="M953.8,201.8C953.7,202.2 953.5,202.4 953.1,202.7C952.6,202.9 952.2,203.0 951.4,203.1C950.7,203.2 950.2,203.2 949.3,203.0C948.4,202.9 947.9,202.8 947.0,202.5C946.2,202.2 945.7,201.9 945.1,201.5C944.5,201.1 944.2,200.8 943.9,200.3C943.6,199.9 943.6,199.6 943.7,199.2C943.8,198.8 943.9,198.6 944.4,198.3C944.9,198.0 945.3,197.9 946.0,197.9C946.8,197.8 947.3,197.8 948.2,197.9C949.1,198.1 949.6,198.2 950.4,198.5C951.3,198.8 951.7,199.0 952.4,199.5C953.0,199.9 953.3,200.2 953.6,200.6C953.9,201.1 953.9,201.4 953.8,201.8Z" fill="#f7b64a"/>
</g>
<path d="M636.7,666.9L625.8,660.4L618.2,653.8L617.1,642.9L601.8,636.4L593.1,633.1L580.0,640.7L570.2,642.9L561.5,645.1L552.7,645.1L541.8,647.3L539.6,656.0L541.8,670.2L530.9,669.1L522.2,662.6L513.5,662.6L509.1,653.8L502.6,645.1L506.9,636.4L500.4,632.0L498.2,614.5L491.6,614.5L478.6,621.1L479.6,603.6L487.3,594.9L493.8,584.0L494.9,573.1L493.8,560.0L492.7,558.7 M110.9,334.5L124.0,330.2L132.7,323.6L140.4,319.3L154.5,312.7L165.5,308.4L182.9,299.6L198.2,294.2L209.1,284.4L211.3,280.0L207.6,289.5L210.9,284.0L213.1,273.1L217.5,268.7L219.6,257.8L213.1,246.9L209.8,234.3L230.5,230.6L248.0,229.5L245.8,222.9L246.9,214.2L251.3,203.3L256.7,194.5L267.6,195.6L276.4,198.9L287.3,197.8L294.9,194.5L293.8,179.3L296.0,170.5L311.3,166.2L312.4,159.6L317.8,155.7L326.6,157.5L328.7,164.0L337.5,172.7L344.0,179.3L352.7,181.5L360.4,180.4L365.8,188.0L369.1,196.7L376.7,203.3L377.8,214.2L372.4,220.7L369.1,227.3L376.7,231.6L385.5,233.8L405.1,234.9L418.2,238.2L431.3,243.6L440.0,246.9L442.6,250.0L446.9,258.7L451.3,268.5L453.5,275.1L458.9,277.9L470.9,276.6L479.6,278.4L497.1,277.9L514.6,277.5L527.7,278.4L540.7,281.6L549.5,288.2L560.4,291.5L571.3,294.7L580.0,295.8L590.9,298.0L614.9,287.1L630.2,283.2L645.5,282.7L660.7,281.6L671.6,277.3L677.1,271.8L684.7,265.3L697.8,257.6L698.5,240.0L705.0,236.0L714.0,239.6L721.5,239.6L731.3,234.2L746.6,228.7L755.3,226.6L762.9,221.1L770.0,214.0L790.0,210.0L805.0,207.0L812.0,205.8L817.5,204.7L818.6,199.3L809.8,189.5L795.0,183.0L775.0,183.0L761.8,181.8L764.0,169.4L767.0,158.0L772.7,149.1L785.8,152.4L798.9,144.7L809.8,139.3L815.0,120.0L820.0,104.0L824.4,90.7L833.1,84.2L846.2,79.8L863.6,78.3L878.9,78.7L892.0,84.2L905.1,88.5L913.8,96.2L919.3,104.9L924.7,119.1L931.3,130.0L934.6,144.2L942.2,150.7L953.1,151.8L964.0,154.0L972.7,159.5L981.5,164.9L982.6,174.7L988.0,183.5L1003.3,184.6L1014.2,181.3L1027.3,176.9L1044.7,174.7L1042.6,179.1L1044.7,188.9L1036.0,196.6L1034.9,205.3L1029.5,214.0L1020.7,227.1L1014.2,232.6L1000.0,245.0L991.0,250.0L990.2,248.7L989.1,266.2L990.2,272.7L985.8,276.0L977.1,281.5L970.6,282.5L964.0,283.6L959.6,289.1L944.4,291.3L931.3,292.4L924.7,296.7L916.0,303.3L907.3,312.0L894.2,322.9L885.5,330.6L876.7,330.6" fill="none" stroke="#000" stroke-width="1" stroke-dasharray="6 2" shape-rendering="crispEdges" opacity="0.7"/>
<path d="M492.7,558.7L486.2,552.2L488.4,545.6L479.6,541.3L474.2,543.5L468.7,551.1L457.8,544.6L446.9,543.5L431.6,547.8L427.3,560.9L405.5,571.8L392.4,569.6L390.2,558.7L372.7,547.8L357.5,552.2L344.4,554.4L340.0,547.8L318.2,541.3L302.9,536.9L281.1,526.0L259.3,517.3L246.2,508.6L217.8,495.5L191.6,486.7L189.5,469.3L188.4,430.0L185.1,408.7L145.8,393.5L141.5,380.4L130.5,371.6L126.2,354.2L113.1,345.5L110.9,334.5" fill="none" stroke="#000" stroke-width="1" stroke-dasharray="2 11" shape-rendering="crispEdges" opacity="0.8"/>
<path d="M876.7,330.6L868.0,333.8L854.9,340.4L846.2,346.9L838.5,349.1L844.0,342.6L840.7,336.0L848.4,327.3L854.9,320.7L850.5,316.4L846.2,309.8L837.5,314.2L828.7,322.9L820.0,327.3L820.0,325.3L813.5,330.7L806.9,337.3L798.2,343.8L789.5,346.0L782.9,354.7L785.1,361.3L802.6,376.6L815.7,380.9L820.0,374.4L820.0,372.0L833.1,368.7L838.5,373.1L852.7,375.3L859.3,377.5L854.9,384.0L841.8,388.4L833.1,392.7L826.5,399.3L820.0,403.6L820.7,400.0L813.1,410.2L808.0,421.6L818.2,428.0L825.8,433.1L827.1,443.3L830.9,453.5L833.5,463.6L841.1,473.8L847.5,484.0L848.7,494.2L841.1,496.7L834.7,501.8L828.4,505.6L838.5,508.2L851.3,512.0L850.0,522.2L843.6,527.3L844.9,538.7L838.5,545.1L830.9,552.7L825.8,560.4L818.2,570.5L814.4,580.7L813.1,590.9L805.5,601.1L800.4,610.0L792.7,613.5L786.2,620.0L779.6,625.5L773.1,632.0L764.4,638.6L760.0,641.8L763.3,638.6L750.2,644.0L737.1,647.3L730.6,651.6L724.0,653.8L719.6,651.6L710.9,656.0L702.2,662.6L689.1,666.9L673.8,669.1L673.8,670.2L670.6,677.8L673.8,687.6L666.2,688.7L661.8,680.0L662.9,668.0L649.8,663.6L636.7,666.9 M107.3,222.7L116.4,208.2L127.3,202.7L147.3,204.5L169.1,206.4L183.6,204.5L195.3,203.5L190.9,208.2L176.4,210.7L154.5,208.2L132.7,209.3L121.8,215.5L116.4,224.5L117.5,235.5L107.3,222.7 M639.6,69.9L630.2,78.9L619.3,89.8L606.2,97.8L594.5,110.2L568.4,114.5L580.7,119.3L583.6,119.3L604.0,114.1L607.6,109.5L609.8,103.3L620.7,97.8L635.3,94.2L646.9,83.3L654.9,76.0L658.5,69.9 M990.2,272.7L994.6,270.5L1001.1,267.3L1007.7,267.3L1008.7,273.8L1020.7,278.2L1029.5,274.9L1038.2,270.5L1050.2,265.1 M985.8,276.0L977.1,288.0L966.2,297.8L968.4,312.0L950.9,322.9L933.5,330.6L935.6,336.0L932.4,341.5L946.6,351.3L950.9,360.0L959.6,370.9L964.0,388.4L964.0,405.8L959.6,420.0 M885.5,330.6L902.9,338.2L898.6,351.3L892.0,363.3L902.9,369.8L913.8,368.7L920.4,375.3L922.6,382.9L914.9,385.1L918.2,392.7L923.6,403.6L918.2,412.4L916.0,420.0 M1007.7,420.0L1016.4,410.2L1038.2,408.0L1050.2,406.3 M922.5,400.0L923.8,405.1L917.5,411.5L916.2,422.9L921.3,431.8L937.8,424.2L953.1,420.4L960.7,415.3L964.5,400.0 M965.8,450.9L981.1,440.7L987.5,439.5L988.7,431.8L1004.0,422.9L1016.7,410.2L1049.8,406.4 M987.5,439.5L1004.0,438.2L1009.1,433.1L1024.4,429.3L1042.2,422.9L1049.8,422.9 M965.8,450.9L969.6,459.8L977.3,454.7L981.1,461.1L981.1,472.5L976.0,473.8L975.5,489.1L983.6,491.1L993.8,485.3L997.6,468.7L1002.7,459.8L997.6,443.3L987.5,439.5 M1007.8,448.4L1016.7,438.2L1024.4,439.5L1034.5,431.8L1043.5,434.4L1044.7,440.7L1037.1,450.9L1032.0,447.1L1024.4,450.9L1019.3,459.8L1010.4,457.3L1007.8,448.4 M833.5,610.0L836.0,602.4L843.6,598.0L849.2,601.1L850.0,610.0 M845.1,598.2L849.5,601.5L849.9,612.4L847.3,623.3L844.0,634.2L838.6,644.0L835.3,649.5L833.1,658.2L829.8,651.6L824.4,645.1L822.2,634.2L823.3,625.5L829.8,614.5L835.3,605.8L840.7,600.4L845.1,598.2 M828.7,731.3L830.3,722.6L836.4,721.9L844.0,726.9L851.6,726.9L855.6,722.6L854.9,731.3 M647.6,708.4L656.4,699.6L667.3,695.3L682.6,695.3L682.6,704.0L676.0,717.1L667.3,723.6L656.4,726.9L648.7,721.5L646.6,712.7L647.6,708.4 M636.7,666.9L623.6,675.6L612.7,686.6L604.0,697.5L600.7,712.7L606.2,725.8L610.5,731.3 M262.0,730.0L285.0,717.0L300.0,695.0L315.0,670.0L331.0,657.0L334.0,667.0L350.0,665.0L367.0,657.0L382.0,644.0L392.0,670.0L400.0,685.0L415.0,705.0L425.0,720.0L427.0,731.0 M413.1,699.6L417.5,710.6L424.0,717.1L427.3,731.3" fill="none" stroke="#000" stroke-width="1" shape-rendering="crispEdges"/>
<path d="M453.5,275.1L453.9,282.7L452.4,290.4L442.6,293.6L433.8,296.9L425.1,304.5L416.4,313.3L405.5,318.7L404.4,330.7L405.5,342.7L392.4,346.0L377.1,351.5L362.9,356.9L367.3,365.6L374.9,374.4L380.4,380.9L372.7,386.4L372.7,394.0L380.4,401.6 M380.4,401.6L368.4,398.4L360.7,395.1L352.0,400.6L340.0,396.2 M353.1,400.6L356.4,407.1L354.2,422.4L357.5,430.0 M405.5,342.7L420.7,339.5L433.8,340.6L442.6,343.8L453.5,350.4L466.6,356.9L467.6,342.7L477.5,344.9L490.6,347.1L497.1,344.9L505.8,352.6L514.6,359.1L516.7,352.6L525.5,361.3L536.4,367.8L545.1,372.2L549.5,376.6L554.9,383.1L558.2,398.4L554.9,407.1L547.3,413.6L548.4,422.4L542.9,426.7 M470.9,276.6L479.6,296.9L476.4,302.4L484.0,308.9L488.4,312.2L488.4,317.6L497.1,313.3L508.0,310.7L516.7,312.2L517.8,317.6L512.4,324.2L505.8,328.6L514.6,332.9L525.5,337.3L529.8,346.0L538.6,351.5L541.8,361.3L545.1,371.1 M538.6,351.5L542.9,343.8L556.0,341.6L566.9,339.5L576.7,338.4L577.8,346.0L569.1,354.7L566.9,363.5L574.6,372.2L580.0,376.6 M576.7,338.4L580.0,336.2 M188.4,441.5L189.5,433.8L193.8,430.6L202.6,428.4L206.9,419.6L213.5,410.9L222.2,412.0L230.9,413.1L239.6,410.9L252.7,412.0L265.8,412.0L281.1,407.6L300.7,404.4L302.9,397.8L318.2,394.6L340.0,392.4 M353.1,430.0L357.5,438.7L366.2,451.8L379.3,450.7L392.4,458.4L412.0,462.7L418.6,466.0L431.6,462.7L438.2,469.3L449.1,470.4L457.8,476.9L470.9,471.5L475.3,462.7L473.1,451.8L479.6,439.8L490.6,442.0L497.1,451.8L505.8,458.4L514.6,459.5L525.5,462.7L532.0,454.0L540.7,446.4L536.4,438.7L527.7,433.3L525.5,430.0 M540.7,446.4L556.0,446.4 M540.7,446.4L549.5,436.5L558.2,432.2L562.6,436.5L566.9,442.0L580.0,445.3 M475.3,462.7L484.0,468.2L490.6,476.9L497.1,484.5L500.4,495.5L499.3,512.9L500.4,526.0L502.6,539.1L503.6,545.6L510.2,536.9L514.6,539.1L516.7,547.8L517.8,560.9L523.3,569.6L532.0,580.6 M580.0,541.3L566.9,552.2L558.2,565.3L549.5,578.4L545.1,580.6L532.0,580.6 M580.0,558.7L571.3,563.1L571.3,571.8L580.0,569.6 M580.0,374.4L593.1,367.8L601.8,363.5L604.0,352.6L610.5,341.6L617.1,338.4L619.3,346.0L614.9,354.7L623.6,361.3L636.7,363.5L638.9,372.2L649.8,359.1L658.6,346.0L667.3,340.6L676.0,339.5L689.1,334.0L697.8,326.4L710.9,319.8L724.0,318.7L730.6,313.3L728.4,302.4L737.1,289.3L741.5,290.4L742.6,296.9L752.4,293.6L761.1,289.3L772.0,288.2L774.2,282.7L785.1,280.5L789.5,287.1L796.0,301.3L806.9,302.4L811.3,284.9L820.0,282.7 M676.0,339.5L682.6,346.0L676.0,359.1L676.0,372.2L673.8,389.6L676.0,407.1L671.6,424.6 M730.6,313.3L736.0,322.0L730.6,326.4L737.1,335.1L737.1,343.8L721.8,352.6L722.9,363.5L730.6,372.2L728.4,380.9L721.8,391.8L724.0,400.6L719.6,407.1L702.2,415.8L689.1,422.4L671.6,424.6 M724.0,394.0L737.1,398.4L750.2,400.6L748.0,391.8L754.6,380.9L765.5,372.2L776.4,367.8L785.1,361.3 M750.2,330.7L752.4,325.3L761.1,322.0L765.5,315.5L772.0,319.8L778.6,315.5L780.7,324.2L772.0,332.9L763.3,335.1L754.6,335.1L750.2,330.7 M769.8,335.1L776.4,332.9L782.9,337.3L785.1,346.0L778.6,352.6L772.0,348.2L769.8,335.1 M601.8,363.5L597.5,380.9L601.8,391.8L597.5,402.7L606.2,411.5L612.7,420.2L610.5,430.0 M614.9,374.4L613.8,380.9L623.6,378.7L625.8,370.0L636.7,368.9 M614.9,380.9L612.7,398.4L620.4,400.6L617.1,411.5L632.4,415.8L634.5,420.2L645.5,413.6L645.5,398.4L641.1,389.6L630.2,389.6L625.8,380.9 M796.0,301.3L798.2,315.5L806.9,322.0L815.7,315.5L820.0,311.1 M612.7,430.0L614.9,438.7L610.5,445.3L601.8,447.5L604.0,454.0L597.5,460.5L588.7,462.7L580.0,460.5 M614.9,438.7L623.6,447.5L621.5,460.5L628.0,467.1L638.9,470.4L643.3,480.2L638.9,486.7L634.5,495.5L619.3,497.6L612.7,495.5L612.7,502.0L601.8,506.4L599.6,517.3L595.3,526.0L601.8,532.6L604.0,539.1L601.8,541.3 M638.9,470.4L656.4,470.4L660.7,467.1L658.6,454.0L667.3,451.8L673.8,456.2L682.6,451.8L676.0,440.9L673.8,430.0 M682.6,451.8L689.1,460.5L697.8,464.9L710.9,467.1L721.8,468.2L724.0,475.8L732.7,480.2L741.5,484.5L750.2,488.9L758.9,493.3L756.7,504.2L763.3,510.7L769.8,512.9L776.4,512.9L782.9,517.3L789.5,523.8L793.8,532.6L796.0,541.3 M721.8,468.2L728.4,469.3L741.5,456.2L750.2,451.8L752.4,438.7L763.3,436.5L767.7,432.2L765.5,430.0 M750.2,451.8L754.6,464.9L756.7,473.6L750.2,488.9 M763.3,436.5L776.4,432.2L785.1,438.7L791.7,447.5L798.2,458.4L806.9,462.7L806.9,456.2L798.2,462.7L800.4,473.6L802.6,482.4L813.5,488.9L820.0,493.3 M658.6,473.6L667.3,480.2L669.5,493.3L662.9,497.6L643.3,506.4L643.3,515.1L654.2,517.3L656.4,526.0L654.2,536.9L656.4,543.5L657.5,554.4L654.2,563.1L657.5,569.6L657.5,580.6L652.0,587.1L649.8,593.6 M601.8,541.3L612.7,534.7L623.6,528.2L636.7,526.0L643.3,534.7L647.6,543.5L654.2,536.9 M669.5,493.3L676.0,508.6L689.1,512.9L697.8,519.5L710.9,517.3L719.6,519.5L724.0,526.0L730.6,532.6L728.4,543.5L721.8,554.4L724.0,563.1L728.4,571.8L730.6,582.7L732.7,595.8L734.9,604.6L730.6,610.0 M719.6,519.5L732.7,523.8L745.8,519.5L758.9,512.9L769.8,512.9 M796.0,541.3L789.5,547.8L776.4,552.2L774.2,560.9L767.7,569.6L765.5,582.7L758.9,591.5L756.7,602.4L761.1,610.0 M580.0,536.9L588.7,543.5L593.1,552.2L588.7,556.6L580.0,558.7 M601.8,541.3L608.4,547.8L610.5,552.2L593.1,552.2 M686.9,581.8L682.6,599.3L689.1,605.8L697.8,608.0L695.6,618.9L689.1,627.6L686.9,636.4L680.4,647.3L676.0,656.0L673.8,669.1 M580.0,584.0L593.1,588.4L606.2,592.7L619.3,594.9L632.4,597.1L645.5,592.7L654.2,588.4L662.9,581.8L676.0,579.6L686.9,581.8L689.1,573.1L697.8,566.5L702.2,560.0 M686.9,581.8L697.8,586.2L706.6,601.5L715.3,599.3L724.0,605.8L732.7,608.0L741.5,610.2L754.6,605.8L756.7,594.9L763.3,581.8L767.7,568.7L765.5,560.0 M754.6,605.8L772.0,610.2L776.4,623.3L772.0,632.0 M728.4,560.0L730.6,573.1L728.4,584.0L732.7,594.9L732.7,608.0 M580.0,584.0L586.5,599.3L582.2,610.2L593.1,612.4L601.8,610.2L606.2,621.1L608.4,632.0L601.8,636.4 M581.1,560.0L572.4,566.5L574.6,573.1L583.3,573.1L585.5,581.8L578.9,590.5L587.7,599.3L585.5,610.2L594.2,614.5L596.4,623.3L605.1,621.1L607.3,632.0L605.1,636.4 M587.7,599.3L596.4,603.6L609.5,601.5L620.4,594.9L626.9,592.7L640.0,599.3 M824.4,90.7L837.5,96.2L848.4,100.5L861.5,102.7L863.6,113.6L872.4,121.3L885.5,119.1L900.7,113.6L912.7,123.5L907.3,133.3L900.7,146.4L894.2,161.6L888.7,176.9L872.4,181.3L863.6,188.9L858.2,194.4L864.7,203.1L874.5,200.9L875.6,209.6L878.9,211.8L882.2,222.7L894.2,227.1L907.3,229.3L920.4,230.4L929.1,240.2L937.8,244.6L942.2,250.0 M846.2,79.8L847.3,87.5L837.5,96.2 M858.2,194.4L848.4,218.4L852.7,231.5L852.7,250.0 M864.7,203.1L859.3,211.8L854.9,220.6 M852.7,240.0L857.1,248.7L865.8,244.4L870.2,250.9L874.5,261.8L872.4,266.2L878.9,266.2L887.6,272.7L894.2,270.5L898.6,283.6L902.9,288.0L905.1,301.1L908.4,309.8 M872.4,266.2L859.3,274.9L846.2,279.3L833.1,285.8L820.0,292.4 M985.8,276.0L990.2,272.7L989.1,266.2L981.5,258.5L977.1,254.2L970.6,256.4L961.8,260.7L955.3,259.6L950.9,253.1L946.6,246.5L944.4,253.1L937.8,248.7L933.5,242.2L929.1,240.0 M944.4,291.3L944.4,296.7" fill="none" stroke="#000" stroke-width="1" shape-rendering="crispEdges"/>
<path d="M119.9,350.3L142.5,342.2M138.2,346.7L142.5,342.2L136.3,341.4M139.7,326.3L141.5,320.4M141.9,322.9L141.5,320.4L139.7,322.3M139.7,350.3L149.9,345.5M147.2,348.9L149.9,345.5L145.5,345.4M139.7,374.3L158.9,369.5M154.2,373.5L158.9,369.5L152.8,368.1M159.6,326.3L164.4,309.5M165.5,315.6L164.4,309.5L160.1,314.1M159.6,350.9L148.0,350.9M152.0,348.9L148.0,350.9L152.0,352.9M159.6,374.3L141.5,380.8M145.8,376.3L141.5,380.8L147.7,381.5M159.6,397.8L179.6,398.9M173.9,401.4L179.6,398.9L174.2,395.8M182.9,301.8L199.3,294.2M195.4,299.1L199.3,294.2L193.0,294.0M179.4,326.3L188.4,309.5M188.2,315.7L188.4,309.5L183.3,313.1M179.4,350.9L168.7,350.9M172.4,349.1L168.7,350.9L172.4,352.8M179.4,374.3L164.4,383.6M167.6,378.3L164.4,383.6L170.6,383.1M179.4,398.3L177.1,406.0M176.6,402.8L177.1,406.0L179.4,403.6M181.8,422.9L193.8,424.0M189.5,425.7L193.8,424.0L189.9,421.6M199.3,302.3L213.1,286.2M211.6,292.3L213.1,286.2L207.3,288.7M199.3,326.3L193.8,318.2M197.2,320.1L193.8,318.2L194.3,322.0M199.3,350.3L189.5,347.6M193.3,346.8L189.5,347.6L192.4,350.3M199.3,374.3L190.6,381.5M192.3,377.5L190.6,381.5L194.8,380.5M199.3,397.8L184.0,408.7M186.9,403.2L184.0,408.7L190.2,407.8M199.3,421.8L205.8,440.4M201.3,436.0L205.8,440.4L206.6,434.2M199.3,445.3L217.8,458.4M211.6,457.4L217.8,458.4L214.9,452.8M199.3,469.3L224.4,483.5M218.1,483.1L224.4,483.5L220.9,478.3M204.7,491.5L224.4,484.1M220.1,488.7L224.4,484.1L218.1,483.5M219.2,278.3L230.5,269.8M228.2,274.6L230.5,269.8L225.3,270.8M219.2,302.3L228.4,282.9M228.5,289.2L228.4,282.9L223.4,286.8M219.1,326.3L216.7,318.8M219.0,321.1L216.7,318.8L216.3,322.0M219.1,350.3L209.1,347.6M213.0,346.8L209.1,347.6L212.1,350.3M219.1,374.3L208.0,379.3M210.9,375.7L208.0,379.3L212.7,379.5M219.1,397.8L204.7,408.3M207.6,402.7L204.7,408.3L210.9,407.3M219.1,421.8L230.9,440.4M225.6,437.1L230.9,440.4L230.3,434.1M217.8,445.3L232.0,450.7M226.4,451.3L232.0,450.7L228.2,446.6M217.8,469.3L241.8,469.3M236.2,472.1L241.8,469.3L236.2,466.5M217.8,493.7L247.3,500.3M241.2,501.8L247.3,500.3L242.4,496.3M239.1,254.3L246.8,238.0M246.9,244.3L246.8,238.0L241.8,241.9M239.1,278.3L250.2,254.6M250.3,260.8L250.2,254.6L245.3,258.4M239.1,302.3L248.0,292.7M246.6,297.5L248.0,292.7L243.4,294.5M239.0,326.3L236.4,324.7M237.9,324.8L236.4,324.7L237.2,326.0M239.0,350.3L228.7,352.0M232.0,349.6L228.7,352.0L232.6,353.2M239.0,374.3L225.5,381.5M228.8,376.8L225.5,381.5L231.2,381.3M239.0,396.7L239.0,413.1M236.3,407.7L239.0,413.1L241.7,407.7M239.0,421.8L260.4,438.2M254.2,437.0L260.4,438.2L257.6,432.6M238.6,445.3L250.6,470.4M245.6,466.5L250.6,470.4L250.7,464.1M237.5,470.4L244.0,487.8M239.4,483.6L244.0,487.8L244.7,481.6M238.6,493.3L262.6,493.7M256.9,496.4L262.6,493.7L257.0,490.8M258.9,206.3L251.4,209.9M253.5,207.3L251.4,209.9L254.8,210.0M258.9,230.3L254.3,225.4M256.9,226.4L254.3,225.4L255.1,228.1M258.9,254.3L261.1,243.6M262.2,247.7L261.1,243.6L258.5,247.0M258.9,278.3L277.5,261.1M275.3,267.0L277.5,261.1L271.5,262.9M258.9,302.3L269.8,299.3M266.6,302.2L269.8,299.3L265.5,298.5M258.8,326.3L261.0,328.4M259.5,327.9L261.0,328.4L260.5,326.9M258.8,350.3L247.3,355.3M250.4,351.6L247.3,355.3L252.1,355.5M258.8,374.3L246.6,387.4M248.4,381.3L246.6,387.4L252.5,385.2M258.8,397.8L253.8,416.4M252.6,410.2L253.8,416.4L258.0,411.7M258.8,421.8L264.7,437.1M260.3,433.0L264.7,437.1L265.3,431.1M258.2,445.3L270.2,466.0M265.0,462.6L270.2,466.0L269.8,459.8M258.2,469.3L259.3,490.0M256.2,484.6L259.3,490.0L261.8,484.3M260.4,495.5L271.3,510.7M265.8,507.8L271.3,510.7L270.3,504.5M258.2,517.3L293.1,503.1M289.0,507.8L293.1,503.1L286.9,502.6M278.8,206.3L273.7,206.8M275.6,205.6L273.7,206.8L275.8,207.6M278.6,230.3L265.5,237.1M268.7,232.7L265.5,237.1L271.0,237.0M278.6,254.3L286.2,232.7M287.0,238.9L286.2,232.7L281.7,237.1M278.6,278.3L293.8,262.2M292.0,268.2L293.8,262.2L287.9,264.3M278.6,302.3L290.6,301.0M286.7,303.5L290.6,301.0L286.2,299.4M278.7,326.3L285.5,326.9M282.8,327.9L285.5,326.9L283.1,325.4M278.7,350.3L266.9,359.0M269.4,354.1L266.9,359.0L272.3,358.0M278.7,374.3L266.9,394.6M267.3,388.3L266.9,394.6L272.2,391.1M278.7,397.8L286.6,412.0M281.6,408.6L286.6,412.0L286.3,406.0M278.7,421.8L292.0,436.0M286.1,433.8L292.0,436.0L290.2,430.0M277.8,445.3L295.3,462.7M289.3,460.7L295.3,462.7L293.3,456.8M277.8,469.3L288.7,485.6M283.3,482.5L288.7,485.6L288.0,479.4M277.8,493.3L287.7,504.2M282.5,502.2L287.7,504.2L286.2,498.9M277.8,517.3L298.6,510.3M294.1,514.7L298.6,510.3L292.4,509.4M298.6,207.6L298.6,199.3M300.1,202.3L298.6,199.3L297.1,202.3M298.6,230.3L297.1,241.5M295.7,237.4L297.1,241.5L299.5,237.9M298.6,249.1L298.6,256.7M297.2,253.9L298.6,256.7L300.0,253.9M298.6,278.3L311.3,265.5M309.4,271.4L311.3,265.5L305.4,267.5M298.6,302.3L310.2,298.8M306.8,302.0L310.2,298.8L305.6,298.1M298.8,326.3L301.8,326.9M300.3,327.3L301.8,326.9L300.6,325.9M298.8,350.3L283.3,360.3M286.5,354.9L283.3,360.3L289.5,359.6M298.8,374.3L298.1,390.2M295.7,384.8L298.1,390.2L301.0,385.0M298.8,397.8L304.0,407.6M300.5,405.2L304.0,407.6L303.9,403.4M298.8,421.8L295.3,425.1M296.0,423.1L295.3,425.1L297.4,424.5M298.1,445.3L314.9,455.1M308.7,454.7L314.9,455.1L311.5,449.8M298.1,469.3L307.3,476.3M302.9,475.4L307.3,476.3L305.3,472.3M298.1,493.3L305.1,500.9M301.3,499.5L305.1,500.9L304.0,497.0M298.6,517.3L319.3,498.7M317.0,504.6L319.3,498.7L313.2,500.4M301.8,536.9L326.9,511.8M324.9,517.8L326.9,511.8L321.0,513.8M318.9,183.6L299.3,170.5M305.5,171.3L299.3,170.5L302.4,176.0M318.9,206.6L311.7,206.6M314.4,205.2L311.7,206.6L314.4,207.9M318.9,230.3L319.6,239.3M317.7,236.2L319.6,239.3L320.9,236.0M318.9,254.3L315.6,266.6M314.7,261.9L315.6,266.6L318.8,263.0M318.9,278.3L341.8,264.4M338.5,269.7L341.8,264.4L335.6,264.9M318.9,302.3L335.7,288.8M333.1,294.5L335.7,288.8L329.6,290.1M318.6,322.5L318.6,327.6M317.6,325.6L318.6,327.6L319.6,325.6M318.6,350.3L307.3,366.2M308.3,360.0L307.3,366.2L312.8,363.3M318.6,374.3L324.7,386.9M320.6,383.7L324.7,386.9L324.8,381.6M318.6,397.8L318.2,406.6M316.8,403.4L318.2,406.6L319.9,403.5M318.6,421.8L313.8,433.8M313.4,429.0L313.8,433.8L317.5,430.6M317.1,445.3L321.5,446.4M319.5,446.8L321.5,446.4L319.9,445.0M318.2,469.3L334.6,469.3M329.2,472.0L334.6,469.3L329.2,466.6M318.2,493.3L322.6,506.4M318.9,502.7L322.6,506.4L323.3,501.2M318.6,518.3L334.1,490.5M333.8,496.8L334.1,490.5L329.0,494.0M318.2,541.3L329.1,499.8M330.4,506.0L329.1,499.8L325.0,504.5M338.6,183.2L333.1,179.3M335.9,179.7L333.1,179.3L334.4,181.8M338.6,206.6L323.3,198.5M329.5,198.6L323.3,198.5L326.9,203.6M338.4,230.3L327.1,220.4M332.5,221.8L327.1,220.4L329.3,225.6M337.9,253.5L328.7,225.1M333.1,229.6L328.7,225.1L327.8,231.3M338.6,279.6L320.0,285.8M324.5,281.3L320.0,285.8L326.2,286.7M338.6,302.3L353.8,286.6M351.9,292.6L353.8,286.6L347.9,288.7M338.5,326.3L335.7,330.2M336.0,328.0L335.7,330.2L337.6,329.2M338.5,350.3L335.7,365.1M334.1,359.7L335.7,365.1L339.1,360.6M340.0,376.6L345.5,377.6M343.1,378.3L345.5,377.6L343.5,376.2M338.4,398.3L339.5,405.6M337.7,403.1L339.5,405.6L340.4,402.7M338.4,422.3L333.0,423.0M335.0,421.7L333.0,423.0L335.3,423.8M340.0,446.4L345.5,452.9M342.3,451.5L345.5,452.9L344.7,449.6M340.0,470.4L354.2,464.9M350.4,469.1L354.2,464.9L348.6,464.4M338.4,494.3L346.6,504.0M342.2,502.1L346.6,504.0L345.5,499.3M340.0,518.4L348.7,500.9M348.7,507.2L348.7,500.9L343.7,504.7M340.0,536.9L342.2,516.2M344.4,522.1L342.2,516.2L338.8,521.5M358.2,206.6L333.5,189.1M339.7,190.0L333.5,189.1L336.5,194.6M358.4,230.3L336.4,217.5M342.6,217.9L336.4,217.5L339.8,222.7M358.4,254.3L368.0,227.3M368.8,233.5L368.0,227.3L363.5,231.6M358.3,278.3L337.7,283.9M342.4,279.8L337.7,283.9L343.8,285.2M358.4,302.3L362.6,289.5M363.3,294.5L362.6,289.5L359.0,293.1M358.5,326.4L358.5,331.8M357.5,329.7L358.5,331.8L359.6,329.7M358.5,350.4L359.6,365.6M356.7,360.7L359.6,365.6L361.8,360.4M358.5,374.4L361.8,372.2M360.9,373.8L361.8,372.2L360.0,372.4M358.3,398.3L356.3,391.5M358.3,393.6L356.3,391.5L355.8,394.3M358.5,422.4L346.5,407.1M352.2,409.8L346.5,407.1L347.8,413.2M358.5,446.4L350.9,450.7M352.9,447.8L350.9,450.7L354.4,450.5M358.5,469.3L372.7,471.5M367.6,473.1L372.7,471.5L368.3,468.4M358.5,494.4L364.0,508.6M359.8,504.7L364.0,508.6L364.5,502.9M358.5,518.4L367.3,493.3M368.1,499.5L367.3,493.3L362.8,497.6M358.5,541.3L361.8,515.1M363.9,521.0L361.8,515.1L358.3,520.3M378.3,230.3L355.4,219.6M361.6,219.5L355.4,219.6L359.2,224.5M378.3,254.3L378.3,231.6M381.1,237.2L378.3,231.6L375.5,237.2M378.3,278.3L360.4,282.9M365.1,278.8L360.4,282.9L366.5,284.2M378.3,302.3L379.4,293.8M380.5,297.1L379.4,293.8L377.4,296.7M378.4,326.4L379.3,334.0M377.6,331.4L379.3,334.0L380.4,331.1M378.4,350.4L377.1,352.6M377.2,351.1L377.1,352.6L378.3,351.8M378.2,374.3L372.8,373.6M375.1,372.8L372.8,373.6L374.8,374.9M378.2,398.3L375.0,406.0M374.8,402.7L375.0,406.0L377.5,403.8M378.4,422.4L382.5,428.9M379.8,427.3L382.5,428.9L382.2,425.8M378.4,446.4L372.7,450.7M374.0,448.1L372.7,450.7L375.6,450.2M378.4,469.3L390.2,476.9M384.9,476.3L390.2,476.9L387.5,472.4M378.4,494.4L381.5,495.5M379.8,495.7L381.5,495.5L380.3,494.3M378.2,518.3L384.2,490.6M385.8,496.7L384.2,490.6L380.3,495.5M378.4,541.3L381.5,493.3M383.9,499.0L381.5,493.3L378.3,498.7M398.1,254.3L404.0,234.9M405.1,241.1L404.0,234.9L399.7,239.5M398.1,278.3L388.7,279.2M391.9,277.2L388.7,279.2L392.2,280.6M398.1,302.3L388.7,293.8M393.4,295.1L388.7,293.8L390.5,298.3M398.3,326.4L383.6,334.0M387.2,329.1L383.6,334.0L389.7,333.9M398.3,350.4L403.3,346.0M402.2,348.6L403.3,346.0L400.6,346.7M398.3,374.4L382.5,373.3M387.9,371.0L382.5,373.3L387.6,376.2M398.3,397.3L388.0,408.2M389.6,402.8L388.0,408.2L393.2,406.3M398.3,422.4L392.4,424.6M394.2,422.6L392.4,424.6L395.0,424.8M398.3,445.3L395.6,458.4M394.3,453.5L395.6,458.4L398.7,454.4M398.3,469.3L394.5,483.5M393.4,478.1L394.5,483.5L398.2,479.3M398.3,494.4L405.5,495.5M402.6,496.4L405.5,495.5L403.0,493.7M398.1,518.3L394.8,499.0M398.5,504.1L394.8,499.0L392.9,505.0M398.3,541.3L404.4,511.8M406.0,517.9L404.4,511.8L400.5,516.7M418.0,254.3L405.1,250.2M410.1,249.4L405.1,250.2L408.7,253.8M418.0,278.3L421.5,277.5M420.1,278.6L421.5,277.5L419.7,277.1M418.0,302.3L410.6,304.7M412.8,302.5L410.6,304.7L413.7,305.2M418.1,326.4L395.6,334.0M400.0,329.6L395.6,334.0L401.8,334.9M418.1,350.4L432.7,343.8M429.0,348.4L432.7,343.8L426.8,343.6M418.1,374.4L415.3,377.6M415.8,375.7L415.3,377.6L417.1,376.9M418.1,397.3L403.3,412.6M405.2,406.6L403.3,412.6L409.2,410.5M417.9,422.3L411.1,435.1M411.2,429.7L411.1,435.1L415.5,432.0M418.1,445.3L419.0,466.0M416.0,460.5L419.0,466.0L421.5,460.3M418.1,469.3L407.6,486.7M408.1,480.5L407.6,486.7L412.9,483.4M417.9,494.3L417.6,479.3M420.2,484.2L417.6,479.3L415.2,484.4M418.1,517.3L401.1,496.6M406.8,499.1L401.1,496.6L402.5,502.7M418.1,541.3L419.6,531.5M420.8,535.2L419.6,531.5L417.4,534.6M437.8,254.3L429.1,253.5M432.4,252.2L429.1,253.5L432.1,255.3M438.0,278.4L451.3,268.5M448.5,274.0L451.3,268.5L445.3,269.6M438.0,302.4L439.3,304.5M438.1,303.8L439.3,304.5L439.2,303.1M438.0,326.4L415.3,338.4M418.9,333.3L415.3,338.4L421.5,338.2M438.0,350.4L453.5,351.5M448.1,353.7L453.5,351.5L448.5,348.5M438.0,374.4L457.8,383.1M451.6,383.4L457.8,383.1L453.8,378.3M438.0,397.3L436.0,414.7M433.9,408.9L436.0,414.7L439.4,409.5M437.8,422.3L429.8,439.2M429.7,432.9L429.8,439.2L434.7,435.3M438.0,445.3L421.8,455.1M425.2,449.8L421.8,455.1L428.1,454.6M437.8,470.3L430.4,469.7M433.3,468.6L430.4,469.7L433.0,471.3M438.0,493.3L442.6,470.4M444.2,476.4L442.6,470.4L438.7,475.3M438.0,517.3L441.5,492.2M443.5,498.1L441.5,492.2L437.9,497.3M438.0,541.3L440.4,529.3M441.6,533.8L440.4,529.3L437.5,533.0M458.0,302.4L468.7,302.4M465.0,304.2L468.7,302.4L465.0,300.5M458.0,326.4L443.6,334.0M447.1,329.1L443.6,334.0L449.7,333.9M458.0,350.4L477.5,356.9M471.3,357.8L477.5,356.9L473.1,352.5M458.0,374.4L479.6,382.0M473.4,382.8L479.6,382.0L475.3,377.5M458.0,397.3L469.8,416.9M464.5,413.6L469.8,416.9L469.3,410.7M457.7,422.3L457.1,437.4M454.8,432.3L457.1,437.4L459.8,432.5M458.0,445.3L448.0,457.3M449.3,451.6L448.0,457.3L453.3,455.0M458.0,469.3L446.9,467.1M451.1,465.9L446.9,467.1L450.4,469.8M458.0,494.4L472.0,494.4M467.3,496.7L472.0,494.4L467.3,492.0M458.0,517.3L490.6,499.8M486.9,504.9L490.6,499.8L484.3,500.0M458.0,543.5L465.5,532.6M464.8,537.5L465.5,532.6L461.1,535.0M477.9,278.4L477.5,282.7M476.7,280.8L477.5,282.7L478.5,281.0M477.9,302.4L476.4,301.3M477.5,301.5L476.4,301.3L476.9,302.3M477.9,326.4L462.2,327.5M467.2,324.5L462.2,327.5L467.6,329.7M477.9,350.4L499.3,359.1M493.0,359.6L499.3,359.1L495.2,354.4M477.9,374.4L491.6,361.3M489.5,367.2L491.6,361.3L485.7,363.1M477.9,397.3L490.6,409.3M484.6,407.5L490.6,409.3L488.4,403.4M477.6,422.3L478.1,444.1M475.2,438.6L478.1,444.1L480.8,438.4M477.9,447.5L463.3,462.7M465.1,456.7L463.3,462.7L469.2,460.6M477.6,470.3L469.4,485.6M469.6,479.4L469.4,485.6L474.5,482.0M477.9,493.3L484.0,514.0M479.7,509.4L484.0,514.0L485.1,507.8M477.9,517.3L508.0,498.7M504.7,504.1L508.0,498.7L501.8,499.3M477.9,539.1L493.8,522.7M491.9,528.7L493.8,522.7L487.9,524.8M478.6,610.2L484.0,611.3M481.7,611.9L484.0,611.3L482.1,609.8M497.8,278.4L499.3,286.0M497.3,283.5L499.3,286.0L500.1,282.9M497.8,302.4L496.7,305.6M496.4,303.9L496.7,305.6L497.9,304.4M497.8,326.4L500.4,327.5M498.9,327.6L500.4,327.5L499.4,326.3M497.8,347.1L509.1,355.8M503.8,354.8L509.1,355.8L506.8,351.0M497.8,374.4L521.1,384.2M514.9,384.6L521.1,384.2L517.0,379.4M497.8,397.3L532.0,411.5M525.8,411.9L532.0,411.5L527.9,406.7M497.8,430.0L492.7,473.6M490.6,467.8L492.7,473.6L496.2,468.4M497.4,446.3L489.6,475.3M488.3,469.1L489.6,475.3L493.8,470.6M497.8,469.3L500.4,498.7M497.1,493.4L500.4,498.7L502.7,492.9M497.4,494.3L496.1,486.4M498.0,489.0L496.1,486.4L495.1,489.5M497.8,518.4L500.4,482.4M502.8,488.2L500.4,482.4L497.2,487.7M497.8,541.3L523.3,510.7M521.8,516.8L523.3,510.7L517.5,513.2M497.8,564.2L518.9,564.2M513.3,567.0L518.9,564.2L513.3,561.4M497.3,588.4L506.9,586.2M503.9,588.6L506.9,586.2L503.2,585.3M498.2,612.4L508.0,605.8M505.8,609.7L508.0,605.8L503.5,606.4M517.6,278.4L524.4,284.9M520.8,283.8L524.4,284.9L523.1,281.4M517.6,302.4L516.7,304.5M516.6,303.2L516.7,304.5L517.7,303.7M517.6,326.4L520.0,334.0M517.8,331.7L520.0,334.0L520.5,330.8M517.6,350.4L514.6,356.9M514.5,353.9L514.6,356.9L516.9,355.1M517.6,374.4L520.0,384.2M517.5,381.2L520.0,384.2L520.9,380.3M517.6,397.3L533.1,418.0M527.5,415.2L533.1,418.0L532.0,411.9M517.6,430.0L518.9,447.5M515.7,442.1L518.9,447.5L521.3,441.7M517.3,446.3L510.4,460.1M510.4,454.3L510.4,460.1L515.0,456.6M517.6,469.3L505.8,475.8M508.7,471.6L505.8,475.8L510.9,475.6M517.6,493.3L505.8,476.9M511.4,479.8L505.8,476.9L506.8,483.1M517.3,518.3L517.8,485.1M520.6,490.7L517.8,485.1L515.0,490.6M517.6,551.1L521.1,511.8M523.4,517.7L521.1,511.8L517.8,517.2M517.2,564.4L498.2,563.3M503.9,560.8L498.2,563.3L503.6,566.4M517.6,591.5L522.2,566.4M523.9,572.4L522.2,566.4L518.4,571.4M517.2,612.4L515.6,603.6M517.7,606.5L515.6,603.6L514.6,607.0M518.9,636.4L509.1,626.6M514.0,628.2L509.1,626.6L510.7,631.5M537.5,302.4L547.3,307.8M543.0,307.6L547.3,307.8L544.8,304.3M537.5,326.4L547.3,340.6M541.8,337.5L547.3,340.6L546.4,334.4M537.2,350.3L540.4,359.8M537.6,357.0L540.4,359.8L540.9,355.9M537.5,374.4L528.7,386.4M529.7,380.9L528.7,386.4L533.7,383.8M537.5,398.4L523.3,402.7M527.3,398.9L523.3,402.7L528.7,403.6M537.2,422.3L529.2,433.1M530.1,428.1L529.2,433.1L533.7,430.8M537.7,445.3L524.4,454.0M527.3,448.9L524.4,454.0L530.2,453.3M537.7,469.3L517.8,491.1M519.5,485.1L517.8,491.1L523.7,488.8M537.7,493.3L525.5,508.6M526.8,502.4L525.5,508.6L531.2,505.9M537.7,517.3L544.0,485.6M545.7,491.7L544.0,485.6L540.2,490.6M537.7,542.4L523.3,531.5M529.4,532.6L523.3,531.5L526.1,537.1M537.7,565.3L524.4,544.6M529.8,547.8L524.4,544.6L525.0,550.8M537.7,590.4L532.0,578.4M536.0,581.5L532.0,578.4L531.9,583.4M537.5,612.4L529.8,593.8M534.5,597.9L529.8,593.8L529.4,600.1M537.5,636.4L524.4,625.5M530.5,626.9L524.4,625.5L526.9,631.2M537.5,660.4L523.3,659.3M528.2,657.3L523.3,659.3L527.9,662.0M557.3,302.4L568.0,316.6M562.4,313.8L568.0,316.6L566.9,310.4M557.3,326.4L577.8,340.6M571.6,339.7L577.8,340.6L574.8,335.1M557.3,350.4L561.5,356.9M558.8,355.3L561.5,356.9L561.2,353.8M557.3,374.4L549.5,380.9M551.1,377.3L549.5,380.9L553.4,380.0M557.0,398.3L543.7,402.4M547.5,398.8L543.7,402.4L548.9,403.3M557.3,422.4L547.3,425.6M550.2,422.8L547.3,425.6L551.3,426.3M557.5,445.3L541.8,446.4M546.9,443.4L541.8,446.4L547.2,448.6M557.5,469.3L549.5,481.3M550.2,475.9L549.5,481.3L554.2,478.6M557.0,494.3L547.8,511.7M547.9,505.4L547.8,511.7L552.9,508.0M557.0,518.3L554.5,496.6M558.0,501.9L554.5,496.6L552.4,502.5M557.5,541.3L542.9,540.2M548.0,538.1L542.9,540.2L547.6,543.0M557.0,566.3L538.6,551.0M544.7,552.4L538.6,551.0L541.1,556.7M557.0,590.3L533.4,580.8M539.6,580.3L533.4,580.8L537.6,585.5M557.1,612.4L530.9,596.0M537.2,596.6L530.9,596.0L534.2,601.3M556.0,636.4L538.6,628.7M544.8,628.4L538.6,628.7L542.6,633.5M580.0,301.3L582.2,308.9M580.0,306.5L582.2,308.9L582.8,305.7M580.0,329.6L594.2,339.5M588.0,338.6L594.2,339.5L591.2,334.0M580.0,354.7L586.5,361.3M583.1,360.1L586.5,361.3L585.4,357.8M576.9,374.3L568.6,377.5M571.0,374.9L568.6,377.5L572.2,377.8M576.9,398.3L564.5,397.3M568.9,395.5L564.5,397.3L568.5,399.8M577.8,420.2L568.0,414.7M572.3,414.9L568.0,414.7L570.5,418.3M576.9,446.3L560.9,451.5M565.4,447.1L560.9,451.5L567.1,452.4M577.4,469.3L569.1,484.5M569.3,478.3L569.1,484.5L574.2,481.0M577.4,495.5L554.9,516.2M557.1,510.3L554.9,516.2L560.9,514.4M576.9,518.3L564.7,514.3M569.5,513.6L564.7,514.3L568.2,517.7M577.4,536.9L575.7,516.2M578.9,521.5L575.7,516.2L573.3,522.0M577.4,560.9L558.2,548.9M564.4,549.5L558.2,548.9L561.5,554.3M576.7,588.4L546.2,580.7M552.3,579.4L546.2,580.7L550.9,584.8M576.7,612.4L557.1,615.6M562.2,612.0L557.1,615.6L563.1,617.5M576.7,636.4L556.0,630.9M562.1,629.6L556.0,630.9L560.7,635.0M597.2,302.4L610.5,307.8M605.2,308.2L610.5,307.8L607.0,303.8M597.2,325.9L601.8,327.5M599.7,327.8L601.8,327.5L600.3,325.9M597.2,349.3L610.5,354.7M605.2,355.1L610.5,354.7L607.0,350.7M597.2,374.4L599.6,389.6M596.3,385.0L599.6,389.6L601.4,384.2M596.8,398.3L588.6,395.4M592.1,395.0L588.6,395.4L591.0,397.9M596.8,422.3L588.6,421.0M591.8,420.0L588.6,421.0L591.3,422.9M597.5,445.3L580.0,445.3M585.6,442.5L580.0,445.3L585.6,448.1M597.5,469.3L586.5,506.4M585.4,500.2L586.5,506.4L590.8,501.8M597.5,493.3L590.9,523.8M589.3,517.8L590.9,523.8L594.8,518.9M596.8,518.3L597.6,531.0M595.2,526.8L597.6,531.0L599.5,526.5M597.5,541.3L606.2,559.8M601.3,556.0L606.2,559.8L606.3,553.6M596.4,564.4L572.4,568.7M577.4,565.0L572.4,568.7L578.4,570.5M596.8,588.4L581.1,584.0M587.0,582.8L581.1,584.0L585.6,588.0M596.8,612.4L585.5,611.3M589.6,609.7L585.5,611.3L589.2,613.6M617.1,302.4L636.7,307.8M630.6,309.0L636.7,307.8L632.1,303.6M617.1,325.3L620.4,323.1M619.4,324.7L620.4,323.1L618.5,323.3M617.1,349.3L616.0,353.6M615.6,351.6L616.0,353.6L617.3,352.1M616.7,374.3L616.1,372.0M617.0,373.0L616.1,372.0L615.8,373.3M617.1,389.6L614.9,374.4M618.2,379.1L614.9,374.4L613.1,379.8M617.1,420.2L612.7,415.8M615.2,416.7L612.7,415.8L613.6,418.3M617.1,445.3L606.2,446.4M609.8,444.1L606.2,446.4L610.1,447.9M617.1,469.3L588.7,499.8M590.5,493.8L588.7,499.8L594.6,497.6M617.1,493.3L611.6,497.6M612.9,495.0L611.6,497.6L614.5,497.0M616.7,518.3L601.7,517.3M606.9,515.1L601.7,517.3L606.5,520.1M617.1,541.3L601.8,539.1M607.3,537.3L601.8,539.1L606.5,542.4M617.1,565.3L596.4,575.1M600.2,570.2L596.4,575.1L602.6,575.2M617.1,588.4L596.4,587.3M602.1,584.8L596.4,587.3L601.8,590.4M617.1,612.4L604.0,608.0M609.1,607.3L604.0,608.0L607.7,611.7M630.2,283.2L640.0,288.2M635.7,288.1L640.0,288.2L637.5,284.8M637.2,301.3L641.1,298.4M640.1,300.4L641.1,298.4L638.9,298.8M637.2,326.4L643.3,332.9M639.9,331.7L643.3,332.9L642.3,329.5M637.2,350.4L645.5,359.1M641.1,357.5L645.5,359.1L644.1,354.7M636.5,374.3L642.1,364.3M641.9,368.7L642.1,364.3L638.5,366.8M637.2,398.4L645.5,377.6M646.0,383.9L645.5,377.6L640.8,381.8M637.2,420.2L625.8,403.8M631.3,406.8L625.8,403.8L626.7,410.0M636.7,445.3L623.6,447.5M627.7,444.5L623.6,447.5L628.4,448.9M636.7,469.3L605.1,495.5M607.6,489.7L605.1,495.5L611.2,494.0M636.5,494.3L616.8,494.1M622.4,491.4L616.8,494.1L622.4,497.0M636.5,518.3L616.6,514.4M622.6,512.7L616.6,514.4L621.6,518.2M636.7,541.3L614.9,544.6M620.0,541.0L614.9,544.6L620.9,546.5M636.7,565.3L621.5,569.6M625.8,565.7L621.5,569.6L627.2,570.7M636.7,591.5L623.6,594.7M627.5,591.4L623.6,594.7L628.6,595.8M636.7,612.4L623.6,606.9M628.9,606.5L623.6,606.9L627.1,610.9M636.7,636.4L630.2,660.4M629.0,654.2L630.2,660.4L634.4,655.7M660.7,281.6L665.1,287.1M662.5,285.9L665.1,287.1L664.5,284.3M657.0,301.9L666.2,301.3M663.1,303.1L666.2,301.3L662.8,299.9M657.0,325.9L670.6,338.4M664.5,336.6L670.6,338.4L668.3,332.5M662.9,352.6L655.3,372.2M654.7,366.0L655.3,372.2L659.9,368.0M656.4,374.3L656.0,370.4M657.0,372.0L656.0,370.4L655.4,372.2M657.0,402.7L660.7,352.6M663.1,358.3L660.7,352.6L657.5,357.9M657.0,420.2L650.9,416.9M653.8,417.0L650.9,416.9L652.6,419.3M656.4,444.2L645.5,446.4M648.8,443.7L645.5,446.4L649.6,447.5M656.4,470.3L627.7,486.7M631.2,481.5L627.7,486.7L633.9,486.4M656.4,493.3L629.1,502.0M633.6,497.6L629.1,502.0L635.3,503.0M656.4,517.3L643.3,510.7M648.7,510.7L643.3,510.7L646.6,515.1M656.4,541.3L633.5,548.9M637.9,544.5L633.5,548.9L639.7,549.8M656.4,565.3L638.9,582.7M640.9,576.8L638.9,582.7L644.9,580.8M656.4,589.3L647.6,593.6M649.9,590.6L647.6,593.6L651.5,593.6M656.4,612.4L664.0,623.3M659.6,620.9L664.0,623.3L663.3,618.3M656.4,635.3L657.5,662.6M654.4,657.1L657.5,662.6L660.0,656.8M656.4,710.3L639.1,715.0M643.8,710.8L639.1,715.0L645.3,716.2M676.9,277.3L684.7,284.9M680.7,283.6L684.7,284.9L683.3,280.9M676.9,301.9L688.0,298.0M684.9,301.3L688.0,298.0L683.5,297.4M676.9,325.3L673.8,326.4M675.0,325.2L673.8,326.4L675.5,326.6M676.3,350.3L673.3,363.2M672.1,358.3L673.3,363.2L676.5,359.3M676.3,374.3L678.2,363.0M679.5,367.2L678.2,363.0L675.6,366.5M676.0,400.6L677.1,361.3M679.7,367.0L677.1,361.3L674.1,366.8M676.9,415.8L676.0,402.7M678.5,407.0L676.0,402.7L674.1,407.3M676.0,445.3L672.7,459.5M671.5,454.2L672.7,459.5L676.2,455.3M676.0,469.3L657.5,476.9M661.6,472.2L657.5,476.9L663.7,477.4M676.3,494.3L650.3,507.6M654.0,502.6L650.3,507.6L656.5,507.5M676.0,517.3L654.2,536.9M656.5,531.1L654.2,536.9L660.2,535.3M676.0,541.3L664.0,554.4M665.7,548.4L664.0,554.4L669.9,552.1M676.0,565.3L659.6,578.4M662.3,572.7L659.6,578.4L665.8,577.1M676.0,589.3L667.3,595.8M669.2,592.1L667.3,595.8L671.4,595.1M676.0,612.4L668.4,630.9M667.9,624.7L668.4,630.9L673.1,626.8M676.0,635.3L669.5,658.2M668.3,652.0L669.5,658.2L673.7,653.6M676.3,662.3L670.3,686.9M668.9,680.7L670.3,686.9L674.3,682.1M673.8,710.6L657.5,712.7M662.5,709.3L657.5,712.7L663.2,714.7M696.7,278.4L707.6,283.8M703.0,283.8L707.6,283.8L704.9,280.1M696.7,301.9L705.5,300.6M702.6,302.6L705.5,300.6L702.1,299.5M696.7,325.3L700.0,326.4M698.3,326.6L700.0,326.4L698.8,325.2M696.7,350.4L705.5,350.4M702.3,351.9L705.5,350.4L702.3,348.8M696.2,374.3L707.3,368.9M704.4,372.6L707.3,368.9L702.6,368.8M696.7,396.2L712.0,383.1M709.6,388.9L712.0,383.1L705.9,384.6M696.2,422.3L702.1,421.5M699.9,423.0L702.1,421.5L699.7,420.7M696.7,445.3L696.7,462.7M693.9,457.1L696.7,462.7L699.5,457.1M696.7,469.3L674.9,499.8M675.9,493.6L674.9,499.8L680.4,496.9M696.2,494.3L675.8,516.0M677.6,510.0L675.8,516.0L681.7,513.8M696.7,517.3L683.6,545.6M683.4,539.4L683.6,545.6L688.5,541.7M696.7,541.3L688.0,559.8M687.9,553.6L688.0,559.8L692.9,556.0M696.7,565.3L684.7,582.7M685.6,576.5L684.7,582.7L690.2,579.7M696.7,589.3L684.7,591.5M688.5,588.7L684.7,591.5L689.2,592.8M696.7,612.4L681.5,638.6M681.9,632.3L681.5,638.6L686.7,635.1M696.7,636.4L686.9,651.6M687.6,645.4L686.9,651.6L692.3,648.4M716.0,254.9L726.9,255.4M723.1,257.1L726.9,255.4L723.2,253.3M716.0,278.9L722.6,277.8M720.3,279.5L722.6,277.8L719.9,277.0M716.8,301.9L726.2,302.4M722.8,303.9L726.2,302.4L723.0,300.6M716.8,325.3L725.1,327.5M721.7,328.2L725.1,327.5L722.5,325.2M716.8,346.0L717.5,351.5M716.1,349.5L717.5,351.5L718.3,349.2M716.8,373.3L722.9,372.2M720.8,373.8L722.9,372.2L720.4,371.4M716.8,394.0L728.4,395.1M724.2,396.7L728.4,395.1L724.6,392.7M716.0,422.3L716.0,433.7M714.1,429.8L716.0,433.7L718.0,429.8M715.3,445.3L714.2,478.0M711.6,472.3L714.2,478.0L717.2,472.5M716.0,470.3L692.7,499.0M694.1,492.9L692.7,499.0L698.4,496.5M715.3,493.3L695.6,499.8M700.1,495.4L695.6,499.8L701.8,500.7M715.3,517.3L705.5,533.6M705.9,527.4L705.5,533.6L710.7,530.3M715.3,541.3L700.0,556.6M702.0,550.6L700.0,556.6L705.9,554.6M715.3,565.3L702.2,576.2M704.7,570.5L702.2,576.2L708.3,574.8M715.3,588.2L725.1,604.6M719.8,601.2L725.1,604.6L724.6,598.3M715.3,612.4L715.3,640.7M712.5,635.1L715.3,640.7L718.1,635.1M715.3,636.4L708.7,658.2M707.7,652.0L708.7,658.2L713.0,653.6M737.8,230.9L754.2,234.2M748.3,235.8L754.2,234.2L749.3,230.4M735.6,254.5L748.7,254.5M744.3,256.7L748.7,254.5L744.3,252.3M735.6,277.8L744.4,277.2M741.4,279.0L744.4,277.2L741.1,275.9M736.7,301.9L741.5,302.4M739.4,303.2L741.5,302.4L739.6,301.2M736.7,325.3L742.6,325.3M740.3,326.4L742.6,325.3L740.3,324.1M735.9,350.3L734.4,344.0M736.2,346.1L734.4,344.0L733.8,346.6M736.7,374.4L730.6,359.1M735.1,363.1L730.6,359.1L730.1,365.2M736.7,400.6L724.0,395.1M729.2,394.8L724.0,395.1L727.3,399.1M736.7,422.4L730.6,424.6M732.4,422.6L730.6,424.6L733.3,424.9M736.0,445.3L725.1,476.9M724.3,470.7L725.1,476.9L729.6,472.5M736.0,469.3L715.3,504.2M715.7,497.9L715.3,504.2L720.5,500.8M736.0,493.3L710.9,517.3M713.0,511.4L710.9,517.3L716.9,515.4M736.0,517.3L719.6,532.6M721.8,526.7L719.6,532.6L725.7,530.8M735.9,542.3L724.3,562.1M724.7,555.9L724.3,562.1L729.5,558.7M736.0,564.4L728.4,584.0M727.8,577.8L728.4,584.0L733.0,579.8M736.0,588.4L732.7,608.0M730.9,602.0L732.7,608.0L736.4,602.9M736.0,612.4L725.1,633.1M725.2,626.8L725.1,633.1L730.2,629.4M735.9,638.3L719.1,651.5M721.8,645.8L719.1,651.5L725.3,650.2M755.3,230.5L770.6,234.2M764.9,235.5L770.6,234.2L766.1,230.4M755.3,254.5L772.7,251.6M767.7,255.3L772.7,251.6L766.8,249.8M755.3,277.8L770.6,276.3M765.7,279.4L770.6,276.3L765.2,274.3M756.5,302.4L767.7,306.7M763.1,307.1L767.7,306.7L764.6,303.3M755.8,326.3L761.9,323.7M760.1,325.8L761.9,323.7L759.1,323.5M756.5,348.2L756.5,337.3M758.4,341.1L756.5,337.3L754.6,341.1M755.8,374.3L752.5,366.2M755.1,368.5L752.5,366.2L752.2,369.7M756.5,400.6L748.0,400.6M751.1,399.0L748.0,400.6L751.1,402.1M756.5,422.4L751.3,425.6M752.7,423.4L751.3,425.6L753.9,425.4M755.6,445.3L744.7,473.6M744.1,467.4L744.7,473.6L749.4,469.4M755.6,469.3L737.1,491.1M738.6,485.0L737.1,491.1L742.9,488.6M755.6,493.3L732.7,515.1M734.9,509.2L732.7,515.1L738.7,513.3M755.6,517.3L732.7,536.9M735.2,531.1L732.7,536.9L738.8,535.4M755.8,542.3L742.2,557.2M743.9,551.2L742.2,557.2L748.0,554.9M755.6,564.4L748.0,581.8M747.7,575.6L748.0,581.8L752.8,577.8M755.6,588.2L748.0,593.6M749.7,590.4L748.0,593.6L751.7,593.1M755.6,612.4L750.2,625.5M749.8,620.2L750.2,625.5L754.2,622.0M754.6,636.4L730.6,635.3M736.3,632.7L730.6,635.3L736.0,638.3M774.9,158.9L789.1,174.2M783.2,172.0L789.1,174.2L787.3,168.2M781.5,208.0L783.6,214.6M781.6,212.5L783.6,214.6L784.1,211.7M774.9,230.5L789.1,234.8M783.6,235.8L789.1,234.8L785.1,231.0M776.4,254.4L798.2,256.5M792.3,258.8L798.2,256.5L792.9,253.2M776.4,277.9L793.8,279.0M788.1,281.5L793.8,279.0L788.4,275.9M776.4,301.3L782.9,299.1M780.9,301.1L782.9,299.1L780.1,298.7M775.7,326.3L782.2,322.9M780.4,325.3L782.2,322.9L779.2,322.9M775.7,350.3L773.3,347.2M775.0,348.0L773.3,347.2L773.6,349.0M776.4,372.2L775.3,376.6M774.8,374.5L775.3,376.6L776.6,375.0M776.4,398.4L768.7,401.6M770.9,399.1L768.7,401.6L772.1,401.8M775.7,422.3L763.9,431.4M766.3,426.4L763.9,431.4L769.4,430.3M775.3,445.3L754.6,464.9M756.7,459.0L754.6,464.9L760.5,463.1M775.7,470.3L756.2,493.7M757.6,487.6L756.2,493.7L761.9,491.2M775.3,493.3L762.2,514.0M762.8,507.8L762.2,514.0L767.6,510.8M775.3,517.3L756.7,532.6M759.3,526.8L756.7,532.6L762.8,531.2M775.3,539.1L756.7,545.6M761.1,541.1L756.7,545.6L763.0,546.4M775.3,566.5L769.8,573.1M770.6,569.8L769.8,573.1L773.0,571.7M775.3,588.4L767.6,594.9M769.2,591.3L767.6,594.9L771.5,594.0M775.3,612.4L769.8,618.9M770.6,615.6L769.8,618.9L773.0,617.5M794.6,158.9L807.7,170.9M801.6,169.2L807.7,170.9L805.4,165.1M795.6,206.9L806.6,214.6M801.6,213.8L806.6,214.6L804.2,210.1M794.6,230.5L809.8,234.8M804.0,235.9L809.8,234.8L805.5,230.9M796.5,254.4L806.9,254.4M803.3,256.2L806.9,254.4L803.3,252.5M796.5,277.9L813.5,278.4M807.8,281.0L813.5,278.4L807.9,275.4M795.5,302.3L809.6,301.0M805.1,303.8L809.6,301.0L804.7,299.1M795.5,326.3L802.3,323.2M800.4,325.5L802.3,323.2L799.2,323.1M796.5,374.4L786.2,378.7M789.0,375.5L786.2,378.7L790.5,379.0M796.5,398.4L786.2,401.6M789.2,398.7L786.2,401.6L790.3,402.3M795.5,422.3L778.2,443.0M779.7,436.9L778.2,443.0L784.0,440.5M796.0,440.9L768.7,462.7M771.4,457.0L768.7,462.7L774.9,461.4M795.5,470.3L774.8,486.3M777.5,480.7L774.8,486.3L780.9,485.1M796.0,493.3L777.5,505.3M780.6,499.9L777.5,505.3L783.7,504.6M796.0,517.3L782.9,526.0M785.8,520.9L782.9,526.0L788.7,525.3M795.5,542.3L780.0,557.1M782.1,551.2L780.0,557.1L786.0,555.2M794.9,563.3L788.4,565.5M790.4,563.4L788.4,565.5L791.2,565.9M795.3,588.4L780.0,596.0M783.8,591.0L780.0,596.0L786.3,596.0M815.3,134.9L822.9,149.1M818.0,145.7L822.9,149.1L822.7,143.1M815.3,158.9L826.2,166.6M821.2,165.8L826.2,166.6L823.8,162.1M815.3,182.9L830.6,191.6M824.3,191.3L830.6,191.6L827.1,186.4M815.3,206.9L832.7,217.8M826.5,217.2L832.7,217.8L829.5,212.5M815.3,230.5L832.7,236.4M826.5,237.2L832.7,236.4L828.3,231.9M815.3,254.9L824.0,258.2M820.3,258.6L824.0,258.2L821.5,255.5M820.0,278.2L824.4,278.8M822.4,279.5L824.4,278.8L822.7,277.7M815.4,302.3L820.0,300.1M818.6,301.9L820.0,300.1L817.7,300.1M816.3,400.6L811.3,411.5M811.1,406.9L811.3,411.5L814.9,408.6M815.7,440.9L793.8,458.4M796.5,452.7L793.8,458.4L800.0,457.1M815.7,469.3L798.2,482.4M801.0,476.8L798.2,482.4L804.4,481.2M815.7,493.3L800.4,506.4M802.8,500.6L800.4,506.4L806.5,504.9M815.4,518.3L800.5,532.3M802.7,526.4L800.5,532.3L806.5,530.5M815.6,542.5L805.5,557.8M806.2,551.6L805.5,557.8L810.9,554.7M815.7,565.3L801.5,575.1M804.5,569.6L801.5,575.1L807.7,574.2M835.3,86.4L836.4,95.1M834.4,92.2L836.4,95.1L837.5,91.8M835.3,110.4L839.6,125.6M835.7,121.3L839.6,125.6L840.7,119.9M835.3,134.4L846.2,147.5M840.4,145.0L846.2,147.5L844.7,141.4M835.3,158.4L847.3,166.0M842.0,165.5L847.3,166.0L844.5,161.4M835.3,182.4L853.8,195.5M847.6,194.5L853.8,195.5L850.9,189.9M835.3,206.4L850.5,214.0M844.3,214.0L850.5,214.0L846.8,209.0M834.9,230.9L846.9,230.9M842.8,233.0L846.9,230.9L842.8,228.9M835.3,255.3L844.0,255.3M840.9,256.8L844.0,255.3L840.9,253.7M835.3,279.3L840.7,278.8M838.7,280.1L840.7,278.8L838.5,277.9M835.3,303.3L838.5,298.9M838.1,301.3L838.5,298.9L836.4,300.0M834.2,374.2L837.5,381.8M834.9,379.7L837.5,381.8L837.7,378.5M827.1,443.3L810.5,454.7M813.6,449.2L810.5,454.7L816.7,453.8M834.7,468.7L818.2,484.0M820.4,478.1L818.2,484.0L824.2,482.3M841.1,501.8L802.9,527.3M806.0,521.8L802.9,527.3L809.1,526.5M843.6,514.5L820.7,542.5M822.1,536.4L820.7,542.5L826.4,540.0M835.3,542.3L820.5,557.9M822.3,551.9L820.5,557.9L826.4,555.8M835.3,614.3L819.2,627.8M821.7,622.1L819.2,627.8L825.3,626.4M835.3,638.3L815.5,650.8M818.7,645.4L815.5,650.8L821.7,650.2M854.9,86.4L856.0,94.0M854.2,91.4L856.0,94.0L857.0,91.0M854.9,110.4L853.8,124.5M851.8,119.6L853.8,124.5L856.6,120.0M854.9,134.4L861.5,144.2M857.5,141.9L861.5,144.2L860.9,139.7M854.9,158.4L865.8,167.1M860.7,166.0L865.8,167.1L863.6,162.3M854.9,182.4L865.8,188.9M861.0,188.5L865.8,188.9L863.2,184.8M854.9,208.6L869.1,207.5M864.5,210.2L869.1,207.5L864.2,205.5M854.9,231.5L866.9,231.5M862.8,233.5L866.9,231.5L862.8,229.4M854.9,254.8L864.7,254.2M861.4,256.1L864.7,254.2L861.2,252.7M854.9,278.2L862.5,276.0M860.2,278.2L862.5,276.0L859.4,275.4M854.9,301.1L859.3,297.2M858.4,299.5L859.3,297.2L856.8,297.8M852.7,327.3L859.3,327.3M856.8,328.5L859.3,327.3L856.8,326.0M847.3,612.4L834.2,624.4M836.4,618.5L834.2,624.4L840.2,622.6M873.5,86.4L880.0,97.3M875.9,94.7L880.0,97.3L879.6,92.5M873.5,110.4L873.5,123.5M871.2,119.0L873.5,123.5L875.7,119.0M873.5,134.4L874.5,143.1M872.6,140.2L874.5,143.1L875.7,139.8M873.5,158.4L875.6,164.9M873.6,162.9L875.6,164.9L876.0,162.1M873.5,182.4L883.3,184.6M879.5,185.5L883.3,184.6L880.2,182.1M873.5,207.5L887.6,200.9M884.0,205.4L887.6,200.9L881.8,200.7M873.5,231.5L885.5,230.4M881.5,232.8L885.5,230.4L881.2,228.7M874.5,254.2L886.6,250.9M883.0,254.1L886.6,250.9L881.9,250.0M874.5,278.2L881.1,277.1M878.8,278.7L881.1,277.1L878.4,276.3M874.5,302.2L881.1,302.2M878.6,303.4L881.1,302.2L878.6,301.0M894.2,86.4L901.8,99.5M897.1,96.4L901.8,99.5L901.5,93.8M894.2,110.4L897.5,123.5M894.2,119.6L897.5,123.5L898.6,118.5M894.2,134.4L894.2,142.0M892.8,139.2L894.2,142.0L895.6,139.2M894.2,158.4L896.4,163.8M894.5,162.1L896.4,163.8L896.6,161.3M894.2,182.4L897.5,180.2M896.5,181.8L897.5,180.2L895.6,180.4M894.2,206.4L900.7,209.6M897.7,209.6L900.7,209.6L898.9,207.2M894.2,231.5L907.3,230.4M903.0,233.0L907.3,230.4L902.7,228.5M894.2,254.8L909.5,252.0M904.9,255.5L909.5,252.0L903.9,250.4M894.2,278.2L907.3,274.9M903.4,278.2L907.3,274.9L902.3,273.8M894.2,303.3L905.1,304.4M901.1,305.9L905.1,304.4L901.5,302.1M913.8,110.4L920.4,123.5M916.0,120.2L920.4,123.5L920.4,118.0M913.8,134.4L916.0,143.1M913.7,140.4L916.0,143.1L916.8,139.6M913.8,158.4L918.2,166.0M915.3,164.1L918.2,166.0L918.0,162.5M913.8,182.4L922.6,185.6M918.9,186.0L922.6,185.6L920.0,182.9M913.8,207.5L925.8,207.5M921.7,209.5L925.8,207.5L921.7,205.4M913.8,230.4L924.7,232.6M920.6,233.7L924.7,232.6L921.3,229.9M913.8,255.3L928.0,254.2M923.4,256.9L928.0,254.2L923.1,252.2M913.8,278.8L930.2,274.5M925.5,278.6L930.2,274.5L924.1,273.2M913.8,304.4L923.6,296.7M921.6,301.0L923.6,296.7L919.0,297.7M933.5,158.4L936.7,166.0M934.2,163.8L936.7,166.0L936.9,162.7M933.5,182.4L942.2,187.8M938.2,187.4L942.2,187.8L940.1,184.4M933.5,207.5L947.6,208.6M942.7,210.6L947.6,208.6L943.1,205.8M933.5,231.5L943.3,231.5M939.8,233.2L943.3,231.5L939.8,229.7M933.5,255.3L943.3,257.5M939.5,258.4L943.3,257.5L940.2,255.0M933.5,278.8L953.1,279.3M947.4,282.0L953.1,279.3L947.6,276.4M953.1,158.4L961.8,167.1M957.4,165.6L961.8,167.1L960.3,162.6M953.1,182.4L962.9,190.0M958.3,189.1L962.9,190.0L960.9,185.7M953.1,207.5L968.4,212.9M962.4,213.6L968.4,212.9L964.2,208.6M953.1,231.5L965.1,232.6M960.8,234.2L965.1,232.6L961.2,230.1M954.5,254.3L969.4,256.0M964.2,257.9L969.4,256.0L964.7,253.0M953.1,279.3L972.7,280.4M967.0,282.9L972.7,280.4L967.3,277.3M973.8,182.4L986.9,195.5M981.0,193.5L986.9,195.5L984.9,189.5M973.8,207.5L989.1,208.6M983.8,210.7L989.1,208.6L984.2,205.7M973.8,230.4L988.0,238.0M982.1,237.8L988.0,238.0L984.6,233.1M974.4,254.3L991.2,259.0M985.0,260.2L991.2,259.0L986.5,254.8M994.6,184.6L1009.8,196.6M1003.7,195.3L1009.8,196.6L1007.2,190.9M994.6,207.5L1008.7,217.3M1002.5,216.4L1008.7,217.3L1005.7,211.8M994.3,230.3L1009.9,240.7M1003.7,239.9L1009.9,240.7L1006.8,235.3M1014.2,183.5L1036.0,198.7M1029.8,197.8L1036.0,198.7L1033.0,193.2M1014.2,207.5L1027.3,219.5M1021.3,217.7L1027.3,219.5L1025.1,213.6M246.2,509.0L257.1,497.6M255.4,503.2L257.1,497.6L251.6,499.6M248.4,430.0L260.4,437.6M255.1,437.1L260.4,437.6L257.6,433.1M577.2,386.4L564.7,386.4M569.0,384.3L564.7,386.4L569.0,388.5M557.5,578.4L542.9,560.9M548.7,563.4L542.9,560.9L544.4,567.0M685.8,265.3L705.5,258.7M701.0,263.2L705.5,258.7L699.3,257.8M667.3,696.4L655.3,699.6M658.8,696.5L655.3,699.6L659.9,700.6M817.5,119.6L820.7,124.0M818.6,122.9L820.7,124.0L820.3,121.7M847.5,484.0L828.4,505.6M830.0,499.6L828.4,505.6L834.2,503.3M815.6,454.7L795.3,473.8M797.4,467.9L795.3,473.8L801.3,472.0M830.9,484.0L792.7,513.3M795.5,507.6L792.7,513.3L798.9,512.1M845.1,600.4L830.9,613.5M833.1,607.6L830.9,613.5L836.9,611.7" fill="none" stroke="#000" stroke-width="1" shape-rendering="crispEdges"/>
<circle cx="324.6" cy="258" r="4.9" fill="none" stroke="#8a1ad6" stroke-width="1.7"/><circle cx="377" cy="511" r="4.9" fill="none" stroke="#8a1ad6" stroke-width="1.7"/><circle cx="539.6" cy="389.6" r="4.9" fill="none" stroke="#8a1ad6" stroke-width="1.7"/><circle cx="570.2" cy="400.1" r="4.9" fill="none" stroke="#8a1ad6" stroke-width="1.7"/><circle cx="609.5" cy="354.7" r="4.9" fill="none" stroke="#8a1ad6" stroke-width="1.7"/><circle cx="575.2" cy="498.1" r="4.9" fill="none" stroke="#8a1ad6" stroke-width="1.7"/><circle cx="612.7" cy="519" r="4.9" fill="none" stroke="#8a1ad6" stroke-width="1.7"/><circle cx="616" cy="574" r="4.9" fill="none" stroke="#8a1ad6" stroke-width="1.7"/><circle cx="554.6" cy="601.4" r="4.9" fill="none" stroke="#8a1ad6" stroke-width="1.7"/><circle cx="641" cy="642.5" r="4.9" fill="none" stroke="#8a1ad6" stroke-width="1.7"/><circle cx="650" cy="432" r="4.9" fill="none" stroke="#8a1ad6" stroke-width="1.7"/><circle cx="691.7" cy="311.7" r="4.9" fill="none" stroke="#8a1ad6" stroke-width="1.7"/><circle cx="705.5" cy="365.6" r="4.9" fill="none" stroke="#8a1ad6" stroke-width="1.7"/><circle cx="736" cy="362.4" r="4.9" fill="none" stroke="#8a1ad6" stroke-width="1.7"/><circle cx="765" cy="328" r="4.9" fill="none" stroke="#8a1ad6" stroke-width="1.7"/><circle cx="777" cy="342.7" r="4.9" fill="none" stroke="#8a1ad6" stroke-width="1.7"/><circle cx="774.2" cy="388.6" r="4.9" fill="none" stroke="#8a1ad6" stroke-width="1.7"/><circle cx="721.8" cy="422.8" r="4.9" fill="none" stroke="#8a1ad6" stroke-width="1.7"/><circle cx="712.4" cy="543.5" r="4.9" fill="none" stroke="#8a1ad6" stroke-width="1.7"/><circle cx="732.7" cy="500.9" r="4.9" fill="none" stroke="#8a1ad6" stroke-width="1.7"/><circle cx="756.7" cy="534.7" r="4.9" fill="none" stroke="#8a1ad6" stroke-width="1.7"/><circle cx="778.8" cy="476.3" r="4.9" fill="none" stroke="#8a1ad6" stroke-width="1.7"/><circle cx="801" cy="473" r="4.9" fill="none" stroke="#8a1ad6" stroke-width="1.7"/><circle cx="842.4" cy="487.8" r="4.9" fill="none" stroke="#8a1ad6" stroke-width="1.7"/><circle cx="820.5" cy="506" r="4.9" fill="none" stroke="#8a1ad6" stroke-width="1.7"/><circle cx="809.1" cy="582.8" r="4.9" fill="none" stroke="#8a1ad6" stroke-width="1.7"/><circle cx="716.4" cy="636.4" r="4.9" fill="none" stroke="#8a1ad6" stroke-width="1.7"/><circle cx="671.6" cy="693.5" r="4.9" fill="none" stroke="#8a1ad6" stroke-width="1.7"/><circle cx="921.7" cy="220.6" r="4.9" fill="none" stroke="#8a1ad6" stroke-width="1.7"/><circle cx="901.8" cy="255.7" r="4.9" fill="none" stroke="#8a1ad6" stroke-width="1.7"/><circle cx="872.4" cy="293.5" r="4.9" fill="none" stroke="#8a1ad6" stroke-width="1.7"/>
</g>
<path d="M100,731.5V69H1050.5" fill="none" stroke="#000" stroke-width="2" stroke-linejoin="miter" shape-rendering="crispEdges"/>
<path d="M99,731H1050.5V68" fill="none" stroke="#000" stroke-width="1" shape-rendering="crispEdges"/>
<path d="M94,694.9H99 M94,602.9H99 M94,511.0H99 M94,419.0H99 M94,327.1H99 M94,235.1H99 M94,143.2H99 M130.4,731V737.6 M207.1,731V737.6 M283.8,731V737.6 M360.4,731V737.6 M437.1,731V737.6 M513.8,731V737.6 M590.5,731V737.6 M667.1,731V737.6 M743.8,731V737.6 M820.5,731V737.6 M897.1,731V737.6 M973.8,731V737.6 M1050.5,731V737.6" stroke="#000" stroke-width="1" fill="none" shape-rendering="crispEdges"/>
<text x="53.60" y="702.1" font-size="20.5" fill="#000" style="letter-spacing:-0.22px">20N</text>
<text x="53.60" y="610.1" font-size="20.5" fill="#000" style="letter-spacing:-0.22px">25N</text>
<text x="53.52" y="518.2" font-size="20.5" fill="#000" style="letter-spacing:-0.18px">30N</text>
<text x="53.52" y="426.2" font-size="20.5" fill="#000" style="letter-spacing:-0.18px">35N</text>
<text x="54.10" y="334.3" font-size="20.5" fill="#000" style="letter-spacing:-0.47px">40N</text>
<text x="54.10" y="242.3" font-size="20.5" fill="#000" style="letter-spacing:-0.47px">45N</text>
<text x="53.31" y="150.4" font-size="20.5" fill="#000" style="letter-spacing:-0.07px">50N</text>
<text x="113.75" y="755.6" font-size="20.5" fill="#000" style="letter-spacing:0.38px">75E</text>
<text x="190.99" y="755.6" font-size="20.5" fill="#000" style="letter-spacing:0.09px">80E</text>
<text x="267.67" y="755.6" font-size="20.5" fill="#000" style="letter-spacing:0.09px">85E</text>
<text x="344.46" y="755.6" font-size="20.5" fill="#000" style="letter-spacing:0.03px">90E</text>
<text x="421.14" y="755.6" font-size="20.5" fill="#000" style="letter-spacing:0.03px">95E</text>
<text x="491.77" y="755.6" font-size="20.5" fill="#000" style="letter-spacing:0.25px">100E</text>
<text x="568.45" y="755.6" font-size="20.5" fill="#000" style="letter-spacing:0.25px">105E</text>
<text x="645.12" y="755.6" font-size="20.5" fill="#000" style="letter-spacing:0.25px">110E</text>
<text x="721.80" y="755.6" font-size="20.5" fill="#000" style="letter-spacing:0.25px">115E</text>
<text x="798.47" y="755.6" font-size="20.5" fill="#000" style="letter-spacing:0.25px">120E</text>
<text x="875.15" y="755.6" font-size="20.5" fill="#000" style="letter-spacing:0.25px">125E</text>
<text x="951.82" y="755.6" font-size="20.5" fill="#000" style="letter-spacing:0.25px">130E</text>
<text x="1028.50" y="755.6" font-size="20.5" fill="#000" style="letter-spacing:0.25px">135E</text>
<text x="170.99" y="43.2" font-size="23" fill="#000" style="letter-spacing:2.79px">2024</text>
<text class="cj" x="228" y="43.2" font-size="24" fill="#000">年</text>
<text x="253.98" y="43.2" font-size="23" fill="#000" style="letter-spacing:-1.10px">11</text>
<text class="cj" x="280.5" y="43.2" font-size="24" fill="#000">月</text>
<text x="306.12" y="43.2" font-size="23" fill="#000" style="letter-spacing:3.24px">04</text>
<text class="cj" x="333.5" y="43.2" font-size="22" fill="#000">日</text>
<text x="356.98" y="43.2" font-size="23" fill="#000" style="letter-spacing:2.63px">WRF/cmaq</text>
<text class="cj" x="482.5" y="43.2" font-size="24" fill="#000">模</text>
<text class="cj" x="505.5" y="43.2" font-size="24" fill="#000">式</text>
<text x="530.90" y="43.2" font-size="23" fill="#000" style="letter-spacing:4.02px">36km</text>
<text class="cj" x="596.5" y="43.2" font-size="23" fill="#000">预</text>
<text class="cj" x="619.5" y="43.2" font-size="23" fill="#000">报</text>
<text class="cj" x="644" y="43.2" font-size="24" fill="#000">产</text>
<text class="cj" x="668" y="43.2" font-size="23" fill="#000">品</text>
<circle cx="694.7" cy="30.2" r="1.4" fill="none" stroke="#000" stroke-width="0.9"/><circle cx="694.7" cy="43.4" r="1.4" fill="none" stroke="#000" stroke-width="0.9"/>
<text x="703.98" y="43.2" font-size="23" fill="#000" style="letter-spacing:-1.10px">11</text>
<text class="cj" x="730.5" y="43.2" font-size="24" fill="#000">月</text>
<text x="756.12" y="43.2" font-size="23" fill="#000" style="letter-spacing:3.24px">04</text>
<text class="cj" x="783.5" y="43.2" font-size="22" fill="#000">日</text>
<text x="808.98" y="43.2" font-size="23" fill="#000" style="letter-spacing:0.90px">18</text>
<text class="cj" x="834.5" y="43.2" font-size="23" fill="#000">时</text>
<text x="871.06" y="43.2" font-size="23" fill="#f02828" style="letter-spacing:-0.06px">CO</text>
<text class="cj" x="159.4 179.5 200 219.5" y="699" font-size="20" fill="#000">版权所有</text>
<text class="cj" x="251.5 271.5 292 311" y="699" font-size="20" fill="#000">南京大学</text>
<text class="cj" x="344.5 364.5 385 405 424 444 464 483 503.5 523" y="699" font-size="20" fill="#000">南京创蓝科技有限公司</text>
<circle cx="243.7" cy="690.3" r="1.2" fill="#000"/><circle cx="243.7" cy="699" r="1.2" fill="#000"/>
<path d="M334.4,678V707.6" stroke="#000" stroke-width="1.1"/>
<path d="M975,650.5H1025.8M1012,643L1025.8,650.5L1012,658.6" stroke="#000" stroke-width="1.1" fill="none"/>
<text x="961.65" y="678.0" font-size="21" fill="#000" style="letter-spacing:2.15px">10</text>
<text x="998.56" y="678.0" font-size="21" fill="#000" style="letter-spacing:7.93px">m/s</text>
<rect x="110.40" y="760.6" width="33.83" height="30.8" fill="#ffffff" stroke="#000" stroke-width="1" shape-rendering="crispEdges"/>
<rect x="144.23" y="760.6" width="33.83" height="30.8" fill="#d9effb" stroke="#000" stroke-width="1" shape-rendering="crispEdges"/>
<rect x="178.06" y="760.6" width="33.83" height="30.8" fill="#a6dcf5" stroke="#000" stroke-width="1" shape-rendering="crispEdges"/>
<rect x="211.89" y="760.6" width="33.83" height="30.8" fill="#6fb1de" stroke="#000" stroke-width="1" shape-rendering="crispEdges"/>
<rect x="245.72" y="760.6" width="33.83" height="30.8" fill="#4a8fc3" stroke="#000" stroke-width="1" shape-rendering="crispEdges"/>
<rect x="279.55" y="760.6" width="33.83" height="30.8" fill="#dde9b8" stroke="#000" stroke-width="1" shape-rendering="crispEdges"/>
<rect x="313.38" y="760.6" width="33.83" height="30.8" fill="#c0d87a" stroke="#000" stroke-width="1" shape-rendering="crispEdges"/>
<rect x="347.21" y="760.6" width="33.83" height="30.8" fill="#c3e07c" stroke="#000" stroke-width="1" shape-rendering="crispEdges"/>
<rect x="381.04" y="760.6" width="33.83" height="30.8" fill="#8fce52" stroke="#000" stroke-width="1" shape-rendering="crispEdges"/>
<rect x="414.87" y="760.6" width="33.83" height="30.8" fill="#6fab36" stroke="#000" stroke-width="1" shape-rendering="crispEdges"/>
<rect x="448.70" y="760.6" width="33.83" height="30.8" fill="#f5fa6a" stroke="#000" stroke-width="1" shape-rendering="crispEdges"/>
<rect x="482.53" y="760.6" width="33.83" height="30.8" fill="#f5e65a" stroke="#000" stroke-width="1" shape-rendering="crispEdges"/>
<rect x="516.36" y="760.6" width="33.83" height="30.8" fill="#fff200" stroke="#000" stroke-width="1" shape-rendering="crispEdges"/>
<rect x="550.19" y="760.6" width="33.83" height="30.8" fill="#ffe800" stroke="#000" stroke-width="1" shape-rendering="crispEdges"/>
<rect x="584.02" y="760.6" width="33.83" height="30.8" fill="#f7b64a" stroke="#000" stroke-width="1" shape-rendering="crispEdges"/>
<rect x="617.85" y="760.6" width="33.83" height="30.8" fill="#fdb02a" stroke="#000" stroke-width="1" shape-rendering="crispEdges"/>
<rect x="651.68" y="760.6" width="33.83" height="30.8" fill="#ff8c00" stroke="#000" stroke-width="1" shape-rendering="crispEdges"/>
<rect x="685.51" y="760.6" width="33.83" height="30.8" fill="#f06030" stroke="#000" stroke-width="1" shape-rendering="crispEdges"/>
<rect x="719.34" y="760.6" width="33.83" height="30.8" fill="#ff6b6b" stroke="#000" stroke-width="1" shape-rendering="crispEdges"/>
<rect x="753.17" y="760.6" width="33.83" height="30.8" fill="#f5305a" stroke="#000" stroke-width="1" shape-rendering="crispEdges"/>
<rect x="787.00" y="760.6" width="33.83" height="30.8" fill="#f5054f" stroke="#000" stroke-width="1" shape-rendering="crispEdges"/>
<rect x="820.83" y="760.6" width="33.83" height="30.8" fill="#ff0000" stroke="#000" stroke-width="1" shape-rendering="crispEdges"/>
<rect x="854.66" y="760.6" width="33.83" height="30.8" fill="#cc1480" stroke="#000" stroke-width="1" shape-rendering="crispEdges"/>
<rect x="888.49" y="760.6" width="33.83" height="30.8" fill="#a83060" stroke="#000" stroke-width="1" shape-rendering="crispEdges"/>
<rect x="922.32" y="760.6" width="33.83" height="30.8" fill="#9932cc" stroke="#000" stroke-width="1" shape-rendering="crispEdges"/>
<rect x="956.15" y="760.6" width="33.83" height="30.8" fill="#8a2be2" stroke="#000" stroke-width="1" shape-rendering="crispEdges"/>
<text x="127.58" y="813.0" font-size="23.5" fill="#000" style="letter-spacing:2.16px">0.2</text>
<text x="195.24" y="813.0" font-size="23.5" fill="#000" style="letter-spacing:1.86px">0.6</text>
<text x="273.98" y="813.0" font-size="23.5" fill="#000" style="letter-spacing:0.00px">1</text>
<text x="329.39" y="813.0" font-size="23.5" fill="#000" style="letter-spacing:2.28px">1.4</text>
<text x="397.05" y="813.0" font-size="23.5" fill="#000" style="letter-spacing:2.54px">1.8</text>
<text x="465.75" y="813.0" font-size="23.5" fill="#000" style="letter-spacing:2.04px">2.5</text>
<text x="533.32" y="813.0" font-size="23.5" fill="#000" style="letter-spacing:2.08px">3.5</text>
<text x="601.09" y="813.0" font-size="23.5" fill="#000" style="letter-spacing:2.03px">6.5</text>
<text x="662.69" y="813.0" font-size="23.5" fill="#000" style="letter-spacing:1.12px">11.5</text>
<text x="729.60" y="813.0" font-size="23.5" fill="#000" style="letter-spacing:1.62px">16.5</text>
<text x="798.30" y="813.0" font-size="23.5" fill="#000" style="letter-spacing:1.28px">21.5</text>
<text x="874.46" y="813.0" font-size="23.5" fill="#000" style="letter-spacing:4.21px">27</text>
<text x="943.58" y="813.0" font-size="23.5" fill="#000" style="letter-spacing:2.59px">33(mg/m3)</text>
</svg></body></html>
